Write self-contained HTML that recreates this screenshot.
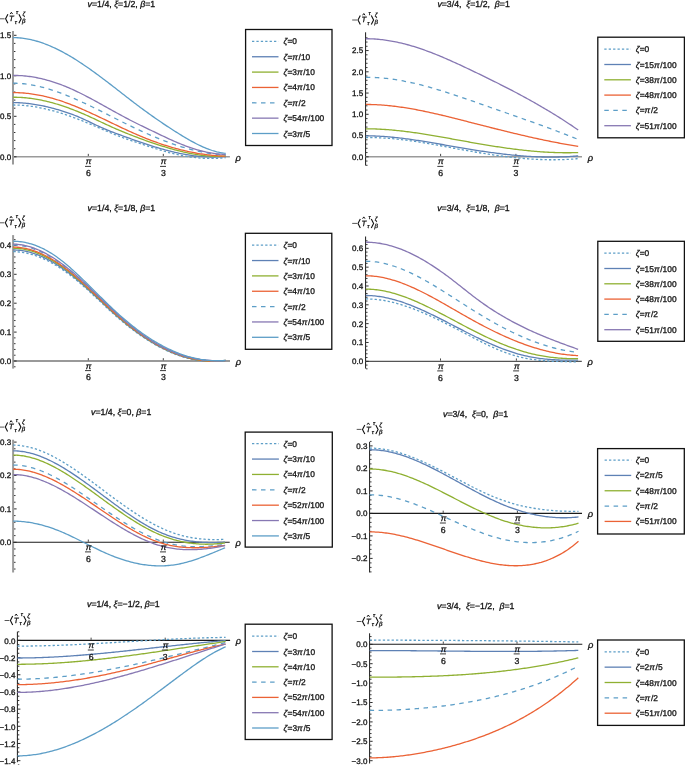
<!DOCTYPE html>
<html><head><meta charset="utf-8"><style>
html,body{margin:0;padding:0;background:#fff;width:685px;height:765px;overflow:hidden}
svg{display:block;will-change:transform;filter:blur(0.3px)}
text{font-family:"Liberation Sans", sans-serif;stroke:#111;stroke-width:0.3px;paint-order:stroke;text-rendering:geometricPrecision}
</style></head><body>
<svg width="685" height="765" viewBox="0 0 685 765">
<rect width="685" height="765" fill="#fff"/>
<line x1="13.00" y1="30.90" x2="13.00" y2="164.60" stroke="#9a9a9a" stroke-width="2.00"/>
<line x1="13.00" y1="156.80" x2="229.90" y2="156.80" stroke="#9a9a9a" stroke-width="1.50"/>
<line x1="14.00" y1="148.70" x2="15.40" y2="148.70" stroke="#222" stroke-width="0.95"/>
<line x1="14.00" y1="140.60" x2="15.40" y2="140.60" stroke="#222" stroke-width="0.95"/>
<line x1="14.00" y1="132.50" x2="15.40" y2="132.50" stroke="#222" stroke-width="0.95"/>
<line x1="14.00" y1="124.40" x2="15.40" y2="124.40" stroke="#222" stroke-width="0.95"/>
<line x1="14.00" y1="108.20" x2="15.40" y2="108.20" stroke="#222" stroke-width="0.95"/>
<line x1="14.00" y1="100.10" x2="15.40" y2="100.10" stroke="#222" stroke-width="0.95"/>
<line x1="14.00" y1="92.00" x2="15.40" y2="92.00" stroke="#222" stroke-width="0.95"/>
<line x1="14.00" y1="83.90" x2="15.40" y2="83.90" stroke="#222" stroke-width="0.95"/>
<line x1="14.00" y1="67.70" x2="15.40" y2="67.70" stroke="#222" stroke-width="0.95"/>
<line x1="14.00" y1="59.60" x2="15.40" y2="59.60" stroke="#222" stroke-width="0.95"/>
<line x1="14.00" y1="51.50" x2="15.40" y2="51.50" stroke="#222" stroke-width="0.95"/>
<line x1="14.00" y1="43.40" x2="15.40" y2="43.40" stroke="#222" stroke-width="0.95"/>
<line x1="14.00" y1="156.80" x2="16.50" y2="156.80" stroke="#222" stroke-width="0.95"/>
<text x="11.20" y="159.70" font-size="8.00" text-anchor="end" fill="#111"><tspan>0.0</tspan></text>
<line x1="14.00" y1="116.30" x2="16.50" y2="116.30" stroke="#222" stroke-width="0.95"/>
<text x="11.20" y="119.20" font-size="8.00" text-anchor="end" fill="#111"><tspan>0.5</tspan></text>
<line x1="14.00" y1="75.80" x2="16.50" y2="75.80" stroke="#222" stroke-width="0.95"/>
<text x="11.20" y="78.70" font-size="8.00" text-anchor="end" fill="#111"><tspan>1.0</tspan></text>
<line x1="14.00" y1="35.30" x2="16.50" y2="35.30" stroke="#222" stroke-width="0.95"/>
<text x="11.20" y="38.20" font-size="8.00" text-anchor="end" fill="#111"><tspan>1.5</tspan></text>
<line x1="88.30" y1="156.05" x2="88.30" y2="153.85" stroke="#333" stroke-width="0.9"/>
<line x1="163.30" y1="156.05" x2="163.30" y2="153.85" stroke="#333" stroke-width="0.9"/>
<text x="235.60" y="160.60" font-size="9.40" text-anchor="start" fill="#111"><tspan font-style="italic">ρ</tspan></text>
<path d="M13.10,105.00 L14.60,105.01 L16.09,105.04 L17.59,105.09 L19.09,105.16 L20.59,105.24 L22.08,105.34 L23.58,105.45 L25.08,105.58 L26.57,105.73 L28.07,105.90 L29.57,106.08 L31.07,106.27 L32.56,106.48 L34.06,106.71 L35.56,106.95 L37.05,107.21 L38.55,107.48 L40.05,107.77 L41.55,108.07 L43.04,108.38 L44.54,108.71 L46.04,109.05 L47.54,109.40 L49.03,109.77 L50.53,110.15 L52.03,110.54 L53.52,110.95 L55.02,111.36 L56.52,111.79 L58.02,112.23 L59.51,112.69 L61.01,113.15 L62.51,113.63 L64.00,114.11 L65.50,114.61 L67.00,115.12 L68.50,115.64 L69.99,116.16 L71.49,116.70 L72.99,117.25 L74.48,117.80 L75.98,118.37 L77.48,118.94 L78.98,119.53 L80.47,120.12 L81.97,120.72 L83.47,121.33 L84.96,121.94 L86.46,122.56 L87.96,123.19 L89.46,123.82 L90.95,124.45 L92.45,125.09 L93.95,125.73 L95.45,126.37 L96.94,127.01 L98.44,127.65 L99.94,128.30 L101.43,128.94 L102.93,129.58 L104.43,130.22 L105.93,130.86 L107.42,131.49 L108.92,132.12 L110.42,132.74 L111.91,133.36 L113.41,133.97 L114.91,134.58 L116.41,135.18 L117.90,135.77 L119.40,136.35 L120.90,136.92 L122.39,137.48 L123.89,138.03 L125.39,138.58 L126.89,139.12 L128.38,139.65 L129.88,140.17 L131.38,140.69 L132.87,141.20 L134.37,141.71 L135.87,142.21 L137.37,142.71 L138.86,143.20 L140.36,143.69 L141.86,144.18 L143.35,144.67 L144.85,145.16 L146.35,145.64 L147.85,146.13 L149.34,146.61 L150.84,147.09 L152.34,147.58 L153.84,148.05 L155.33,148.53 L156.83,149.00 L158.33,149.46 L159.82,149.92 L161.32,150.37 L162.82,150.81 L164.32,151.25 L165.81,151.68 L167.31,152.10 L168.81,152.51 L170.30,152.91 L171.80,153.29 L173.30,153.67 L174.80,154.03 L176.29,154.38 L177.79,154.72 L179.29,155.04 L180.78,155.34 L182.28,155.64 L183.78,155.92 L185.28,156.18 L186.77,156.43 L188.27,156.67 L189.77,156.89 L191.26,157.10 L192.76,157.29 L194.26,157.47 L195.76,157.64 L197.25,157.78 L198.75,157.92 L200.25,158.04 L201.75,158.14 L203.24,158.23 L204.74,158.30 L206.24,158.35 L207.73,158.39 L209.23,158.42 L210.73,158.43 L212.23,158.42 L213.72,158.40 L215.22,158.36 L216.72,158.30 L218.21,158.23 L219.71,158.14 L221.21,158.03 L222.71,157.91 L224.20,157.77 L225.70,157.62" fill="none" stroke="#5D9EC7" stroke-width="1.30" stroke-dasharray="2.3 2.1" stroke-linejoin="round"/>
<path d="M13.10,102.57 L14.60,102.59 L16.09,102.62 L17.59,102.67 L19.09,102.74 L20.59,102.82 L22.08,102.92 L23.58,103.04 L25.08,103.17 L26.57,103.32 L28.07,103.49 L29.57,103.66 L31.07,103.86 L32.56,104.07 L34.06,104.29 L35.56,104.53 L37.05,104.78 L38.55,105.05 L40.05,105.33 L41.55,105.62 L43.04,105.93 L44.54,106.25 L46.04,106.58 L47.54,106.93 L49.03,107.29 L50.53,107.66 L52.03,108.04 L53.52,108.43 L55.02,108.84 L56.52,109.26 L58.02,109.69 L59.51,110.13 L61.01,110.58 L62.51,111.04 L64.00,111.52 L65.50,112.01 L67.00,112.51 L68.50,113.02 L69.99,113.55 L71.49,114.10 L72.99,114.66 L74.48,115.24 L75.98,115.84 L77.48,116.45 L78.98,117.09 L80.47,117.74 L81.97,118.41 L83.47,119.09 L84.96,119.78 L86.46,120.48 L87.96,121.19 L89.46,121.90 L90.95,122.62 L92.45,123.34 L93.95,124.05 L95.45,124.76 L96.94,125.47 L98.44,126.17 L99.94,126.86 L101.43,127.53 L102.93,128.19 L104.43,128.84 L105.93,129.47 L107.42,130.09 L108.92,130.69 L110.42,131.28 L111.91,131.86 L113.41,132.43 L114.91,132.99 L116.41,133.55 L117.90,134.10 L119.40,134.65 L120.90,135.20 L122.39,135.75 L123.89,136.29 L125.39,136.84 L126.89,137.38 L128.38,137.92 L129.88,138.46 L131.38,139.00 L132.87,139.53 L134.37,140.06 L135.87,140.59 L137.37,141.11 L138.86,141.63 L140.36,142.15 L141.86,142.66 L143.35,143.17 L144.85,143.67 L146.35,144.17 L147.85,144.66 L149.34,145.14 L150.84,145.62 L152.34,146.10 L153.84,146.57 L155.33,147.03 L156.83,147.48 L158.33,147.93 L159.82,148.37 L161.32,148.80 L162.82,149.22 L164.32,149.64 L165.81,150.05 L167.31,150.45 L168.81,150.83 L170.30,151.21 L171.80,151.59 L173.30,151.95 L174.80,152.30 L176.29,152.64 L177.79,152.97 L179.29,153.28 L180.78,153.59 L182.28,153.89 L183.78,154.17 L185.28,154.45 L186.77,154.71 L188.27,154.95 L189.77,155.19 L191.26,155.41 L192.76,155.62 L194.26,155.82 L195.76,156.00 L197.25,156.17 L198.75,156.32 L200.25,156.46 L201.75,156.58 L203.24,156.69 L204.74,156.79 L206.24,156.86 L207.73,156.93 L209.23,156.97 L210.73,157.00 L212.23,157.02 L213.72,157.01 L215.22,156.99 L216.72,156.95 L218.21,156.90 L219.71,156.82 L221.21,156.73 L222.71,156.62 L224.20,156.49 L225.70,156.34" fill="none" stroke="#5E81B5" stroke-width="1.30" stroke-linejoin="round"/>
<path d="M13.10,97.24 L14.60,97.24 L16.09,97.26 L17.59,97.30 L19.09,97.35 L20.59,97.43 L22.08,97.52 L23.58,97.63 L25.08,97.75 L26.57,97.90 L28.07,98.05 L29.57,98.23 L31.07,98.42 L32.56,98.63 L34.06,98.85 L35.56,99.09 L37.05,99.35 L38.55,99.62 L40.05,99.91 L41.55,100.21 L43.04,100.52 L44.54,100.85 L46.04,101.20 L47.54,101.56 L49.03,101.93 L50.53,102.32 L52.03,102.72 L53.52,103.13 L55.02,103.56 L56.52,104.00 L58.02,104.45 L59.51,104.92 L61.01,105.40 L62.51,105.89 L64.00,106.39 L65.50,106.91 L67.00,107.44 L68.50,107.97 L69.99,108.52 L71.49,109.09 L72.99,109.66 L74.48,110.24 L75.98,110.83 L77.48,111.44 L78.98,112.05 L80.47,112.68 L81.97,113.31 L83.47,113.95 L84.96,114.61 L86.46,115.27 L87.96,115.94 L89.46,116.62 L90.95,117.31 L92.45,118.00 L93.95,118.70 L95.45,119.40 L96.94,120.10 L98.44,120.81 L99.94,121.51 L101.43,122.22 L102.93,122.92 L104.43,123.63 L105.93,124.33 L107.42,125.02 L108.92,125.71 L110.42,126.39 L111.91,127.07 L113.41,127.73 L114.91,128.39 L116.41,129.04 L117.90,129.68 L119.40,130.32 L120.90,130.94 L122.39,131.56 L123.89,132.18 L125.39,132.79 L126.89,133.39 L128.38,133.99 L129.88,134.58 L131.38,135.17 L132.87,135.75 L134.37,136.33 L135.87,136.91 L137.37,137.48 L138.86,138.04 L140.36,138.60 L141.86,139.15 L143.35,139.70 L144.85,140.24 L146.35,140.78 L147.85,141.31 L149.34,141.84 L150.84,142.36 L152.34,142.87 L153.84,143.38 L155.33,143.88 L156.83,144.37 L158.33,144.86 L159.82,145.34 L161.32,145.81 L162.82,146.28 L164.32,146.74 L165.81,147.19 L167.31,147.64 L168.81,148.08 L170.30,148.51 L171.80,148.93 L173.30,149.35 L174.80,149.76 L176.29,150.16 L177.79,150.55 L179.29,150.93 L180.78,151.31 L182.28,151.67 L183.78,152.03 L185.28,152.37 L186.77,152.70 L188.27,153.02 L189.77,153.33 L191.26,153.63 L192.76,153.92 L194.26,154.19 L195.76,154.44 L197.25,154.69 L198.75,154.92 L200.25,155.13 L201.75,155.33 L203.24,155.51 L204.74,155.68 L206.24,155.83 L207.73,155.96 L209.23,156.07 L210.73,156.17 L212.23,156.24 L213.72,156.30 L215.22,156.34 L216.72,156.36 L218.21,156.35 L219.71,156.33 L221.21,156.28 L222.71,156.22 L224.20,156.13 L225.70,156.02" fill="none" stroke="#8FB032" stroke-width="1.30" stroke-linejoin="round"/>
<path d="M13.10,92.60 L14.60,92.60 L16.09,92.63 L17.59,92.67 L19.09,92.73 L20.59,92.80 L22.08,92.90 L23.58,93.01 L25.08,93.14 L26.57,93.29 L28.07,93.45 L29.57,93.63 L31.07,93.83 L32.56,94.04 L34.06,94.27 L35.56,94.52 L37.05,94.78 L38.55,95.06 L40.05,95.35 L41.55,95.66 L43.04,95.98 L44.54,96.32 L46.04,96.67 L47.54,97.04 L49.03,97.42 L50.53,97.81 L52.03,98.22 L53.52,98.64 L55.02,99.08 L56.52,99.53 L58.02,100.00 L59.51,100.48 L61.01,100.97 L62.51,101.48 L64.00,102.00 L65.50,102.53 L67.00,103.07 L68.50,103.63 L69.99,104.20 L71.49,104.77 L72.99,105.36 L74.48,105.96 L75.98,106.57 L77.48,107.19 L78.98,107.82 L80.47,108.45 L81.97,109.10 L83.47,109.75 L84.96,110.41 L86.46,111.07 L87.96,111.75 L89.46,112.43 L90.95,113.11 L92.45,113.80 L93.95,114.50 L95.45,115.19 L96.94,115.90 L98.44,116.60 L99.94,117.32 L101.43,118.03 L102.93,118.74 L104.43,119.46 L105.93,120.18 L107.42,120.90 L108.92,121.62 L110.42,122.34 L111.91,123.06 L113.41,123.78 L114.91,124.49 L116.41,125.21 L117.90,125.92 L119.40,126.64 L120.90,127.34 L122.39,128.05 L123.89,128.75 L125.39,129.45 L126.89,130.14 L128.38,130.83 L129.88,131.51 L131.38,132.18 L132.87,132.85 L134.37,133.52 L135.87,134.17 L137.37,134.82 L138.86,135.46 L140.36,136.09 L141.86,136.71 L143.35,137.33 L144.85,137.93 L146.35,138.53 L147.85,139.12 L149.34,139.70 L150.84,140.27 L152.34,140.83 L153.84,141.39 L155.33,141.93 L156.83,142.47 L158.33,142.99 L159.82,143.51 L161.32,144.02 L162.82,144.52 L164.32,145.01 L165.81,145.49 L167.31,145.96 L168.81,146.42 L170.30,146.87 L171.80,147.31 L173.30,147.75 L174.80,148.17 L176.29,148.58 L177.79,148.98 L179.29,149.37 L180.78,149.76 L182.28,150.13 L183.78,150.49 L185.28,150.84 L186.77,151.18 L188.27,151.51 L189.77,151.83 L191.26,152.14 L192.76,152.44 L194.26,152.73 L195.76,153.01 L197.25,153.27 L198.75,153.53 L200.25,153.77 L201.75,154.01 L203.24,154.23 L204.74,154.44 L206.24,154.64 L207.73,154.83 L209.23,155.01 L210.73,155.17 L212.23,155.32 L213.72,155.47 L215.22,155.60 L216.72,155.72 L218.21,155.82 L219.71,155.92 L221.21,156.00 L222.71,156.07 L224.20,156.13 L225.70,156.18" fill="none" stroke="#EB6235" stroke-width="1.30" stroke-linejoin="round"/>
<path d="M13.10,83.20 L14.60,83.21 L16.09,83.25 L17.59,83.31 L19.09,83.40 L20.59,83.50 L22.08,83.63 L23.58,83.77 L25.08,83.94 L26.57,84.13 L28.07,84.33 L29.57,84.56 L31.07,84.80 L32.56,85.07 L34.06,85.35 L35.56,85.65 L37.05,85.97 L38.55,86.31 L40.05,86.66 L41.55,87.03 L43.04,87.42 L44.54,87.82 L46.04,88.24 L47.54,88.67 L49.03,89.12 L50.53,89.58 L52.03,90.06 L53.52,90.55 L55.02,91.05 L56.52,91.57 L58.02,92.10 L59.51,92.64 L61.01,93.19 L62.51,93.76 L64.00,94.34 L65.50,94.93 L67.00,95.53 L68.50,96.14 L69.99,96.76 L71.49,97.38 L72.99,98.02 L74.48,98.67 L75.98,99.33 L77.48,99.99 L78.98,100.66 L80.47,101.34 L81.97,102.03 L83.47,102.72 L84.96,103.42 L86.46,104.13 L87.96,104.84 L89.46,105.56 L90.95,106.28 L92.45,107.00 L93.95,107.74 L95.45,108.47 L96.94,109.21 L98.44,109.95 L99.94,110.70 L101.43,111.44 L102.93,112.19 L104.43,112.94 L105.93,113.70 L107.42,114.45 L108.92,115.21 L110.42,115.96 L111.91,116.72 L113.41,117.47 L114.91,118.22 L116.41,118.98 L117.90,119.73 L119.40,120.48 L120.90,121.23 L122.39,121.97 L123.89,122.72 L125.39,123.46 L126.89,124.19 L128.38,124.93 L129.88,125.66 L131.38,126.38 L132.87,127.10 L134.37,127.82 L135.87,128.53 L137.37,129.23 L138.86,129.93 L140.36,130.62 L141.86,131.31 L143.35,131.99 L144.85,132.67 L146.35,133.34 L147.85,134.00 L149.34,134.66 L150.84,135.31 L152.34,135.95 L153.84,136.59 L155.33,137.22 L156.83,137.84 L158.33,138.45 L159.82,139.05 L161.32,139.65 L162.82,140.24 L164.32,140.82 L165.81,141.39 L167.31,141.95 L168.81,142.50 L170.30,143.05 L171.80,143.58 L173.30,144.11 L174.80,144.62 L176.29,145.12 L177.79,145.62 L179.29,146.10 L180.78,146.57 L182.28,147.04 L183.78,147.49 L185.28,147.93 L186.77,148.36 L188.27,148.77 L189.77,149.18 L191.26,149.57 L192.76,149.95 L194.26,150.32 L195.76,150.67 L197.25,151.02 L198.75,151.35 L200.25,151.66 L201.75,151.97 L203.24,152.26 L204.74,152.53 L206.24,152.80 L207.73,153.04 L209.23,153.28 L210.73,153.50 L212.23,153.70 L213.72,153.89 L215.22,154.07 L216.72,154.23 L218.21,154.37 L219.71,154.50 L221.21,154.61 L222.71,154.71 L224.20,154.79 L225.70,154.86" fill="none" stroke="#5D9EC7" stroke-width="1.30" stroke-dasharray="4.5 4.5" stroke-linejoin="round"/>
<path d="M13.10,75.41 L14.60,75.41 L16.09,75.44 L17.59,75.48 L19.09,75.54 L20.59,75.62 L22.08,75.72 L23.58,75.85 L25.08,75.98 L26.57,76.14 L28.07,76.32 L29.57,76.51 L31.07,76.73 L32.56,76.96 L34.06,77.21 L35.56,77.48 L37.05,77.76 L38.55,78.07 L40.05,78.39 L41.55,78.73 L43.04,79.09 L44.54,79.46 L46.04,79.85 L47.54,80.26 L49.03,80.68 L50.53,81.13 L52.03,81.58 L53.52,82.06 L55.02,82.55 L56.52,83.06 L58.02,83.58 L59.51,84.12 L61.01,84.68 L62.51,85.25 L64.00,85.84 L65.50,86.44 L67.00,87.06 L68.50,87.69 L69.99,88.34 L71.49,89.00 L72.99,89.68 L74.48,90.37 L75.98,91.07 L77.48,91.79 L78.98,92.51 L80.47,93.25 L81.97,94.00 L83.47,94.76 L84.96,95.53 L86.46,96.30 L87.96,97.08 L89.46,97.88 L90.95,98.67 L92.45,99.48 L93.95,100.29 L95.45,101.10 L96.94,101.92 L98.44,102.74 L99.94,103.57 L101.43,104.40 L102.93,105.23 L104.43,106.06 L105.93,106.89 L107.42,107.73 L108.92,108.56 L110.42,109.39 L111.91,110.23 L113.41,111.06 L114.91,111.89 L116.41,112.72 L117.90,113.54 L119.40,114.36 L120.90,115.18 L122.39,115.99 L123.89,116.79 L125.39,117.59 L126.89,118.39 L128.38,119.18 L129.88,119.96 L131.38,120.73 L132.87,121.49 L134.37,122.25 L135.87,123.00 L137.37,123.74 L138.86,124.48 L140.36,125.22 L141.86,125.94 L143.35,126.67 L144.85,127.39 L146.35,128.11 L147.85,128.83 L149.34,129.55 L150.84,130.26 L152.34,130.98 L153.84,131.69 L155.33,132.41 L156.83,133.13 L158.33,133.85 L159.82,134.57 L161.32,135.29 L162.82,136.00 L164.32,136.71 L165.81,137.42 L167.31,138.12 L168.81,138.81 L170.30,139.50 L171.80,140.18 L173.30,140.85 L174.80,141.51 L176.29,142.15 L177.79,142.79 L179.29,143.41 L180.78,144.02 L182.28,144.62 L183.78,145.20 L185.28,145.77 L186.77,146.33 L188.27,146.87 L189.77,147.40 L191.26,147.90 L192.76,148.40 L194.26,148.88 L195.76,149.34 L197.25,149.78 L198.75,150.20 L200.25,150.61 L201.75,151.00 L203.24,151.37 L204.74,151.72 L206.24,152.05 L207.73,152.36 L209.23,152.65 L210.73,152.92 L212.23,153.17 L213.72,153.39 L215.22,153.60 L216.72,153.78 L218.21,153.94 L219.71,154.07 L221.21,154.18 L222.71,154.27 L224.20,154.33 L225.70,154.37" fill="none" stroke="#8778B3" stroke-width="1.30" stroke-linejoin="round"/>
<path d="M13.10,37.60 L14.60,37.61 L16.09,37.66 L17.59,37.74 L19.09,37.84 L20.59,37.98 L22.08,38.14 L23.58,38.33 L25.08,38.55 L26.57,38.79 L28.07,39.07 L29.57,39.37 L31.07,39.69 L32.56,40.05 L34.06,40.42 L35.56,40.83 L37.05,41.25 L38.55,41.70 L40.05,42.18 L41.55,42.68 L43.04,43.20 L44.54,43.75 L46.04,44.31 L47.54,44.90 L49.03,45.51 L50.53,46.15 L52.03,46.80 L53.52,47.47 L55.02,48.17 L56.52,48.88 L58.02,49.61 L59.51,50.37 L61.01,51.14 L62.51,51.93 L64.00,52.73 L65.50,53.56 L67.00,54.40 L68.50,55.26 L69.99,56.13 L71.49,57.02 L72.99,57.93 L74.48,58.85 L75.98,59.78 L77.48,60.73 L78.98,61.69 L80.47,62.67 L81.97,63.66 L83.47,64.67 L84.96,65.68 L86.46,66.71 L87.96,67.75 L89.46,68.80 L90.95,69.86 L92.45,70.93 L93.95,72.01 L95.45,73.11 L96.94,74.20 L98.44,75.31 L99.94,76.42 L101.43,77.55 L102.93,78.67 L104.43,79.81 L105.93,80.95 L107.42,82.09 L108.92,83.24 L110.42,84.39 L111.91,85.54 L113.41,86.70 L114.91,87.86 L116.41,89.02 L117.90,90.18 L119.40,91.35 L120.90,92.51 L122.39,93.67 L123.89,94.84 L125.39,96.00 L126.89,97.15 L128.38,98.31 L129.88,99.46 L131.38,100.61 L132.87,101.76 L134.37,102.90 L135.87,104.03 L137.37,105.16 L138.86,106.28 L140.36,107.40 L141.86,108.51 L143.35,109.61 L144.85,110.71 L146.35,111.80 L147.85,112.89 L149.34,113.96 L150.84,115.03 L152.34,116.10 L153.84,117.15 L155.33,118.20 L156.83,119.25 L158.33,120.28 L159.82,121.31 L161.32,122.33 L162.82,123.35 L164.32,124.35 L165.81,125.35 L167.31,126.34 L168.81,127.33 L170.30,128.30 L171.80,129.27 L173.30,130.24 L174.80,131.19 L176.29,132.13 L177.79,133.07 L179.29,134.00 L180.78,134.92 L182.28,135.84 L183.78,136.74 L185.28,137.63 L186.77,138.51 L188.27,139.38 L189.77,140.23 L191.26,141.07 L192.76,141.89 L194.26,142.69 L195.76,143.48 L197.25,144.24 L198.75,144.98 L200.25,145.70 L201.75,146.40 L203.24,147.07 L204.74,147.71 L206.24,148.33 L207.73,148.92 L209.23,149.48 L210.73,150.00 L212.23,150.50 L213.72,150.96 L215.22,151.39 L216.72,151.79 L218.21,152.14 L219.71,152.46 L221.21,152.74 L222.71,152.98 L224.20,153.18 L225.70,153.34" fill="none" stroke="#5D9EC7" stroke-width="1.30" stroke-linejoin="round"/>
<text x="88.60" y="164.30" font-size="8.40" text-anchor="middle" fill="#111"><tspan font-style="italic">π</tspan></text>
<line x1="85.00" y1="166.40" x2="91.00" y2="166.40" stroke="#222" stroke-width="0.9"/>
<text x="88.30" y="176.00" font-size="8.70" text-anchor="middle" fill="#111"><tspan>6</tspan></text>
<text x="163.60" y="164.30" font-size="8.40" text-anchor="middle" fill="#111"><tspan font-style="italic">π</tspan></text>
<line x1="160.00" y1="166.40" x2="166.00" y2="166.40" stroke="#222" stroke-width="0.9"/>
<text x="163.30" y="176.00" font-size="8.70" text-anchor="middle" fill="#111"><tspan>3</tspan></text>
<text x="121.40" y="6.60" font-size="8.75" text-anchor="middle" fill="#111"><tspan font-style="italic">v</tspan><tspan>=1/4, </tspan><tspan font-style="italic">ξ</tspan><tspan>=1/2, </tspan><tspan font-style="italic">β</tspan><tspan>=1</tspan></text>
<g transform="translate(-0.40,18.80)" fill="#1a1a1a">
<line x1="0.2" y1="0" x2="5.0" y2="0" stroke="#444" stroke-width="0.9"/>
<polyline points="8.3,-4.5 6.0,0 8.3,4.5" fill="none" stroke="#111" stroke-width="1.1"/>
<polyline points="19.3,-4.5 21.6,0 19.3,4.5" fill="none" stroke="#111" stroke-width="1.1"/>
<text fill="#111" x="9.4" y="2.1" font-size="7.8" font-style="italic">T</text>
<polyline points="10.6,-4.7 11.8,-6.5 13.0,-4.7" fill="none" stroke="#111" stroke-width="1.0"/>
<text x="16.4" y="-4.7" font-size="5.6" font-style="italic">τ</text>
<text x="15.2" y="4.8" font-size="5.6" font-style="italic">τ</text>
<text x="22.8" y="-2.9" font-size="6" font-style="italic">ζ</text>
<text x="22.5" y="4.3" font-size="6" font-style="italic">β</text>
</g>
<rect x="245.60" y="29.50" width="86.40" height="116.00" fill="none" stroke="#111" stroke-width="1.3"/>
<line x1="252.00" y1="41.40" x2="278.50" y2="41.40" stroke="#5D9EC7" stroke-width="1.3" stroke-dasharray="2.3 2.1"/>
<text x="283.50" y="44.40" font-size="8.40" text-anchor="start" fill="#111"><tspan font-style="italic">ζ</tspan><tspan>=</tspan><tspan>0</tspan></text>
<line x1="252.00" y1="56.75" x2="278.50" y2="56.75" stroke="#5E81B5" stroke-width="1.3"/>
<text x="283.50" y="59.75" font-size="8.40" text-anchor="start" fill="#111"><tspan font-style="italic">ζ</tspan><tspan>=</tspan><tspan font-style="italic">π</tspan><tspan dx="0.7">/10</tspan></text>
<line x1="252.00" y1="72.10" x2="278.50" y2="72.10" stroke="#8FB032" stroke-width="1.3"/>
<text x="283.50" y="75.10" font-size="8.40" text-anchor="start" fill="#111"><tspan font-style="italic">ζ</tspan><tspan>=</tspan><tspan>3</tspan><tspan font-style="italic">π</tspan><tspan dx="0.7">/10</tspan></text>
<line x1="252.00" y1="87.45" x2="278.50" y2="87.45" stroke="#EB6235" stroke-width="1.3"/>
<text x="283.50" y="90.45" font-size="8.40" text-anchor="start" fill="#111"><tspan font-style="italic">ζ</tspan><tspan>=</tspan><tspan>4</tspan><tspan font-style="italic">π</tspan><tspan dx="0.7">/10</tspan></text>
<line x1="252.00" y1="102.80" x2="278.50" y2="102.80" stroke="#5D9EC7" stroke-width="1.3" stroke-dasharray="4.5 4.5"/>
<text x="283.50" y="105.80" font-size="8.40" text-anchor="start" fill="#111"><tspan font-style="italic">ζ</tspan><tspan>=</tspan><tspan font-style="italic">π</tspan><tspan dx="0.7">/2</tspan></text>
<line x1="252.00" y1="118.15" x2="278.50" y2="118.15" stroke="#8778B3" stroke-width="1.3"/>
<text x="283.50" y="121.15" font-size="8.40" text-anchor="start" fill="#111"><tspan font-style="italic">ζ</tspan><tspan>=</tspan><tspan>54</tspan><tspan font-style="italic">π</tspan><tspan dx="0.7">/100</tspan></text>
<line x1="252.00" y1="133.50" x2="278.50" y2="133.50" stroke="#5D9EC7" stroke-width="1.3"/>
<text x="283.50" y="136.50" font-size="8.40" text-anchor="start" fill="#111"><tspan font-style="italic">ζ</tspan><tspan>=</tspan><tspan>3</tspan><tspan font-style="italic">π</tspan><tspan dx="0.7">/5</tspan></text>
<line x1="365.60" y1="32.30" x2="365.60" y2="165.60" stroke="#1a1a1a" stroke-width="1.00"/>
<line x1="365.60" y1="156.80" x2="582.00" y2="156.80" stroke="#9a9a9a" stroke-width="1.50"/>
<line x1="366.10" y1="165.30" x2="367.50" y2="165.30" stroke="#222" stroke-width="0.95"/>
<line x1="366.10" y1="161.05" x2="367.50" y2="161.05" stroke="#222" stroke-width="0.95"/>
<line x1="366.10" y1="152.55" x2="367.50" y2="152.55" stroke="#222" stroke-width="0.95"/>
<line x1="366.10" y1="148.30" x2="367.50" y2="148.30" stroke="#222" stroke-width="0.95"/>
<line x1="366.10" y1="144.05" x2="367.50" y2="144.05" stroke="#222" stroke-width="0.95"/>
<line x1="366.10" y1="139.80" x2="367.50" y2="139.80" stroke="#222" stroke-width="0.95"/>
<line x1="366.10" y1="131.30" x2="367.50" y2="131.30" stroke="#222" stroke-width="0.95"/>
<line x1="366.10" y1="127.05" x2="367.50" y2="127.05" stroke="#222" stroke-width="0.95"/>
<line x1="366.10" y1="122.80" x2="367.50" y2="122.80" stroke="#222" stroke-width="0.95"/>
<line x1="366.10" y1="118.55" x2="367.50" y2="118.55" stroke="#222" stroke-width="0.95"/>
<line x1="366.10" y1="110.05" x2="367.50" y2="110.05" stroke="#222" stroke-width="0.95"/>
<line x1="366.10" y1="105.80" x2="367.50" y2="105.80" stroke="#222" stroke-width="0.95"/>
<line x1="366.10" y1="101.55" x2="367.50" y2="101.55" stroke="#222" stroke-width="0.95"/>
<line x1="366.10" y1="97.30" x2="367.50" y2="97.30" stroke="#222" stroke-width="0.95"/>
<line x1="366.10" y1="88.80" x2="367.50" y2="88.80" stroke="#222" stroke-width="0.95"/>
<line x1="366.10" y1="84.55" x2="367.50" y2="84.55" stroke="#222" stroke-width="0.95"/>
<line x1="366.10" y1="80.30" x2="367.50" y2="80.30" stroke="#222" stroke-width="0.95"/>
<line x1="366.10" y1="76.05" x2="367.50" y2="76.05" stroke="#222" stroke-width="0.95"/>
<line x1="366.10" y1="67.55" x2="367.50" y2="67.55" stroke="#222" stroke-width="0.95"/>
<line x1="366.10" y1="63.30" x2="367.50" y2="63.30" stroke="#222" stroke-width="0.95"/>
<line x1="366.10" y1="59.05" x2="367.50" y2="59.05" stroke="#222" stroke-width="0.95"/>
<line x1="366.10" y1="54.80" x2="367.50" y2="54.80" stroke="#222" stroke-width="0.95"/>
<line x1="366.10" y1="46.30" x2="367.50" y2="46.30" stroke="#222" stroke-width="0.95"/>
<line x1="366.10" y1="42.05" x2="367.50" y2="42.05" stroke="#222" stroke-width="0.95"/>
<line x1="366.10" y1="37.80" x2="367.50" y2="37.80" stroke="#222" stroke-width="0.95"/>
<line x1="366.10" y1="156.80" x2="368.60" y2="156.80" stroke="#222" stroke-width="0.95"/>
<text x="363.20" y="159.70" font-size="8.00" text-anchor="end" fill="#111"><tspan>0.0</tspan></text>
<line x1="366.10" y1="135.55" x2="368.60" y2="135.55" stroke="#222" stroke-width="0.95"/>
<text x="363.20" y="138.45" font-size="8.00" text-anchor="end" fill="#111"><tspan>0.5</tspan></text>
<line x1="366.10" y1="114.30" x2="368.60" y2="114.30" stroke="#222" stroke-width="0.95"/>
<text x="363.20" y="117.20" font-size="8.00" text-anchor="end" fill="#111"><tspan>1.0</tspan></text>
<line x1="366.10" y1="93.05" x2="368.60" y2="93.05" stroke="#222" stroke-width="0.95"/>
<text x="363.20" y="95.95" font-size="8.00" text-anchor="end" fill="#111"><tspan>1.5</tspan></text>
<line x1="366.10" y1="71.80" x2="368.60" y2="71.80" stroke="#222" stroke-width="0.95"/>
<text x="363.20" y="74.70" font-size="8.00" text-anchor="end" fill="#111"><tspan>2.0</tspan></text>
<line x1="366.10" y1="50.55" x2="368.60" y2="50.55" stroke="#222" stroke-width="0.95"/>
<text x="363.20" y="53.45" font-size="8.00" text-anchor="end" fill="#111"><tspan>2.5</tspan></text>
<line x1="440.60" y1="156.05" x2="440.60" y2="153.85" stroke="#333" stroke-width="0.9"/>
<line x1="515.90" y1="156.05" x2="515.90" y2="153.85" stroke="#333" stroke-width="0.9"/>
<text x="587.70" y="160.60" font-size="9.40" text-anchor="start" fill="#111"><tspan font-style="italic">ρ</tspan></text>
<path d="M365.80,137.48 L367.30,137.48 L368.79,137.49 L370.29,137.50 L371.78,137.53 L373.28,137.56 L374.77,137.60 L376.27,137.66 L377.77,137.71 L379.26,137.78 L380.76,137.85 L382.25,137.94 L383.75,138.03 L385.25,138.12 L386.74,138.23 L388.24,138.34 L389.73,138.46 L391.23,138.59 L392.72,138.72 L394.22,138.86 L395.72,139.01 L397.21,139.16 L398.71,139.32 L400.20,139.48 L401.70,139.66 L403.19,139.83 L404.69,140.02 L406.19,140.21 L407.68,140.40 L409.18,140.60 L410.67,140.80 L412.17,141.01 L413.66,141.23 L415.16,141.45 L416.66,141.68 L418.15,141.90 L419.65,142.14 L421.14,142.38 L422.64,142.62 L424.14,142.86 L425.63,143.11 L427.13,143.37 L428.62,143.62 L430.12,143.88 L431.61,144.14 L433.11,144.41 L434.61,144.67 L436.10,144.94 L437.60,145.21 L439.09,145.48 L440.59,145.76 L442.08,146.03 L443.58,146.31 L445.08,146.58 L446.57,146.86 L448.07,147.14 L449.56,147.42 L451.06,147.70 L452.55,147.97 L454.05,148.25 L455.55,148.53 L457.04,148.80 L458.54,149.08 L460.03,149.35 L461.53,149.62 L463.03,149.89 L464.52,150.16 L466.02,150.43 L467.51,150.69 L469.01,150.96 L470.50,151.22 L472.00,151.48 L473.50,151.74 L474.99,151.99 L476.49,152.25 L477.98,152.50 L479.48,152.74 L480.97,152.99 L482.47,153.23 L483.97,153.47 L485.46,153.71 L486.96,153.94 L488.45,154.17 L489.95,154.40 L491.45,154.62 L492.94,154.84 L494.44,155.06 L495.93,155.28 L497.43,155.49 L498.92,155.69 L500.42,155.89 L501.92,156.09 L503.41,156.29 L504.91,156.48 L506.40,156.66 L507.90,156.84 L509.39,157.02 L510.89,157.19 L512.39,157.36 L513.88,157.52 L515.38,157.68 L516.87,157.83 L518.37,157.98 L519.86,158.12 L521.36,158.26 L522.86,158.39 L524.35,158.52 L525.85,158.64 L527.34,158.75 L528.84,158.86 L530.34,158.97 L531.83,159.06 L533.33,159.16 L534.82,159.24 L536.32,159.32 L537.81,159.39 L539.31,159.46 L540.81,159.52 L542.30,159.58 L543.80,159.62 L545.29,159.66 L546.79,159.70 L548.28,159.72 L549.78,159.74 L551.28,159.75 L552.77,159.76 L554.27,159.75 L555.76,159.74 L557.26,159.73 L558.75,159.70 L560.25,159.67 L561.75,159.63 L563.24,159.58 L564.74,159.52 L566.23,159.45 L567.73,159.38 L569.23,159.30 L570.72,159.21 L572.22,159.11 L573.71,159.00 L575.21,158.88 L576.70,158.76 L578.20,158.62" fill="none" stroke="#5D9EC7" stroke-width="1.30" stroke-dasharray="2.3 2.1" stroke-linejoin="round"/>
<path d="M365.80,135.83 L367.30,135.83 L368.79,135.84 L370.29,135.87 L371.78,135.90 L373.28,135.94 L374.77,135.99 L376.27,136.05 L377.77,136.12 L379.26,136.20 L380.76,136.28 L382.25,136.37 L383.75,136.47 L385.25,136.58 L386.74,136.70 L388.24,136.82 L389.73,136.95 L391.23,137.08 L392.72,137.23 L394.22,137.38 L395.72,137.53 L397.21,137.69 L398.71,137.86 L400.20,138.03 L401.70,138.21 L403.19,138.40 L404.69,138.59 L406.19,138.78 L407.68,138.98 L409.18,139.19 L410.67,139.40 L412.17,139.61 L413.66,139.83 L415.16,140.05 L416.66,140.27 L418.15,140.50 L419.65,140.73 L421.14,140.97 L422.64,141.21 L424.14,141.45 L425.63,141.69 L427.13,141.94 L428.62,142.19 L430.12,142.44 L431.61,142.69 L433.11,142.95 L434.61,143.20 L436.10,143.46 L437.60,143.72 L439.09,143.98 L440.59,144.24 L442.08,144.50 L443.58,144.76 L445.08,145.03 L446.57,145.29 L448.07,145.55 L449.56,145.81 L451.06,146.08 L452.55,146.34 L454.05,146.60 L455.55,146.86 L457.04,147.12 L458.54,147.37 L460.03,147.63 L461.53,147.88 L463.03,148.14 L464.52,148.39 L466.02,148.64 L467.51,148.88 L469.01,149.13 L470.50,149.37 L472.00,149.62 L473.50,149.86 L474.99,150.09 L476.49,150.33 L477.98,150.56 L479.48,150.79 L480.97,151.02 L482.47,151.24 L483.97,151.46 L485.46,151.68 L486.96,151.90 L488.45,152.11 L489.95,152.32 L491.45,152.53 L492.94,152.73 L494.44,152.93 L495.93,153.13 L497.43,153.32 L498.92,153.51 L500.42,153.69 L501.92,153.87 L503.41,154.05 L504.91,154.23 L506.40,154.39 L507.90,154.56 L509.39,154.72 L510.89,154.88 L512.39,155.03 L513.88,155.17 L515.38,155.32 L516.87,155.45 L518.37,155.59 L519.86,155.72 L521.36,155.84 L522.86,155.96 L524.35,156.07 L525.85,156.18 L527.34,156.28 L528.84,156.37 L530.34,156.46 L531.83,156.55 L533.33,156.63 L534.82,156.70 L536.32,156.77 L537.81,156.83 L539.31,156.89 L540.81,156.93 L542.30,156.98 L543.80,157.01 L545.29,157.04 L546.79,157.07 L548.28,157.08 L549.78,157.09 L551.28,157.10 L552.77,157.09 L554.27,157.08 L555.76,157.06 L557.26,157.04 L558.75,157.01 L560.25,156.97 L561.75,156.92 L563.24,156.86 L564.74,156.80 L566.23,156.73 L567.73,156.65 L569.23,156.57 L570.72,156.47 L572.22,156.37 L573.71,156.26 L575.21,156.14 L576.70,156.02 L578.20,155.88" fill="none" stroke="#5E81B5" stroke-width="1.30" stroke-linejoin="round"/>
<path d="M365.80,128.82 L367.30,128.83 L368.79,128.84 L370.29,128.86 L371.78,128.89 L373.28,128.92 L374.77,128.97 L376.27,129.02 L377.77,129.08 L379.26,129.15 L380.76,129.23 L382.25,129.31 L383.75,129.41 L385.25,129.50 L386.74,129.61 L388.24,129.72 L389.73,129.84 L391.23,129.97 L392.72,130.10 L394.22,130.24 L395.72,130.38 L397.21,130.54 L398.71,130.69 L400.20,130.85 L401.70,131.02 L403.19,131.20 L404.69,131.38 L406.19,131.56 L407.68,131.75 L409.18,131.94 L410.67,132.14 L412.17,132.34 L413.66,132.55 L415.16,132.76 L416.66,132.98 L418.15,133.20 L419.65,133.42 L421.14,133.65 L422.64,133.88 L424.14,134.12 L425.63,134.35 L427.13,134.59 L428.62,134.84 L430.12,135.08 L431.61,135.33 L433.11,135.58 L434.61,135.84 L436.10,136.09 L437.60,136.35 L439.09,136.61 L440.59,136.87 L442.08,137.14 L443.58,137.40 L445.08,137.67 L446.57,137.94 L448.07,138.21 L449.56,138.48 L451.06,138.75 L452.55,139.02 L454.05,139.29 L455.55,139.56 L457.04,139.83 L458.54,140.10 L460.03,140.38 L461.53,140.65 L463.03,140.92 L464.52,141.19 L466.02,141.46 L467.51,141.73 L469.01,142.00 L470.50,142.27 L472.00,142.53 L473.50,142.80 L474.99,143.06 L476.49,143.32 L477.98,143.58 L479.48,143.84 L480.97,144.09 L482.47,144.35 L483.97,144.60 L485.46,144.85 L486.96,145.09 L488.45,145.34 L489.95,145.58 L491.45,145.82 L492.94,146.06 L494.44,146.29 L495.93,146.53 L497.43,146.76 L498.92,146.98 L500.42,147.20 L501.92,147.42 L503.41,147.64 L504.91,147.85 L506.40,148.07 L507.90,148.27 L509.39,148.48 L510.89,148.67 L512.39,148.87 L513.88,149.06 L515.38,149.25 L516.87,149.44 L518.37,149.62 L519.86,149.79 L521.36,149.96 L522.86,150.13 L524.35,150.30 L525.85,150.45 L527.34,150.61 L528.84,150.76 L530.34,150.90 L531.83,151.04 L533.33,151.18 L534.82,151.31 L536.32,151.43 L537.81,151.55 L539.31,151.67 L540.81,151.78 L542.30,151.88 L543.80,151.98 L545.29,152.08 L546.79,152.16 L548.28,152.25 L549.78,152.32 L551.28,152.39 L552.77,152.46 L554.27,152.51 L555.76,152.57 L557.26,152.61 L558.75,152.65 L560.25,152.68 L561.75,152.71 L563.24,152.73 L564.74,152.74 L566.23,152.75 L567.73,152.75 L569.23,152.74 L570.72,152.73 L572.22,152.71 L573.71,152.68 L575.21,152.64 L576.70,152.60 L578.20,152.55" fill="none" stroke="#8FB032" stroke-width="1.30" stroke-linejoin="round"/>
<path d="M365.80,104.47 L367.30,104.47 L368.79,104.49 L370.29,104.51 L371.78,104.55 L373.28,104.59 L374.77,104.65 L376.27,104.72 L377.77,104.79 L379.26,104.88 L380.76,104.97 L382.25,105.08 L383.75,105.19 L385.25,105.32 L386.74,105.45 L388.24,105.59 L389.73,105.74 L391.23,105.90 L392.72,106.07 L394.22,106.24 L395.72,106.43 L397.21,106.62 L398.71,106.82 L400.20,107.03 L401.70,107.24 L403.19,107.46 L404.69,107.69 L406.19,107.92 L407.68,108.17 L409.18,108.42 L410.67,108.67 L412.17,108.93 L413.66,109.20 L415.16,109.47 L416.66,109.75 L418.15,110.04 L419.65,110.33 L421.14,110.63 L422.64,110.93 L424.14,111.24 L425.63,111.55 L427.13,111.86 L428.62,112.18 L430.12,112.51 L431.61,112.84 L433.11,113.17 L434.61,113.51 L436.10,113.85 L437.60,114.20 L439.09,114.54 L440.59,114.90 L442.08,115.25 L443.58,115.61 L445.08,115.97 L446.57,116.33 L448.07,116.70 L449.56,117.07 L451.06,117.44 L452.55,117.81 L454.05,118.19 L455.55,118.56 L457.04,118.94 L458.54,119.32 L460.03,119.70 L461.53,120.08 L463.03,120.47 L464.52,120.85 L466.02,121.24 L467.51,121.62 L469.01,122.01 L470.50,122.39 L472.00,122.78 L473.50,123.16 L474.99,123.55 L476.49,123.93 L477.98,124.32 L479.48,124.70 L480.97,125.08 L482.47,125.46 L483.97,125.85 L485.46,126.23 L486.96,126.61 L488.45,126.99 L489.95,127.37 L491.45,127.75 L492.94,128.12 L494.44,128.50 L495.93,128.87 L497.43,129.25 L498.92,129.62 L500.42,129.99 L501.92,130.36 L503.41,130.73 L504.91,131.10 L506.40,131.47 L507.90,131.83 L509.39,132.20 L510.89,132.56 L512.39,132.92 L513.88,133.28 L515.38,133.63 L516.87,133.99 L518.37,134.34 L519.86,134.69 L521.36,135.04 L522.86,135.39 L524.35,135.74 L525.85,136.08 L527.34,136.42 L528.84,136.76 L530.34,137.10 L531.83,137.43 L533.33,137.77 L534.82,138.10 L536.32,138.42 L537.81,138.75 L539.31,139.07 L540.81,139.39 L542.30,139.71 L543.80,140.02 L545.29,140.34 L546.79,140.65 L548.28,140.95 L549.78,141.26 L551.28,141.56 L552.77,141.85 L554.27,142.15 L555.76,142.44 L557.26,142.73 L558.75,143.01 L560.25,143.29 L561.75,143.57 L563.24,143.85 L564.74,144.12 L566.23,144.39 L567.73,144.65 L569.23,144.91 L570.72,145.17 L572.22,145.42 L573.71,145.67 L575.21,145.92 L576.70,146.16 L578.20,146.40" fill="none" stroke="#EB6235" stroke-width="1.30" stroke-linejoin="round"/>
<path d="M365.80,77.27 L367.30,77.28 L368.79,77.29 L370.29,77.32 L371.78,77.36 L373.28,77.42 L374.77,77.49 L376.27,77.57 L377.77,77.66 L379.26,77.76 L380.76,77.88 L382.25,78.01 L383.75,78.15 L385.25,78.31 L386.74,78.47 L388.24,78.65 L389.73,78.83 L391.23,79.03 L392.72,79.24 L394.22,79.46 L395.72,79.68 L397.21,79.92 L398.71,80.17 L400.20,80.43 L401.70,80.70 L403.19,80.98 L404.69,81.27 L406.19,81.56 L407.68,81.87 L409.18,82.18 L410.67,82.50 L412.17,82.83 L413.66,83.17 L415.16,83.52 L416.66,83.88 L418.15,84.24 L419.65,84.61 L421.14,84.99 L422.64,85.37 L424.14,85.76 L425.63,86.16 L427.13,86.57 L428.62,86.98 L430.12,87.40 L431.61,87.82 L433.11,88.25 L434.61,88.69 L436.10,89.13 L437.60,89.58 L439.09,90.03 L440.59,90.48 L442.08,90.95 L443.58,91.41 L445.08,91.88 L446.57,92.36 L448.07,92.84 L449.56,93.32 L451.06,93.81 L452.55,94.30 L454.05,94.80 L455.55,95.29 L457.04,95.79 L458.54,96.30 L460.03,96.81 L461.53,97.31 L463.03,97.83 L464.52,98.34 L466.02,98.86 L467.51,99.37 L469.01,99.89 L470.50,100.41 L472.00,100.94 L473.50,101.46 L474.99,101.98 L476.49,102.51 L477.98,103.03 L479.48,103.56 L480.97,104.09 L482.47,104.61 L483.97,105.14 L485.46,105.67 L486.96,106.19 L488.45,106.72 L489.95,107.24 L491.45,107.77 L492.94,108.29 L494.44,108.81 L495.93,109.34 L497.43,109.86 L498.92,110.38 L500.42,110.90 L501.92,111.42 L503.41,111.94 L504.91,112.47 L506.40,112.99 L507.90,113.51 L509.39,114.03 L510.89,114.55 L512.39,115.08 L513.88,115.60 L515.38,116.12 L516.87,116.65 L518.37,117.17 L519.86,117.70 L521.36,118.22 L522.86,118.75 L524.35,119.28 L525.85,119.80 L527.34,120.33 L528.84,120.86 L530.34,121.40 L531.83,121.93 L533.33,122.46 L534.82,123.00 L536.32,123.54 L537.81,124.08 L539.31,124.62 L540.81,125.16 L542.30,125.70 L543.80,126.25 L545.29,126.80 L546.79,127.35 L548.28,127.90 L549.78,128.45 L551.28,129.01 L552.77,129.56 L554.27,130.12 L555.76,130.69 L557.26,131.25 L558.75,131.82 L560.25,132.39 L561.75,132.96 L563.24,133.54 L564.74,134.12 L566.23,134.70 L567.73,135.28 L569.23,135.87 L570.72,136.46 L572.22,137.05 L573.71,137.65 L575.21,138.25 L576.70,138.85 L578.20,139.46" fill="none" stroke="#5D9EC7" stroke-width="1.30" stroke-dasharray="4.5 4.5" stroke-linejoin="round"/>
<path d="M365.80,38.73 L367.30,38.74 L368.79,38.76 L370.29,38.80 L371.78,38.85 L373.28,38.92 L374.77,39.01 L376.27,39.12 L377.77,39.24 L379.26,39.38 L380.76,39.53 L382.25,39.70 L383.75,39.88 L385.25,40.08 L386.74,40.29 L388.24,40.52 L389.73,40.77 L391.23,41.02 L392.72,41.30 L394.22,41.58 L395.72,41.88 L397.21,42.19 L398.71,42.52 L400.20,42.86 L401.70,43.21 L403.19,43.58 L404.69,43.96 L406.19,44.35 L407.68,44.75 L409.18,45.17 L410.67,45.60 L412.17,46.04 L413.66,46.49 L415.16,46.95 L416.66,47.42 L418.15,47.91 L419.65,48.40 L421.14,48.91 L422.64,49.42 L424.14,49.95 L425.63,50.49 L427.13,51.03 L428.62,51.59 L430.12,52.15 L431.61,52.73 L433.11,53.31 L434.61,53.90 L436.10,54.50 L437.60,55.10 L439.09,55.72 L440.59,56.34 L442.08,56.97 L443.58,57.60 L445.08,58.24 L446.57,58.89 L448.07,59.55 L449.56,60.20 L451.06,60.87 L452.55,61.54 L454.05,62.22 L455.55,62.90 L457.04,63.58 L458.54,64.27 L460.03,64.96 L461.53,65.66 L463.03,66.36 L464.52,67.06 L466.02,67.77 L467.51,68.48 L469.01,69.19 L470.50,69.90 L472.00,70.62 L473.50,71.33 L474.99,72.05 L476.49,72.77 L477.98,73.49 L479.48,74.21 L480.97,74.94 L482.47,75.66 L483.97,76.39 L485.46,77.12 L486.96,77.85 L488.45,78.59 L489.95,79.32 L491.45,80.06 L492.94,80.80 L494.44,81.55 L495.93,82.29 L497.43,83.04 L498.92,83.79 L500.42,84.55 L501.92,85.30 L503.41,86.06 L504.91,86.83 L506.40,87.59 L507.90,88.36 L509.39,89.13 L510.89,89.91 L512.39,90.69 L513.88,91.48 L515.38,92.26 L516.87,93.05 L518.37,93.85 L519.86,94.65 L521.36,95.45 L522.86,96.26 L524.35,97.07 L525.85,97.89 L527.34,98.71 L528.84,99.54 L530.34,100.37 L531.83,101.20 L533.33,102.04 L534.82,102.89 L536.32,103.74 L537.81,104.59 L539.31,105.46 L540.81,106.32 L542.30,107.19 L543.80,108.07 L545.29,108.95 L546.79,109.84 L548.28,110.74 L549.78,111.64 L551.28,112.54 L552.77,113.45 L554.27,114.37 L555.76,115.30 L557.26,116.23 L558.75,117.17 L560.25,118.11 L561.75,119.06 L563.24,120.02 L564.74,120.98 L566.23,121.95 L567.73,122.93 L569.23,123.92 L570.72,124.91 L572.22,125.91 L573.71,126.92 L575.21,127.93 L576.70,128.95 L578.20,129.98" fill="none" stroke="#8778B3" stroke-width="1.30" stroke-linejoin="round"/>
<text x="440.90" y="164.30" font-size="8.40" text-anchor="middle" fill="#111"><tspan font-style="italic">π</tspan></text>
<line x1="437.30" y1="166.40" x2="443.30" y2="166.40" stroke="#222" stroke-width="0.9"/>
<text x="440.60" y="176.00" font-size="8.70" text-anchor="middle" fill="#111"><tspan>6</tspan></text>
<text x="516.20" y="164.30" font-size="8.40" text-anchor="middle" fill="#111"><tspan font-style="italic">π</tspan></text>
<line x1="512.60" y1="166.40" x2="518.60" y2="166.40" stroke="#222" stroke-width="0.9"/>
<text x="515.90" y="176.00" font-size="8.70" text-anchor="middle" fill="#111"><tspan>3</tspan></text>
<text x="473.60" y="7.20" font-size="8.75" text-anchor="middle" fill="#111"><tspan font-style="italic">v</tspan><tspan>=3/4,&#160; </tspan><tspan font-style="italic">ξ</tspan><tspan>=1/2,&#160; </tspan><tspan font-style="italic">β</tspan><tspan>=1</tspan></text>
<g transform="translate(352.00,20.00)" fill="#1a1a1a">
<line x1="0.2" y1="0" x2="5.0" y2="0" stroke="#444" stroke-width="0.9"/>
<polyline points="8.3,-4.5 6.0,0 8.3,4.5" fill="none" stroke="#111" stroke-width="1.1"/>
<polyline points="19.3,-4.5 21.6,0 19.3,4.5" fill="none" stroke="#111" stroke-width="1.1"/>
<text fill="#111" x="9.4" y="2.1" font-size="7.8" font-style="italic">T</text>
<polyline points="10.6,-4.7 11.8,-6.5 13.0,-4.7" fill="none" stroke="#111" stroke-width="1.0"/>
<text x="16.4" y="-4.7" font-size="5.6" font-style="italic">τ</text>
<text x="15.2" y="4.8" font-size="5.6" font-style="italic">τ</text>
<text x="22.8" y="-2.9" font-size="6" font-style="italic">ζ</text>
<text x="22.5" y="4.3" font-size="6" font-style="italic">β</text>
</g>
<rect x="597.80" y="37.20" width="86.60" height="100.60" fill="none" stroke="#111" stroke-width="1.3"/>
<line x1="604.30" y1="49.20" x2="630.90" y2="49.20" stroke="#5D9EC7" stroke-width="1.3" stroke-dasharray="2.3 2.1"/>
<text x="635.80" y="52.20" font-size="8.40" text-anchor="start" fill="#111"><tspan font-style="italic">ζ</tspan><tspan>=</tspan><tspan>0</tspan></text>
<line x1="604.30" y1="64.50" x2="630.90" y2="64.50" stroke="#5E81B5" stroke-width="1.3"/>
<text x="635.80" y="67.50" font-size="8.40" text-anchor="start" fill="#111"><tspan font-style="italic">ζ</tspan><tspan>=</tspan><tspan>15</tspan><tspan font-style="italic">π</tspan><tspan dx="0.7">/100</tspan></text>
<line x1="604.30" y1="79.80" x2="630.90" y2="79.80" stroke="#8FB032" stroke-width="1.3"/>
<text x="635.80" y="82.80" font-size="8.40" text-anchor="start" fill="#111"><tspan font-style="italic">ζ</tspan><tspan>=</tspan><tspan>38</tspan><tspan font-style="italic">π</tspan><tspan dx="0.7">/100</tspan></text>
<line x1="604.30" y1="95.10" x2="630.90" y2="95.10" stroke="#EB6235" stroke-width="1.3"/>
<text x="635.80" y="98.10" font-size="8.40" text-anchor="start" fill="#111"><tspan font-style="italic">ζ</tspan><tspan>=</tspan><tspan>48</tspan><tspan font-style="italic">π</tspan><tspan dx="0.7">/100</tspan></text>
<line x1="604.30" y1="110.40" x2="630.90" y2="110.40" stroke="#5D9EC7" stroke-width="1.3" stroke-dasharray="4.5 4.5"/>
<text x="635.80" y="113.40" font-size="8.40" text-anchor="start" fill="#111"><tspan font-style="italic">ζ</tspan><tspan>=</tspan><tspan font-style="italic">π</tspan><tspan dx="0.7">/2</tspan></text>
<line x1="604.30" y1="125.70" x2="630.90" y2="125.70" stroke="#8778B3" stroke-width="1.3"/>
<text x="635.80" y="128.70" font-size="8.40" text-anchor="start" fill="#111"><tspan font-style="italic">ζ</tspan><tspan>=</tspan><tspan>51</tspan><tspan font-style="italic">π</tspan><tspan dx="0.7">/100</tspan></text>
<line x1="13.10" y1="235.10" x2="13.10" y2="368.60" stroke="#9a9a9a" stroke-width="2.00"/>
<line x1="13.10" y1="361.00" x2="230.00" y2="361.00" stroke="#777" stroke-width="1.30"/>
<line x1="14.10" y1="366.78" x2="15.50" y2="366.78" stroke="#222" stroke-width="0.95"/>
<line x1="14.10" y1="355.22" x2="15.50" y2="355.22" stroke="#222" stroke-width="0.95"/>
<line x1="14.10" y1="349.44" x2="15.50" y2="349.44" stroke="#222" stroke-width="0.95"/>
<line x1="14.10" y1="343.66" x2="15.50" y2="343.66" stroke="#222" stroke-width="0.95"/>
<line x1="14.10" y1="337.88" x2="15.50" y2="337.88" stroke="#222" stroke-width="0.95"/>
<line x1="14.10" y1="326.32" x2="15.50" y2="326.32" stroke="#222" stroke-width="0.95"/>
<line x1="14.10" y1="320.54" x2="15.50" y2="320.54" stroke="#222" stroke-width="0.95"/>
<line x1="14.10" y1="314.76" x2="15.50" y2="314.76" stroke="#222" stroke-width="0.95"/>
<line x1="14.10" y1="308.98" x2="15.50" y2="308.98" stroke="#222" stroke-width="0.95"/>
<line x1="14.10" y1="297.42" x2="15.50" y2="297.42" stroke="#222" stroke-width="0.95"/>
<line x1="14.10" y1="291.64" x2="15.50" y2="291.64" stroke="#222" stroke-width="0.95"/>
<line x1="14.10" y1="285.86" x2="15.50" y2="285.86" stroke="#222" stroke-width="0.95"/>
<line x1="14.10" y1="280.08" x2="15.50" y2="280.08" stroke="#222" stroke-width="0.95"/>
<line x1="14.10" y1="268.52" x2="15.50" y2="268.52" stroke="#222" stroke-width="0.95"/>
<line x1="14.10" y1="262.74" x2="15.50" y2="262.74" stroke="#222" stroke-width="0.95"/>
<line x1="14.10" y1="256.96" x2="15.50" y2="256.96" stroke="#222" stroke-width="0.95"/>
<line x1="14.10" y1="251.18" x2="15.50" y2="251.18" stroke="#222" stroke-width="0.95"/>
<line x1="14.10" y1="239.62" x2="15.50" y2="239.62" stroke="#222" stroke-width="0.95"/>
<line x1="14.10" y1="361.00" x2="16.60" y2="361.00" stroke="#222" stroke-width="0.95"/>
<text x="11.20" y="363.90" font-size="8.00" text-anchor="end" fill="#111"><tspan>0.0</tspan></text>
<line x1="14.10" y1="332.10" x2="16.60" y2="332.10" stroke="#222" stroke-width="0.95"/>
<text x="11.20" y="335.00" font-size="8.00" text-anchor="end" fill="#111"><tspan>0.1</tspan></text>
<line x1="14.10" y1="303.20" x2="16.60" y2="303.20" stroke="#222" stroke-width="0.95"/>
<text x="11.20" y="306.10" font-size="8.00" text-anchor="end" fill="#111"><tspan>0.2</tspan></text>
<line x1="14.10" y1="274.30" x2="16.60" y2="274.30" stroke="#222" stroke-width="0.95"/>
<text x="11.20" y="277.20" font-size="8.00" text-anchor="end" fill="#111"><tspan>0.3</tspan></text>
<line x1="14.10" y1="245.40" x2="16.60" y2="245.40" stroke="#222" stroke-width="0.95"/>
<text x="11.20" y="248.30" font-size="8.00" text-anchor="end" fill="#111"><tspan>0.4</tspan></text>
<line x1="88.30" y1="360.35" x2="88.30" y2="358.15" stroke="#333" stroke-width="0.9"/>
<line x1="163.30" y1="360.35" x2="163.30" y2="358.15" stroke="#333" stroke-width="0.9"/>
<text x="235.70" y="364.80" font-size="9.40" text-anchor="start" fill="#111"><tspan font-style="italic">ρ</tspan></text>
<path d="M13.20,251.68 L14.70,251.71 L16.19,251.77 L17.69,251.87 L19.18,252.01 L20.68,252.18 L22.17,252.38 L23.67,252.62 L25.17,252.89 L26.66,253.20 L28.16,253.53 L29.65,253.91 L31.15,254.31 L32.65,254.74 L34.14,255.21 L35.64,255.71 L37.13,256.24 L38.63,256.80 L40.12,257.39 L41.62,258.01 L43.12,258.67 L44.61,259.35 L46.11,260.06 L47.60,260.79 L49.10,261.56 L50.59,262.36 L52.09,263.18 L53.59,264.03 L55.08,264.90 L56.58,265.81 L58.07,266.74 L59.57,267.69 L61.06,268.67 L62.56,269.68 L64.06,270.71 L65.55,271.77 L67.05,272.85 L68.54,273.95 L70.04,275.08 L71.54,276.23 L73.03,277.40 L74.53,278.60 L76.02,279.82 L77.52,281.06 L79.01,282.32 L80.51,283.60 L82.01,284.90 L83.50,286.21 L85.00,287.54 L86.49,288.88 L87.99,290.23 L89.48,291.59 L90.98,292.97 L92.48,294.35 L93.97,295.73 L95.47,297.13 L96.96,298.52 L98.46,299.92 L99.95,301.32 L101.45,302.72 L102.95,304.11 L104.44,305.51 L105.94,306.90 L107.43,308.28 L108.93,309.66 L110.43,311.03 L111.92,312.38 L113.42,313.73 L114.91,315.07 L116.41,316.39 L117.90,317.69 L119.40,318.98 L120.90,320.25 L122.39,321.51 L123.89,322.75 L125.38,323.97 L126.88,325.17 L128.37,326.36 L129.87,327.53 L131.37,328.69 L132.86,329.82 L134.36,330.94 L135.85,332.04 L137.35,333.13 L138.85,334.19 L140.34,335.24 L141.84,336.27 L143.33,337.28 L144.83,338.27 L146.32,339.24 L147.82,340.20 L149.32,341.13 L150.81,342.05 L152.31,342.95 L153.80,343.82 L155.30,344.68 L156.79,345.52 L158.29,346.34 L159.79,347.14 L161.28,347.91 L162.78,348.67 L164.27,349.41 L165.77,350.13 L167.26,350.82 L168.76,351.50 L170.26,352.16 L171.75,352.79 L173.25,353.40 L174.74,353.99 L176.24,354.57 L177.74,355.11 L179.23,355.64 L180.73,356.15 L182.22,356.63 L183.72,357.09 L185.21,357.53 L186.71,357.95 L188.21,358.34 L189.70,358.71 L191.20,359.06 L192.69,359.38 L194.19,359.69 L195.68,359.97 L197.18,360.22 L198.68,360.45 L200.17,360.66 L201.67,360.85 L203.16,361.01 L204.66,361.15 L206.15,361.26 L207.65,361.35 L209.15,361.41 L210.64,361.45 L212.14,361.47 L213.63,361.46 L215.13,361.42 L216.63,361.36 L218.12,361.28 L219.62,361.17 L221.11,361.03 L222.61,360.87 L224.10,360.68 L225.60,360.47" fill="none" stroke="#5D9EC7" stroke-width="1.30" stroke-dasharray="2.3 2.1" stroke-linejoin="round"/>
<path d="M13.20,249.94 L14.70,249.97 L16.19,250.03 L17.69,250.13 L19.18,250.27 L20.68,250.45 L22.17,250.66 L23.67,250.90 L25.17,251.18 L26.66,251.50 L28.16,251.85 L29.65,252.23 L31.15,252.65 L32.65,253.10 L34.14,253.58 L35.64,254.09 L37.13,254.64 L38.63,255.22 L40.12,255.83 L41.62,256.47 L43.12,257.13 L44.61,257.83 L46.11,258.56 L47.60,259.32 L49.10,260.11 L50.59,260.92 L52.09,261.77 L53.59,262.64 L55.08,263.53 L56.58,264.46 L58.07,265.41 L59.57,266.39 L61.06,267.39 L62.56,268.42 L64.06,269.47 L65.55,270.55 L67.05,271.65 L68.54,272.77 L70.04,273.92 L71.54,275.09 L73.03,276.29 L74.53,277.50 L76.02,278.74 L77.52,280.00 L79.01,281.28 L80.51,282.57 L82.01,283.89 L83.50,285.22 L85.00,286.56 L86.49,287.92 L87.99,289.29 L89.48,290.66 L90.98,292.05 L92.48,293.45 L93.97,294.85 L95.47,296.25 L96.96,297.66 L98.46,299.07 L99.95,300.49 L101.45,301.90 L102.95,303.31 L104.44,304.71 L105.94,306.11 L107.43,307.51 L108.93,308.90 L110.43,310.28 L111.92,311.65 L113.42,313.00 L114.91,314.35 L116.41,315.68 L117.90,316.99 L119.40,318.29 L120.90,319.58 L122.39,320.84 L123.89,322.09 L125.38,323.32 L126.88,324.54 L128.37,325.74 L129.87,326.92 L131.37,328.08 L132.86,329.23 L134.36,330.36 L135.85,331.47 L137.35,332.56 L138.85,333.63 L140.34,334.69 L141.84,335.73 L143.33,336.75 L144.83,337.75 L146.32,338.73 L147.82,339.69 L149.32,340.64 L150.81,341.56 L152.31,342.47 L153.80,343.36 L155.30,344.22 L156.79,345.07 L158.29,345.90 L159.79,346.70 L161.28,347.49 L162.78,348.26 L164.27,349.00 L165.77,349.73 L167.26,350.44 L168.76,351.12 L170.26,351.78 L171.75,352.43 L173.25,353.05 L174.74,353.65 L176.24,354.23 L177.74,354.78 L179.23,355.32 L180.73,355.83 L182.22,356.32 L183.72,356.79 L185.21,357.24 L186.71,357.67 L188.21,358.07 L189.70,358.45 L191.20,358.81 L192.69,359.14 L194.19,359.45 L195.68,359.74 L197.18,360.00 L198.68,360.24 L200.17,360.46 L201.67,360.66 L203.16,360.83 L204.66,360.97 L206.15,361.09 L207.65,361.19 L209.15,361.27 L210.64,361.31 L212.14,361.34 L213.63,361.34 L215.13,361.31 L216.63,361.26 L218.12,361.19 L219.62,361.08 L221.11,360.96 L222.61,360.81 L224.10,360.63 L225.60,360.42" fill="none" stroke="#5E81B5" stroke-width="1.30" stroke-linejoin="round"/>
<path d="M13.20,248.21 L14.70,248.23 L16.19,248.30 L17.69,248.41 L19.18,248.55 L20.68,248.73 L22.17,248.95 L23.67,249.20 L25.17,249.49 L26.66,249.81 L28.16,250.17 L29.65,250.56 L31.15,250.99 L32.65,251.46 L34.14,251.95 L35.64,252.48 L37.13,253.04 L38.63,253.63 L40.12,254.26 L41.62,254.91 L43.12,255.60 L44.61,256.32 L46.11,257.07 L47.60,257.84 L49.10,258.65 L50.59,259.48 L52.09,260.35 L53.59,261.24 L55.08,262.15 L56.58,263.10 L58.07,264.07 L59.57,265.07 L61.06,266.09 L62.56,267.14 L64.06,268.21 L65.55,269.31 L67.05,270.43 L68.54,271.58 L70.04,272.75 L71.54,273.94 L73.03,275.15 L74.53,276.39 L76.02,277.65 L77.52,278.92 L79.01,280.22 L80.51,281.54 L82.01,282.87 L83.50,284.21 L85.00,285.57 L86.49,286.95 L87.99,288.33 L89.48,289.73 L90.98,291.13 L92.48,292.54 L93.97,293.96 L95.47,295.38 L96.96,296.80 L98.46,298.23 L99.95,299.65 L101.45,301.08 L102.95,302.50 L104.44,303.92 L105.94,305.34 L107.43,306.74 L108.93,308.15 L110.43,309.54 L111.92,310.92 L113.42,312.29 L114.91,313.65 L116.41,314.99 L117.90,316.31 L119.40,317.62 L120.90,318.92 L122.39,320.19 L123.89,321.45 L125.38,322.70 L126.88,323.92 L128.37,325.13 L129.87,326.32 L131.37,327.49 L132.86,328.65 L134.36,329.79 L135.85,330.91 L137.35,332.01 L138.85,333.09 L140.34,334.16 L141.84,335.20 L143.33,336.23 L144.83,337.24 L146.32,338.23 L147.82,339.20 L149.32,340.15 L150.81,341.09 L152.31,342.00 L153.80,342.89 L155.30,343.77 L156.79,344.62 L158.29,345.46 L159.79,346.27 L161.28,347.07 L162.78,347.84 L164.27,348.60 L165.77,349.33 L167.26,350.04 L168.76,350.73 L170.26,351.41 L171.75,352.06 L173.25,352.68 L174.74,353.29 L176.24,353.88 L177.74,354.44 L179.23,354.99 L180.73,355.51 L182.22,356.01 L183.72,356.49 L185.21,356.94 L186.71,357.37 L188.21,357.79 L189.70,358.17 L191.20,358.54 L192.69,358.88 L194.19,359.20 L195.68,359.50 L197.18,359.77 L198.68,360.02 L200.17,360.25 L201.67,360.45 L203.16,360.63 L204.66,360.79 L206.15,360.92 L207.65,361.03 L209.15,361.11 L210.64,361.17 L212.14,361.20 L213.63,361.21 L215.13,361.20 L216.63,361.16 L218.12,361.10 L219.62,361.01 L221.11,360.89 L222.61,360.75 L224.10,360.59 L225.60,360.40" fill="none" stroke="#8FB032" stroke-width="1.30" stroke-linejoin="round"/>
<path d="M13.20,247.02 L14.70,247.05 L16.19,247.12 L17.69,247.23 L19.18,247.37 L20.68,247.55 L22.17,247.77 L23.67,248.03 L25.17,248.33 L26.66,248.66 L28.16,249.02 L29.65,249.42 L31.15,249.86 L32.65,250.33 L34.14,250.83 L35.64,251.37 L37.13,251.94 L38.63,252.54 L40.12,253.18 L41.62,253.85 L43.12,254.54 L44.61,255.27 L46.11,256.03 L47.60,256.82 L49.10,257.64 L50.59,258.49 L52.09,259.36 L53.59,260.27 L55.08,261.20 L56.58,262.16 L58.07,263.14 L59.57,264.15 L61.06,265.19 L62.56,266.25 L64.06,267.34 L65.55,268.45 L67.05,269.59 L68.54,270.75 L70.04,271.93 L71.54,273.13 L73.03,274.36 L74.53,275.61 L76.02,276.88 L77.52,278.17 L79.01,279.48 L80.51,280.81 L82.01,282.16 L83.50,283.52 L85.00,284.89 L86.49,286.27 L87.99,287.67 L89.48,289.08 L90.98,290.49 L92.48,291.92 L93.97,293.34 L95.47,294.78 L96.96,296.21 L98.46,297.65 L99.95,299.08 L101.45,300.52 L102.95,301.95 L104.44,303.38 L105.94,304.81 L107.43,306.23 L108.93,307.64 L110.43,309.04 L111.92,310.43 L113.42,311.81 L114.91,313.17 L116.41,314.52 L117.90,315.86 L119.40,317.18 L120.90,318.48 L122.39,319.76 L123.89,321.03 L125.38,322.28 L126.88,323.51 L128.37,324.72 L129.87,325.92 L131.37,327.10 L132.86,328.26 L134.36,329.41 L135.85,330.53 L137.35,331.64 L138.85,332.73 L140.34,333.80 L141.84,334.85 L143.33,335.88 L144.83,336.90 L146.32,337.89 L147.82,338.87 L149.32,339.82 L150.81,340.76 L152.31,341.68 L153.80,342.58 L155.30,343.46 L156.79,344.32 L158.29,345.16 L159.79,345.98 L161.28,346.78 L162.78,347.55 L164.27,348.31 L165.77,349.05 L167.26,349.77 L168.76,350.46 L170.26,351.14 L171.75,351.80 L173.25,352.43 L174.74,353.04 L176.24,353.63 L177.74,354.20 L179.23,354.75 L180.73,355.28 L182.22,355.78 L183.72,356.26 L185.21,356.72 L186.71,357.16 L188.21,357.58 L189.70,357.97 L191.20,358.34 L192.69,358.69 L194.19,359.02 L195.68,359.32 L197.18,359.60 L198.68,359.86 L200.17,360.09 L201.67,360.30 L203.16,360.49 L204.66,360.65 L206.15,360.79 L207.65,360.91 L209.15,361.00 L210.64,361.06 L212.14,361.11 L213.63,361.13 L215.13,361.12 L216.63,361.09 L218.12,361.04 L219.62,360.96 L221.11,360.85 L222.61,360.72 L224.10,360.57 L225.60,360.39" fill="none" stroke="#EB6235" stroke-width="1.30" stroke-linejoin="round"/>
<path d="M13.20,245.02 L14.70,245.05 L16.19,245.12 L17.69,245.23 L19.18,245.39 L20.68,245.58 L22.17,245.81 L23.67,246.08 L25.17,246.39 L26.66,246.74 L28.16,247.12 L29.65,247.54 L31.15,248.00 L32.65,248.49 L34.14,249.02 L35.64,249.58 L37.13,250.17 L38.63,250.80 L40.12,251.46 L41.62,252.15 L43.12,252.88 L44.61,253.63 L46.11,254.42 L47.60,255.24 L49.10,256.08 L50.59,256.96 L52.09,257.86 L53.59,258.79 L55.08,259.75 L56.58,260.73 L58.07,261.75 L59.57,262.78 L61.06,263.85 L62.56,264.93 L64.06,266.04 L65.55,267.18 L67.05,268.33 L68.54,269.51 L70.04,270.72 L71.54,271.94 L73.03,273.18 L74.53,274.45 L76.02,275.73 L77.52,277.03 L79.01,278.35 L80.51,279.69 L82.01,281.04 L83.50,282.41 L85.00,283.79 L86.49,285.18 L87.99,286.58 L89.48,287.99 L90.98,289.41 L92.48,290.83 L93.97,292.27 L95.47,293.70 L96.96,295.14 L98.46,296.58 L99.95,298.02 L101.45,299.46 L102.95,300.90 L104.44,302.33 L105.94,303.76 L107.43,305.19 L108.93,306.60 L110.43,308.02 L111.92,309.42 L113.42,310.81 L114.91,312.19 L116.41,313.55 L117.90,314.91 L119.40,316.24 L120.90,317.57 L122.39,318.87 L123.89,320.16 L125.38,321.44 L126.88,322.70 L128.37,323.94 L129.87,325.17 L131.37,326.38 L132.86,327.57 L134.36,328.74 L135.85,329.90 L137.35,331.04 L138.85,332.16 L140.34,333.26 L141.84,334.35 L143.33,335.41 L144.83,336.45 L146.32,337.48 L147.82,338.48 L149.32,339.47 L150.81,340.43 L152.31,341.37 L153.80,342.30 L155.30,343.20 L156.79,344.08 L158.29,344.94 L159.79,345.77 L161.28,346.59 L162.78,347.38 L164.27,348.14 L165.77,348.89 L167.26,349.61 L168.76,350.31 L170.26,350.98 L171.75,351.63 L173.25,352.26 L174.74,352.86 L176.24,353.43 L177.74,353.99 L179.23,354.51 L180.73,355.02 L182.22,355.50 L183.72,355.96 L185.21,356.39 L186.71,356.80 L188.21,357.19 L189.70,357.56 L191.20,357.91 L192.69,358.23 L194.19,358.54 L195.68,358.82 L197.18,359.08 L198.68,359.33 L200.17,359.55 L201.67,359.75 L203.16,359.94 L204.66,360.10 L206.15,360.25 L207.65,360.38 L209.15,360.49 L210.64,360.58 L212.14,360.66 L213.63,360.72 L215.13,360.76 L216.63,360.79 L218.12,360.80 L219.62,360.79 L221.11,360.77 L222.61,360.73 L224.10,360.68 L225.60,360.61" fill="none" stroke="#5D9EC7" stroke-width="1.30" stroke-dasharray="4.5 4.5" stroke-linejoin="round"/>
<path d="M13.20,244.17 L14.70,244.20 L16.19,244.27 L17.69,244.39 L19.18,244.54 L20.68,244.74 L22.17,244.97 L23.67,245.24 L25.17,245.56 L26.66,245.91 L28.16,246.29 L29.65,246.72 L31.15,247.18 L32.65,247.67 L34.14,248.20 L35.64,248.77 L37.13,249.37 L38.63,250.00 L40.12,250.67 L41.62,251.37 L43.12,252.10 L44.61,252.87 L46.11,253.66 L47.60,254.48 L49.10,255.34 L50.59,256.22 L52.09,257.13 L53.59,258.07 L55.08,259.04 L56.58,260.03 L58.07,261.05 L59.57,262.10 L61.06,263.17 L62.56,264.27 L64.06,265.39 L65.55,266.53 L67.05,267.70 L68.54,268.89 L70.04,270.10 L71.54,271.33 L73.03,272.59 L74.53,273.86 L76.02,275.16 L77.52,276.47 L79.01,277.80 L80.51,279.15 L82.01,280.51 L83.50,281.89 L85.00,283.28 L86.49,284.68 L87.99,286.09 L89.48,287.51 L90.98,288.94 L92.48,290.38 L93.97,291.82 L95.47,293.26 L96.96,294.71 L98.46,296.16 L99.95,297.61 L101.45,299.06 L102.95,300.51 L104.44,301.95 L105.94,303.39 L107.43,304.82 L108.93,306.25 L110.43,307.67 L111.92,309.08 L113.42,310.48 L114.91,311.87 L116.41,313.24 L117.90,314.60 L119.40,315.94 L120.90,317.27 L122.39,318.58 L123.89,319.88 L125.38,321.16 L126.88,322.43 L128.37,323.67 L129.87,324.90 L131.37,326.12 L132.86,327.31 L134.36,328.49 L135.85,329.65 L137.35,330.79 L138.85,331.92 L140.34,333.02 L141.84,334.11 L143.33,335.17 L144.83,336.22 L146.32,337.25 L147.82,338.25 L149.32,339.24 L150.81,340.21 L152.31,341.15 L153.80,342.08 L155.30,342.98 L156.79,343.86 L158.29,344.72 L159.79,345.56 L161.28,346.37 L162.78,347.16 L164.27,347.93 L165.77,348.68 L167.26,349.40 L168.76,350.10 L170.26,350.78 L171.75,351.43 L173.25,352.06 L174.74,352.66 L176.24,353.24 L177.74,353.79 L179.23,354.32 L180.73,354.83 L182.22,355.31 L183.72,355.77 L185.21,356.21 L186.71,356.63 L188.21,357.02 L189.70,357.39 L191.20,357.74 L192.69,358.07 L194.19,358.38 L195.68,358.67 L197.18,358.94 L198.68,359.18 L200.17,359.41 L201.67,359.62 L203.16,359.81 L204.66,359.98 L206.15,360.14 L207.65,360.27 L209.15,360.39 L210.64,360.49 L212.14,360.58 L213.63,360.65 L215.13,360.70 L216.63,360.73 L218.12,360.75 L219.62,360.76 L221.11,360.75 L222.61,360.72 L224.10,360.68 L225.60,360.63" fill="none" stroke="#8778B3" stroke-width="1.30" stroke-linejoin="round"/>
<path d="M13.20,241.22 L14.70,241.25 L16.19,241.32 L17.69,241.42 L19.18,241.56 L20.68,241.73 L22.17,241.94 L23.67,242.19 L25.17,242.47 L26.66,242.79 L28.16,243.14 L29.65,243.53 L31.15,243.96 L32.65,244.43 L34.14,244.93 L35.64,245.46 L37.13,246.04 L38.63,246.65 L40.12,247.29 L41.62,247.98 L43.12,248.70 L44.61,249.45 L46.11,250.25 L47.60,251.08 L49.10,251.95 L50.59,252.85 L52.09,253.79 L53.59,254.77 L55.08,255.79 L56.58,256.84 L58.07,257.92 L59.57,259.04 L61.06,260.18 L62.56,261.35 L64.06,262.56 L65.55,263.78 L67.05,265.04 L68.54,266.31 L70.04,267.61 L71.54,268.93 L73.03,270.27 L74.53,271.63 L76.02,273.01 L77.52,274.40 L79.01,275.80 L80.51,277.22 L82.01,278.65 L83.50,280.10 L85.00,281.55 L86.49,283.01 L87.99,284.48 L89.48,285.95 L90.98,287.43 L92.48,288.91 L93.97,290.40 L95.47,291.88 L96.96,293.37 L98.46,294.86 L99.95,296.34 L101.45,297.82 L102.95,299.30 L104.44,300.77 L105.94,302.23 L107.43,303.68 L108.93,305.13 L110.43,306.56 L111.92,307.99 L113.42,309.40 L114.91,310.79 L116.41,312.17 L117.90,313.54 L119.40,314.89 L120.90,316.22 L122.39,317.53 L123.89,318.82 L125.38,320.10 L126.88,321.36 L128.37,322.60 L129.87,323.82 L131.37,325.03 L132.86,326.21 L134.36,327.38 L135.85,328.53 L137.35,329.67 L138.85,330.78 L140.34,331.87 L141.84,332.95 L143.33,334.01 L144.83,335.05 L146.32,336.07 L147.82,337.07 L149.32,338.05 L150.81,339.01 L152.31,339.95 L153.80,340.87 L155.30,341.78 L156.79,342.66 L158.29,343.53 L159.79,344.37 L161.28,345.19 L162.78,346.00 L164.27,346.78 L165.77,347.54 L167.26,348.29 L168.76,349.01 L170.26,349.71 L171.75,350.39 L173.25,351.05 L174.74,351.69 L176.24,352.31 L177.74,352.91 L179.23,353.49 L180.73,354.04 L182.22,354.58 L183.72,355.09 L185.21,355.58 L186.71,356.05 L188.21,356.50 L189.70,356.92 L191.20,357.33 L192.69,357.71 L194.19,358.07 L195.68,358.41 L197.18,358.72 L198.68,359.01 L200.17,359.29 L201.67,359.53 L203.16,359.76 L204.66,359.96 L206.15,360.14 L207.65,360.30 L209.15,360.43 L210.64,360.54 L212.14,360.63 L213.63,360.69 L215.13,360.73 L216.63,360.75 L218.12,360.74 L219.62,360.71 L221.11,360.66 L222.61,360.58 L224.10,360.48 L225.60,360.35" fill="none" stroke="#5D9EC7" stroke-width="1.30" stroke-linejoin="round"/>
<text x="88.60" y="368.50" font-size="8.40" text-anchor="middle" fill="#111"><tspan font-style="italic">π</tspan></text>
<line x1="85.00" y1="370.60" x2="91.00" y2="370.60" stroke="#222" stroke-width="0.9"/>
<text x="88.30" y="380.20" font-size="8.70" text-anchor="middle" fill="#111"><tspan>6</tspan></text>
<text x="163.60" y="368.50" font-size="8.40" text-anchor="middle" fill="#111"><tspan font-style="italic">π</tspan></text>
<line x1="160.00" y1="370.60" x2="166.00" y2="370.60" stroke="#222" stroke-width="0.9"/>
<text x="163.30" y="380.20" font-size="8.70" text-anchor="middle" fill="#111"><tspan>3</tspan></text>
<text x="121.40" y="211.20" font-size="8.75" text-anchor="middle" fill="#111"><tspan font-style="italic">v</tspan><tspan>=1/4, </tspan><tspan font-style="italic">ξ</tspan><tspan>=1/8, </tspan><tspan font-style="italic">β</tspan><tspan>=1</tspan></text>
<g transform="translate(-0.70,222.80)" fill="#1a1a1a">
<line x1="0.2" y1="0" x2="5.0" y2="0" stroke="#444" stroke-width="0.9"/>
<polyline points="8.3,-4.5 6.0,0 8.3,4.5" fill="none" stroke="#111" stroke-width="1.1"/>
<polyline points="19.3,-4.5 21.6,0 19.3,4.5" fill="none" stroke="#111" stroke-width="1.1"/>
<text fill="#111" x="9.4" y="2.1" font-size="7.8" font-style="italic">T</text>
<polyline points="10.6,-4.7 11.8,-6.5 13.0,-4.7" fill="none" stroke="#111" stroke-width="1.0"/>
<text x="16.4" y="-4.7" font-size="5.6" font-style="italic">τ</text>
<text x="15.2" y="4.8" font-size="5.6" font-style="italic">τ</text>
<text x="22.8" y="-2.9" font-size="6" font-style="italic">ζ</text>
<text x="22.5" y="4.3" font-size="6" font-style="italic">β</text>
</g>
<rect x="245.40" y="233.30" width="86.40" height="116.00" fill="none" stroke="#111" stroke-width="1.3"/>
<line x1="252.00" y1="245.20" x2="278.50" y2="245.20" stroke="#5D9EC7" stroke-width="1.3" stroke-dasharray="2.3 2.1"/>
<text x="283.50" y="248.20" font-size="8.40" text-anchor="start" fill="#111"><tspan font-style="italic">ζ</tspan><tspan>=</tspan><tspan>0</tspan></text>
<line x1="252.00" y1="260.55" x2="278.50" y2="260.55" stroke="#5E81B5" stroke-width="1.3"/>
<text x="283.50" y="263.55" font-size="8.40" text-anchor="start" fill="#111"><tspan font-style="italic">ζ</tspan><tspan>=</tspan><tspan font-style="italic">π</tspan><tspan dx="0.7">/10</tspan></text>
<line x1="252.00" y1="275.90" x2="278.50" y2="275.90" stroke="#8FB032" stroke-width="1.3"/>
<text x="283.50" y="278.90" font-size="8.40" text-anchor="start" fill="#111"><tspan font-style="italic">ζ</tspan><tspan>=</tspan><tspan>3</tspan><tspan font-style="italic">π</tspan><tspan dx="0.7">/10</tspan></text>
<line x1="252.00" y1="291.25" x2="278.50" y2="291.25" stroke="#EB6235" stroke-width="1.3"/>
<text x="283.50" y="294.25" font-size="8.40" text-anchor="start" fill="#111"><tspan font-style="italic">ζ</tspan><tspan>=</tspan><tspan>4</tspan><tspan font-style="italic">π</tspan><tspan dx="0.7">/10</tspan></text>
<line x1="252.00" y1="306.60" x2="278.50" y2="306.60" stroke="#5D9EC7" stroke-width="1.3" stroke-dasharray="4.5 4.5"/>
<text x="283.50" y="309.60" font-size="8.40" text-anchor="start" fill="#111"><tspan font-style="italic">ζ</tspan><tspan>=</tspan><tspan font-style="italic">π</tspan><tspan dx="0.7">/2</tspan></text>
<line x1="252.00" y1="321.95" x2="278.50" y2="321.95" stroke="#8778B3" stroke-width="1.3"/>
<text x="283.50" y="324.95" font-size="8.40" text-anchor="start" fill="#111"><tspan font-style="italic">ζ</tspan><tspan>=</tspan><tspan>54</tspan><tspan font-style="italic">π</tspan><tspan dx="0.7">/100</tspan></text>
<line x1="252.00" y1="337.30" x2="278.50" y2="337.30" stroke="#5D9EC7" stroke-width="1.3"/>
<text x="283.50" y="340.30" font-size="8.40" text-anchor="start" fill="#111"><tspan font-style="italic">ζ</tspan><tspan>=</tspan><tspan>3</tspan><tspan font-style="italic">π</tspan><tspan dx="0.7">/5</tspan></text>
<line x1="365.60" y1="236.50" x2="365.60" y2="368.60" stroke="#1a1a1a" stroke-width="1.00"/>
<line x1="365.60" y1="361.30" x2="581.80" y2="361.30" stroke="#555" stroke-width="1.30"/>
<line x1="366.10" y1="368.83" x2="367.50" y2="368.83" stroke="#222" stroke-width="0.95"/>
<line x1="366.10" y1="365.07" x2="367.50" y2="365.07" stroke="#222" stroke-width="0.95"/>
<line x1="366.10" y1="357.53" x2="367.50" y2="357.53" stroke="#222" stroke-width="0.95"/>
<line x1="366.10" y1="353.77" x2="367.50" y2="353.77" stroke="#222" stroke-width="0.95"/>
<line x1="366.10" y1="350.00" x2="367.50" y2="350.00" stroke="#222" stroke-width="0.95"/>
<line x1="366.10" y1="346.24" x2="367.50" y2="346.24" stroke="#222" stroke-width="0.95"/>
<line x1="366.10" y1="338.70" x2="367.50" y2="338.70" stroke="#222" stroke-width="0.95"/>
<line x1="366.10" y1="334.94" x2="367.50" y2="334.94" stroke="#222" stroke-width="0.95"/>
<line x1="366.10" y1="331.17" x2="367.50" y2="331.17" stroke="#222" stroke-width="0.95"/>
<line x1="366.10" y1="327.41" x2="367.50" y2="327.41" stroke="#222" stroke-width="0.95"/>
<line x1="366.10" y1="319.87" x2="367.50" y2="319.87" stroke="#222" stroke-width="0.95"/>
<line x1="366.10" y1="316.11" x2="367.50" y2="316.11" stroke="#222" stroke-width="0.95"/>
<line x1="366.10" y1="312.34" x2="367.50" y2="312.34" stroke="#222" stroke-width="0.95"/>
<line x1="366.10" y1="308.58" x2="367.50" y2="308.58" stroke="#222" stroke-width="0.95"/>
<line x1="366.10" y1="301.04" x2="367.50" y2="301.04" stroke="#222" stroke-width="0.95"/>
<line x1="366.10" y1="297.28" x2="367.50" y2="297.28" stroke="#222" stroke-width="0.95"/>
<line x1="366.10" y1="293.51" x2="367.50" y2="293.51" stroke="#222" stroke-width="0.95"/>
<line x1="366.10" y1="289.75" x2="367.50" y2="289.75" stroke="#222" stroke-width="0.95"/>
<line x1="366.10" y1="282.21" x2="367.50" y2="282.21" stroke="#222" stroke-width="0.95"/>
<line x1="366.10" y1="278.45" x2="367.50" y2="278.45" stroke="#222" stroke-width="0.95"/>
<line x1="366.10" y1="274.68" x2="367.50" y2="274.68" stroke="#222" stroke-width="0.95"/>
<line x1="366.10" y1="270.92" x2="367.50" y2="270.92" stroke="#222" stroke-width="0.95"/>
<line x1="366.10" y1="263.38" x2="367.50" y2="263.38" stroke="#222" stroke-width="0.95"/>
<line x1="366.10" y1="259.62" x2="367.50" y2="259.62" stroke="#222" stroke-width="0.95"/>
<line x1="366.10" y1="255.85" x2="367.50" y2="255.85" stroke="#222" stroke-width="0.95"/>
<line x1="366.10" y1="252.09" x2="367.50" y2="252.09" stroke="#222" stroke-width="0.95"/>
<line x1="366.10" y1="244.55" x2="367.50" y2="244.55" stroke="#222" stroke-width="0.95"/>
<line x1="366.10" y1="240.79" x2="367.50" y2="240.79" stroke="#222" stroke-width="0.95"/>
<line x1="366.10" y1="361.30" x2="368.60" y2="361.30" stroke="#222" stroke-width="0.95"/>
<text x="363.20" y="364.20" font-size="8.00" text-anchor="end" fill="#111"><tspan>0.0</tspan></text>
<line x1="366.10" y1="342.47" x2="368.60" y2="342.47" stroke="#222" stroke-width="0.95"/>
<text x="363.20" y="345.37" font-size="8.00" text-anchor="end" fill="#111"><tspan>0.1</tspan></text>
<line x1="366.10" y1="323.64" x2="368.60" y2="323.64" stroke="#222" stroke-width="0.95"/>
<text x="363.20" y="326.54" font-size="8.00" text-anchor="end" fill="#111"><tspan>0.2</tspan></text>
<line x1="366.10" y1="304.81" x2="368.60" y2="304.81" stroke="#222" stroke-width="0.95"/>
<text x="363.20" y="307.71" font-size="8.00" text-anchor="end" fill="#111"><tspan>0.3</tspan></text>
<line x1="366.10" y1="285.98" x2="368.60" y2="285.98" stroke="#222" stroke-width="0.95"/>
<text x="363.20" y="288.88" font-size="8.00" text-anchor="end" fill="#111"><tspan>0.4</tspan></text>
<line x1="366.10" y1="267.15" x2="368.60" y2="267.15" stroke="#222" stroke-width="0.95"/>
<text x="363.20" y="270.05" font-size="8.00" text-anchor="end" fill="#111"><tspan>0.5</tspan></text>
<line x1="366.10" y1="248.32" x2="368.60" y2="248.32" stroke="#222" stroke-width="0.95"/>
<text x="363.20" y="251.22" font-size="8.00" text-anchor="end" fill="#111"><tspan>0.6</tspan></text>
<line x1="440.50" y1="360.65" x2="440.50" y2="358.45" stroke="#333" stroke-width="0.9"/>
<line x1="516.40" y1="360.65" x2="516.40" y2="358.45" stroke="#333" stroke-width="0.9"/>
<text x="587.50" y="365.10" font-size="9.40" text-anchor="start" fill="#111"><tspan font-style="italic">ρ</tspan></text>
<path d="M365.80,298.94 L367.30,298.95 L368.79,298.98 L370.29,299.03 L371.78,299.11 L373.28,299.21 L374.77,299.32 L376.27,299.47 L377.76,299.63 L379.26,299.81 L380.75,300.01 L382.25,300.24 L383.74,300.48 L385.24,300.75 L386.73,301.03 L388.23,301.33 L389.72,301.65 L391.22,301.99 L392.71,302.34 L394.21,302.71 L395.70,303.10 L397.20,303.51 L398.69,303.93 L400.19,304.37 L401.68,304.83 L403.18,305.29 L404.67,305.78 L406.17,306.28 L407.66,306.79 L409.16,307.31 L410.65,307.85 L412.15,308.41 L413.64,308.97 L415.14,309.55 L416.63,310.14 L418.13,310.74 L419.62,311.35 L421.12,311.98 L422.61,312.61 L424.11,313.25 L425.60,313.91 L427.10,314.57 L428.59,315.24 L430.09,315.92 L431.58,316.61 L433.08,317.31 L434.57,318.01 L436.07,318.73 L437.56,319.44 L439.06,320.17 L440.55,320.90 L442.05,321.64 L443.54,322.38 L445.04,323.13 L446.53,323.88 L448.03,324.64 L449.52,325.40 L451.02,326.17 L452.51,326.94 L454.01,327.71 L455.50,328.48 L457.00,329.26 L458.49,330.04 L459.99,330.82 L461.48,331.60 L462.98,332.38 L464.47,333.16 L465.97,333.94 L467.46,334.72 L468.96,335.51 L470.45,336.29 L471.95,337.06 L473.45,337.84 L474.94,338.61 L476.44,339.38 L477.93,340.14 L479.43,340.90 L480.92,341.65 L482.42,342.39 L483.91,343.13 L485.41,343.86 L486.90,344.58 L488.40,345.29 L489.89,346.00 L491.39,346.69 L492.88,347.37 L494.38,348.04 L495.87,348.69 L497.37,349.34 L498.86,349.97 L500.36,350.58 L501.85,351.18 L503.35,351.77 L504.84,352.34 L506.34,352.89 L507.83,353.42 L509.33,353.94 L510.82,354.44 L512.32,354.91 L513.81,355.37 L515.31,355.81 L516.80,356.22 L518.30,356.62 L519.79,356.99 L521.29,357.34 L522.78,357.68 L524.28,357.99 L525.77,358.29 L527.27,358.57 L528.76,358.84 L530.26,359.08 L531.75,359.31 L533.25,359.53 L534.74,359.73 L536.24,359.92 L537.73,360.09 L539.23,360.25 L540.72,360.40 L542.22,360.54 L543.71,360.67 L545.21,360.78 L546.70,360.89 L548.20,360.99 L549.69,361.08 L551.19,361.16 L552.68,361.23 L554.18,361.30 L555.67,361.36 L557.17,361.42 L558.66,361.47 L560.16,361.51 L561.65,361.56 L563.15,361.60 L564.64,361.63 L566.14,361.67 L567.63,361.70 L569.13,361.74 L570.62,361.77 L572.12,361.80 L573.61,361.84 L575.11,361.87 L576.60,361.91 L578.10,361.95" fill="none" stroke="#5D9EC7" stroke-width="1.30" stroke-dasharray="2.3 2.1" stroke-linejoin="round"/>
<path d="M365.80,295.49 L367.30,295.51 L368.79,295.54 L370.29,295.61 L371.78,295.69 L373.28,295.80 L374.77,295.94 L376.27,296.10 L377.76,296.28 L379.26,296.49 L380.75,296.71 L382.25,296.96 L383.74,297.23 L385.24,297.52 L386.73,297.83 L388.23,298.16 L389.72,298.51 L391.22,298.88 L392.71,299.27 L394.21,299.68 L395.70,300.10 L397.20,300.54 L398.69,301.00 L400.19,301.48 L401.68,301.97 L403.18,302.47 L404.67,302.99 L406.17,303.53 L407.66,304.08 L409.16,304.65 L410.65,305.22 L412.15,305.81 L413.64,306.42 L415.14,307.03 L416.63,307.66 L418.13,308.30 L419.62,308.94 L421.12,309.60 L422.61,310.27 L424.11,310.95 L425.60,311.64 L427.10,312.33 L428.59,313.04 L430.09,313.75 L431.58,314.47 L433.08,315.19 L434.57,315.92 L436.07,316.66 L437.56,317.41 L439.06,318.15 L440.55,318.91 L442.05,319.66 L443.54,320.42 L445.04,321.19 L446.53,321.95 L448.03,322.72 L449.52,323.49 L451.02,324.27 L452.51,325.04 L454.01,325.81 L455.50,326.59 L457.00,327.36 L458.49,328.14 L459.99,328.91 L461.48,329.68 L462.98,330.45 L464.47,331.21 L465.97,331.98 L467.46,332.74 L468.96,333.49 L470.45,334.25 L471.95,334.99 L473.45,335.74 L474.94,336.48 L476.44,337.21 L477.93,337.94 L479.43,338.66 L480.92,339.37 L482.42,340.08 L483.91,340.78 L485.41,341.47 L486.90,342.16 L488.40,342.83 L489.89,343.50 L491.39,344.16 L492.88,344.81 L494.38,345.45 L495.87,346.07 L497.37,346.69 L498.86,347.30 L500.36,347.89 L501.85,348.48 L503.35,349.05 L504.84,349.61 L506.34,350.15 L507.83,350.68 L509.33,351.20 L510.82,351.71 L512.32,352.20 L513.81,352.68 L515.31,353.14 L516.80,353.58 L518.30,354.01 L519.79,354.42 L521.29,354.82 L522.78,355.20 L524.28,355.56 L525.77,355.91 L527.27,356.24 L528.76,356.55 L530.26,356.85 L531.75,357.14 L533.25,357.40 L534.74,357.66 L536.24,357.90 L537.73,358.12 L539.23,358.33 L540.72,358.53 L542.22,358.72 L543.71,358.89 L545.21,359.05 L546.70,359.20 L548.20,359.33 L549.69,359.46 L551.19,359.57 L552.68,359.67 L554.18,359.77 L555.67,359.85 L557.17,359.92 L558.66,359.98 L560.16,360.03 L561.65,360.08 L563.15,360.11 L564.64,360.14 L566.14,360.16 L567.63,360.17 L569.13,360.18 L570.62,360.18 L572.12,360.17 L573.61,360.15 L575.11,360.13 L576.60,360.10 L578.10,360.07" fill="none" stroke="#5E81B5" stroke-width="1.30" stroke-linejoin="round"/>
<path d="M365.80,289.13 L367.30,289.14 L368.79,289.17 L370.29,289.24 L371.78,289.33 L373.28,289.44 L374.77,289.58 L376.27,289.75 L377.76,289.93 L379.26,290.15 L380.75,290.38 L382.25,290.64 L383.74,290.92 L385.24,291.22 L386.73,291.54 L388.23,291.88 L389.72,292.24 L391.22,292.63 L392.71,293.03 L394.21,293.45 L395.70,293.89 L397.20,294.34 L398.69,294.82 L400.19,295.31 L401.68,295.82 L403.18,296.34 L404.67,296.88 L406.17,297.44 L407.66,298.01 L409.16,298.59 L410.65,299.19 L412.15,299.80 L413.64,300.42 L415.14,301.06 L416.63,301.71 L418.13,302.36 L419.62,303.04 L421.12,303.72 L422.61,304.41 L424.11,305.11 L425.60,305.82 L427.10,306.54 L428.59,307.26 L430.09,308.00 L431.58,308.74 L433.08,309.49 L434.57,310.25 L436.07,311.01 L437.56,311.77 L439.06,312.55 L440.55,313.32 L442.05,314.10 L443.54,314.89 L445.04,315.68 L446.53,316.47 L448.03,317.26 L449.52,318.05 L451.02,318.85 L452.51,319.65 L454.01,320.44 L455.50,321.24 L457.00,322.04 L458.49,322.83 L459.99,323.63 L461.48,324.42 L462.98,325.21 L464.47,326.00 L465.97,326.78 L467.46,327.56 L468.96,328.34 L470.45,329.12 L471.95,329.88 L473.45,330.65 L474.94,331.41 L476.44,332.16 L477.93,332.91 L479.43,333.65 L480.92,334.39 L482.42,335.12 L483.91,335.85 L485.41,336.56 L486.90,337.27 L488.40,337.97 L489.89,338.67 L491.39,339.36 L492.88,340.03 L494.38,340.70 L495.87,341.36 L497.37,342.01 L498.86,342.65 L500.36,343.29 L501.85,343.91 L503.35,344.52 L504.84,345.12 L506.34,345.71 L507.83,346.29 L509.33,346.85 L510.82,347.41 L512.32,347.95 L513.81,348.48 L515.31,348.99 L516.80,349.50 L518.30,349.99 L519.79,350.46 L521.29,350.93 L522.78,351.38 L524.28,351.81 L525.77,352.23 L527.27,352.63 L528.76,353.03 L530.26,353.40 L531.75,353.77 L533.25,354.12 L534.74,354.45 L536.24,354.78 L537.73,355.09 L539.23,355.38 L540.72,355.66 L542.22,355.93 L543.71,356.19 L545.21,356.43 L546.70,356.66 L548.20,356.88 L549.69,357.08 L551.19,357.27 L552.68,357.45 L554.18,357.62 L555.67,357.77 L557.17,357.91 L558.66,358.04 L560.16,358.16 L561.65,358.26 L563.15,358.35 L564.64,358.43 L566.14,358.50 L567.63,358.56 L569.13,358.60 L570.62,358.63 L572.12,358.66 L573.61,358.67 L575.11,358.66 L576.60,358.65 L578.10,358.63" fill="none" stroke="#8FB032" stroke-width="1.30" stroke-linejoin="round"/>
<path d="M365.80,275.79 L367.30,275.81 L368.79,275.85 L370.29,275.92 L371.78,276.02 L373.28,276.14 L374.77,276.29 L376.27,276.47 L377.76,276.68 L379.26,276.90 L380.75,277.16 L382.25,277.43 L383.74,277.73 L385.24,278.06 L386.73,278.41 L388.23,278.77 L389.72,279.16 L391.22,279.58 L392.71,280.01 L394.21,280.46 L395.70,280.93 L397.20,281.42 L398.69,281.93 L400.19,282.46 L401.68,283.01 L403.18,283.57 L404.67,284.15 L406.17,284.75 L407.66,285.36 L409.16,285.99 L410.65,286.63 L412.15,287.29 L413.64,287.96 L415.14,288.65 L416.63,289.34 L418.13,290.05 L419.62,290.77 L421.12,291.51 L422.61,292.25 L424.11,293.01 L425.60,293.77 L427.10,294.54 L428.59,295.33 L430.09,296.12 L431.58,296.92 L433.08,297.73 L434.57,298.54 L436.07,299.36 L437.56,300.19 L439.06,301.02 L440.55,301.86 L442.05,302.70 L443.54,303.55 L445.04,304.40 L446.53,305.25 L448.03,306.11 L449.52,306.97 L451.02,307.83 L452.51,308.69 L454.01,309.55 L455.50,310.41 L457.00,311.27 L458.49,312.13 L459.99,312.99 L461.48,313.85 L462.98,314.71 L464.47,315.56 L465.97,316.41 L467.46,317.26 L468.96,318.10 L470.45,318.94 L471.95,319.77 L473.45,320.60 L474.94,321.42 L476.44,322.24 L477.93,323.05 L479.43,323.85 L480.92,324.64 L482.42,325.43 L483.91,326.22 L485.41,326.99 L486.90,327.76 L488.40,328.52 L489.89,329.28 L491.39,330.03 L492.88,330.77 L494.38,331.50 L495.87,332.22 L497.37,332.94 L498.86,333.64 L500.36,334.34 L501.85,335.03 L503.35,335.72 L504.84,336.39 L506.34,337.05 L507.83,337.71 L509.33,338.35 L510.82,338.99 L512.32,339.62 L513.81,340.24 L515.31,340.84 L516.80,341.44 L518.30,342.03 L519.79,342.61 L521.29,343.17 L522.78,343.73 L524.28,344.28 L525.77,344.81 L527.27,345.34 L528.76,345.85 L530.26,346.35 L531.75,346.84 L533.25,347.32 L534.74,347.79 L536.24,348.24 L537.73,348.68 L539.23,349.12 L540.72,349.53 L542.22,349.94 L543.71,350.34 L545.21,350.72 L546.70,351.09 L548.20,351.44 L549.69,351.78 L551.19,352.11 L552.68,352.43 L554.18,352.73 L555.67,353.02 L557.17,353.29 L558.66,353.55 L560.16,353.80 L561.65,354.03 L563.15,354.25 L564.64,354.45 L566.14,354.64 L567.63,354.81 L569.13,354.97 L570.62,355.11 L572.12,355.24 L573.61,355.35 L575.11,355.45 L576.60,355.53 L578.10,355.60" fill="none" stroke="#EB6235" stroke-width="1.30" stroke-linejoin="round"/>
<path d="M365.80,261.27 L367.30,261.28 L368.79,261.33 L370.29,261.40 L371.78,261.50 L373.28,261.63 L374.77,261.79 L376.27,261.98 L377.76,262.20 L379.26,262.44 L380.75,262.71 L382.25,263.00 L383.74,263.33 L385.24,263.67 L386.73,264.04 L388.23,264.44 L389.72,264.86 L391.22,265.30 L392.71,265.77 L394.21,266.25 L395.70,266.76 L397.20,267.29 L398.69,267.84 L400.19,268.41 L401.68,269.00 L403.18,269.61 L404.67,270.24 L406.17,270.88 L407.66,271.55 L409.16,272.23 L410.65,272.93 L412.15,273.64 L413.64,274.37 L415.14,275.11 L416.63,275.87 L418.13,276.64 L419.62,277.43 L421.12,278.23 L422.61,279.04 L424.11,279.86 L425.60,280.70 L427.10,281.54 L428.59,282.40 L430.09,283.26 L431.58,284.14 L433.08,285.03 L434.57,285.92 L436.07,286.82 L437.56,287.73 L439.06,288.64 L440.55,289.57 L442.05,290.49 L443.54,291.43 L445.04,292.37 L446.53,293.31 L448.03,294.26 L449.52,295.21 L451.02,296.16 L452.51,297.12 L454.01,298.07 L455.50,299.03 L457.00,299.99 L458.49,300.95 L459.99,301.91 L461.48,302.87 L462.98,303.83 L464.47,304.79 L465.97,305.74 L467.46,306.69 L468.96,307.64 L470.45,308.59 L471.95,309.53 L473.45,310.46 L474.94,311.39 L476.44,312.32 L477.93,313.24 L479.43,314.15 L480.92,315.06 L482.42,315.96 L483.91,316.85 L485.41,317.73 L486.90,318.61 L488.40,319.48 L489.89,320.34 L491.39,321.19 L492.88,322.04 L494.38,322.87 L495.87,323.70 L497.37,324.52 L498.86,325.33 L500.36,326.14 L501.85,326.93 L503.35,327.71 L504.84,328.49 L506.34,329.25 L507.83,330.01 L509.33,330.76 L510.82,331.50 L512.32,332.22 L513.81,332.94 L515.31,333.65 L516.80,334.34 L518.30,335.03 L519.79,335.71 L521.29,336.37 L522.78,337.03 L524.28,337.67 L525.77,338.30 L527.27,338.92 L528.76,339.53 L530.26,340.13 L531.75,340.71 L533.25,341.29 L534.74,341.85 L536.24,342.40 L537.73,342.94 L539.23,343.46 L540.72,343.97 L542.22,344.47 L543.71,344.96 L545.21,345.43 L546.70,345.89 L548.20,346.34 L549.69,346.78 L551.19,347.20 L552.68,347.60 L554.18,348.00 L555.67,348.38 L557.17,348.74 L558.66,349.09 L560.16,349.43 L561.65,349.75 L563.15,350.06 L564.64,350.35 L566.14,350.62 L567.63,350.89 L569.13,351.13 L570.62,351.36 L572.12,351.58 L573.61,351.78 L575.11,351.97 L576.60,352.13 L578.10,352.29" fill="none" stroke="#5D9EC7" stroke-width="1.30" stroke-dasharray="4.5 4.5" stroke-linejoin="round"/>
<path d="M365.80,242.22 L367.30,242.23 L368.79,242.26 L370.29,242.33 L371.78,242.42 L373.28,242.54 L374.77,242.68 L376.27,242.85 L377.76,243.04 L379.26,243.26 L380.75,243.51 L382.25,243.78 L383.74,244.08 L385.24,244.40 L386.73,244.74 L388.23,245.11 L389.72,245.51 L391.22,245.92 L392.71,246.36 L394.21,246.83 L395.70,247.31 L397.20,247.82 L398.69,248.35 L400.19,248.90 L401.68,249.48 L403.18,250.08 L404.67,250.69 L406.17,251.33 L407.66,251.99 L409.16,252.67 L410.65,253.37 L412.15,254.09 L413.64,254.83 L415.14,255.59 L416.63,256.36 L418.13,257.16 L419.62,257.98 L421.12,258.81 L422.61,259.66 L424.11,260.53 L425.60,261.42 L427.10,262.33 L428.59,263.25 L430.09,264.19 L431.58,265.14 L433.08,266.11 L434.57,267.10 L436.07,268.10 L437.56,269.11 L439.06,270.14 L440.55,271.19 L442.05,272.25 L443.54,273.32 L445.04,274.40 L446.53,275.50 L448.03,276.60 L449.52,277.72 L451.02,278.85 L452.51,280.00 L454.01,281.15 L455.50,282.31 L457.00,283.48 L458.49,284.65 L459.99,285.83 L461.48,287.02 L462.98,288.20 L464.47,289.38 L465.97,290.57 L467.46,291.75 L468.96,292.92 L470.45,294.09 L471.95,295.25 L473.45,296.40 L474.94,297.54 L476.44,298.67 L477.93,299.79 L479.43,300.89 L480.92,301.97 L482.42,303.04 L483.91,304.10 L485.41,305.14 L486.90,306.16 L488.40,307.17 L489.89,308.17 L491.39,309.15 L492.88,310.12 L494.38,311.08 L495.87,312.02 L497.37,312.95 L498.86,313.87 L500.36,314.77 L501.85,315.66 L503.35,316.54 L504.84,317.41 L506.34,318.27 L507.83,319.11 L509.33,319.94 L510.82,320.76 L512.32,321.57 L513.81,322.37 L515.31,323.16 L516.80,323.93 L518.30,324.70 L519.79,325.45 L521.29,326.20 L522.78,326.94 L524.28,327.66 L525.77,328.38 L527.27,329.09 L528.76,329.79 L530.26,330.47 L531.75,331.16 L533.25,331.83 L534.74,332.49 L536.24,333.15 L537.73,333.80 L539.23,334.44 L540.72,335.07 L542.22,335.70 L543.71,336.32 L545.21,336.93 L546.70,337.54 L548.20,338.14 L549.69,338.73 L551.19,339.33 L552.68,339.91 L554.18,340.49 L555.67,341.07 L557.17,341.64 L558.66,342.21 L560.16,342.77 L561.65,343.33 L563.15,343.88 L564.64,344.44 L566.14,344.99 L567.63,345.54 L569.13,346.08 L570.62,346.63 L572.12,347.17 L573.61,347.71 L575.11,348.25 L576.60,348.78 L578.10,349.32" fill="none" stroke="#8778B3" stroke-width="1.30" stroke-linejoin="round"/>
<text x="440.80" y="368.80" font-size="8.40" text-anchor="middle" fill="#111"><tspan font-style="italic">π</tspan></text>
<line x1="437.20" y1="370.90" x2="443.20" y2="370.90" stroke="#222" stroke-width="0.9"/>
<text x="440.50" y="380.50" font-size="8.70" text-anchor="middle" fill="#111"><tspan>6</tspan></text>
<text x="516.70" y="368.80" font-size="8.40" text-anchor="middle" fill="#111"><tspan font-style="italic">π</tspan></text>
<line x1="513.10" y1="370.90" x2="519.10" y2="370.90" stroke="#222" stroke-width="0.9"/>
<text x="516.40" y="380.50" font-size="8.70" text-anchor="middle" fill="#111"><tspan>3</tspan></text>
<text x="473.40" y="211.20" font-size="8.75" text-anchor="middle" fill="#111"><tspan font-style="italic">v</tspan><tspan>=3/4,&#160; </tspan><tspan font-style="italic">ξ</tspan><tspan>=1/8,&#160; </tspan><tspan font-style="italic">β</tspan><tspan>=1</tspan></text>
<g transform="translate(352.00,223.40)" fill="#1a1a1a">
<line x1="0.2" y1="0" x2="5.0" y2="0" stroke="#444" stroke-width="0.9"/>
<polyline points="8.3,-4.5 6.0,0 8.3,4.5" fill="none" stroke="#111" stroke-width="1.1"/>
<polyline points="19.3,-4.5 21.6,0 19.3,4.5" fill="none" stroke="#111" stroke-width="1.1"/>
<text fill="#111" x="9.4" y="2.1" font-size="7.8" font-style="italic">T</text>
<polyline points="10.6,-4.7 11.8,-6.5 13.0,-4.7" fill="none" stroke="#111" stroke-width="1.0"/>
<text x="16.4" y="-4.7" font-size="5.6" font-style="italic">τ</text>
<text x="15.2" y="4.8" font-size="5.6" font-style="italic">τ</text>
<text x="22.8" y="-2.9" font-size="6" font-style="italic">ζ</text>
<text x="22.5" y="4.3" font-size="6" font-style="italic">β</text>
</g>
<rect x="597.80" y="241.30" width="86.60" height="100.00" fill="none" stroke="#111" stroke-width="1.3"/>
<line x1="604.30" y1="253.20" x2="630.90" y2="253.20" stroke="#5D9EC7" stroke-width="1.3" stroke-dasharray="2.3 2.1"/>
<text x="635.80" y="256.20" font-size="8.40" text-anchor="start" fill="#111"><tspan font-style="italic">ζ</tspan><tspan>=</tspan><tspan>0</tspan></text>
<line x1="604.30" y1="268.50" x2="630.90" y2="268.50" stroke="#5E81B5" stroke-width="1.3"/>
<text x="635.80" y="271.50" font-size="8.40" text-anchor="start" fill="#111"><tspan font-style="italic">ζ</tspan><tspan>=</tspan><tspan>15</tspan><tspan font-style="italic">π</tspan><tspan dx="0.7">/100</tspan></text>
<line x1="604.30" y1="283.80" x2="630.90" y2="283.80" stroke="#8FB032" stroke-width="1.3"/>
<text x="635.80" y="286.80" font-size="8.40" text-anchor="start" fill="#111"><tspan font-style="italic">ζ</tspan><tspan>=</tspan><tspan>38</tspan><tspan font-style="italic">π</tspan><tspan dx="0.7">/100</tspan></text>
<line x1="604.30" y1="299.10" x2="630.90" y2="299.10" stroke="#EB6235" stroke-width="1.3"/>
<text x="635.80" y="302.10" font-size="8.40" text-anchor="start" fill="#111"><tspan font-style="italic">ζ</tspan><tspan>=</tspan><tspan>48</tspan><tspan font-style="italic">π</tspan><tspan dx="0.7">/100</tspan></text>
<line x1="604.30" y1="314.40" x2="630.90" y2="314.40" stroke="#5D9EC7" stroke-width="1.3" stroke-dasharray="4.5 4.5"/>
<text x="635.80" y="317.40" font-size="8.40" text-anchor="start" fill="#111"><tspan font-style="italic">ζ</tspan><tspan>=</tspan><tspan font-style="italic">π</tspan><tspan dx="0.7">/2</tspan></text>
<line x1="604.30" y1="329.70" x2="630.90" y2="329.70" stroke="#8778B3" stroke-width="1.3"/>
<text x="635.80" y="332.70" font-size="8.40" text-anchor="start" fill="#111"><tspan font-style="italic">ζ</tspan><tspan>=</tspan><tspan>51</tspan><tspan font-style="italic">π</tspan><tspan dx="0.7">/100</tspan></text>
<line x1="13.10" y1="439.70" x2="13.10" y2="572.50" stroke="#9a9a9a" stroke-width="2.00"/>
<line x1="13.10" y1="542.30" x2="229.70" y2="542.30" stroke="#1a1a1a" stroke-width="1.10"/>
<line x1="14.10" y1="569.02" x2="15.50" y2="569.02" stroke="#222" stroke-width="0.95"/>
<line x1="14.10" y1="562.34" x2="15.50" y2="562.34" stroke="#222" stroke-width="0.95"/>
<line x1="14.10" y1="555.66" x2="15.50" y2="555.66" stroke="#222" stroke-width="0.95"/>
<line x1="14.10" y1="548.98" x2="15.50" y2="548.98" stroke="#222" stroke-width="0.95"/>
<line x1="14.10" y1="535.62" x2="15.50" y2="535.62" stroke="#222" stroke-width="0.95"/>
<line x1="14.10" y1="528.94" x2="15.50" y2="528.94" stroke="#222" stroke-width="0.95"/>
<line x1="14.10" y1="522.26" x2="15.50" y2="522.26" stroke="#222" stroke-width="0.95"/>
<line x1="14.10" y1="515.58" x2="15.50" y2="515.58" stroke="#222" stroke-width="0.95"/>
<line x1="14.10" y1="502.22" x2="15.50" y2="502.22" stroke="#222" stroke-width="0.95"/>
<line x1="14.10" y1="495.54" x2="15.50" y2="495.54" stroke="#222" stroke-width="0.95"/>
<line x1="14.10" y1="488.86" x2="15.50" y2="488.86" stroke="#222" stroke-width="0.95"/>
<line x1="14.10" y1="482.18" x2="15.50" y2="482.18" stroke="#222" stroke-width="0.95"/>
<line x1="14.10" y1="468.82" x2="15.50" y2="468.82" stroke="#222" stroke-width="0.95"/>
<line x1="14.10" y1="462.14" x2="15.50" y2="462.14" stroke="#222" stroke-width="0.95"/>
<line x1="14.10" y1="455.46" x2="15.50" y2="455.46" stroke="#222" stroke-width="0.95"/>
<line x1="14.10" y1="448.78" x2="15.50" y2="448.78" stroke="#222" stroke-width="0.95"/>
<line x1="14.10" y1="542.30" x2="16.60" y2="542.30" stroke="#222" stroke-width="0.95"/>
<text x="11.20" y="545.20" font-size="8.00" text-anchor="end" fill="#111"><tspan>0.0</tspan></text>
<line x1="14.10" y1="508.90" x2="16.60" y2="508.90" stroke="#222" stroke-width="0.95"/>
<text x="11.20" y="511.80" font-size="8.00" text-anchor="end" fill="#111"><tspan>0.1</tspan></text>
<line x1="14.10" y1="475.50" x2="16.60" y2="475.50" stroke="#222" stroke-width="0.95"/>
<text x="11.20" y="478.40" font-size="8.00" text-anchor="end" fill="#111"><tspan>0.2</tspan></text>
<line x1="14.10" y1="442.10" x2="16.60" y2="442.10" stroke="#222" stroke-width="0.95"/>
<text x="11.20" y="445.00" font-size="8.00" text-anchor="end" fill="#111"><tspan>0.3</tspan></text>
<line x1="88.30" y1="541.75" x2="88.30" y2="539.55" stroke="#333" stroke-width="0.9"/>
<line x1="163.30" y1="541.75" x2="163.30" y2="539.55" stroke="#333" stroke-width="0.9"/>
<text x="235.40" y="546.10" font-size="9.40" text-anchor="start" fill="#111"><tspan font-style="italic">ρ</tspan></text>
<path d="M13.20,445.16 L14.69,445.18 L16.18,445.23 L17.68,445.32 L19.17,445.44 L20.66,445.60 L22.15,445.80 L23.65,446.02 L25.14,446.28 L26.63,446.58 L28.12,446.90 L29.61,447.26 L31.11,447.64 L32.60,448.06 L34.09,448.50 L35.58,448.98 L37.08,449.48 L38.57,450.01 L40.06,450.56 L41.55,451.15 L43.05,451.76 L44.54,452.39 L46.03,453.05 L47.52,453.73 L49.01,454.43 L50.51,455.16 L52.00,455.91 L53.49,456.68 L54.98,457.47 L56.48,458.28 L57.97,459.10 L59.46,459.95 L60.95,460.82 L62.44,461.70 L63.94,462.60 L65.43,463.52 L66.92,464.45 L68.41,465.40 L69.91,466.36 L71.40,467.33 L72.89,468.32 L74.38,469.32 L75.87,470.33 L77.37,471.36 L78.86,472.39 L80.35,473.43 L81.84,474.49 L83.34,475.55 L84.83,476.62 L86.32,477.70 L87.81,478.78 L89.30,479.87 L90.80,480.96 L92.29,482.06 L93.78,483.17 L95.27,484.28 L96.77,485.39 L98.26,486.50 L99.75,487.62 L101.24,488.73 L102.74,489.85 L104.23,490.97 L105.72,492.08 L107.21,493.20 L108.70,494.31 L110.20,495.42 L111.69,496.53 L113.18,497.63 L114.67,498.73 L116.17,499.82 L117.66,500.91 L119.15,501.99 L120.64,503.07 L122.13,504.14 L123.63,505.20 L125.12,506.25 L126.61,507.29 L128.10,508.33 L129.60,509.35 L131.09,510.37 L132.58,511.38 L134.07,512.37 L135.56,513.35 L137.06,514.32 L138.55,515.28 L140.04,516.23 L141.53,517.16 L143.03,518.08 L144.52,518.98 L146.01,519.87 L147.50,520.75 L149.00,521.60 L150.49,522.44 L151.98,523.27 L153.47,524.08 L154.96,524.87 L156.46,525.64 L157.95,526.39 L159.44,527.12 L160.93,527.83 L162.43,528.53 L163.92,529.20 L165.41,529.85 L166.90,530.48 L168.39,531.09 L169.89,531.67 L171.38,532.23 L172.87,532.77 L174.36,533.28 L175.86,533.77 L177.35,534.24 L178.84,534.69 L180.33,535.12 L181.82,535.52 L183.32,535.90 L184.81,536.27 L186.30,536.61 L187.79,536.93 L189.29,537.23 L190.78,537.51 L192.27,537.78 L193.76,538.02 L195.25,538.24 L196.75,538.45 L198.24,538.64 L199.73,538.81 L201.22,538.96 L202.72,539.10 L204.21,539.22 L205.70,539.32 L207.19,539.41 L208.69,539.48 L210.18,539.54 L211.67,539.58 L213.16,539.60 L214.65,539.61 L216.15,539.61 L217.64,539.59 L219.13,539.56 L220.62,539.51 L222.12,539.46 L223.61,539.39 L225.10,539.30" fill="none" stroke="#5D9EC7" stroke-width="1.30" stroke-dasharray="2.3 2.1" stroke-linejoin="round"/>
<path d="M13.20,450.87 L14.69,450.88 L16.18,450.94 L17.68,451.02 L19.17,451.15 L20.66,451.30 L22.15,451.50 L23.65,451.72 L25.14,451.98 L26.63,452.27 L28.12,452.59 L29.61,452.94 L31.11,453.33 L32.60,453.74 L34.09,454.18 L35.58,454.65 L37.08,455.15 L38.57,455.67 L40.06,456.22 L41.55,456.80 L43.05,457.40 L44.54,458.03 L46.03,458.68 L47.52,459.36 L49.01,460.06 L50.51,460.78 L52.00,461.52 L53.49,462.28 L54.98,463.07 L56.48,463.87 L57.97,464.69 L59.46,465.54 L60.95,466.39 L62.44,467.27 L63.94,468.17 L65.43,469.08 L66.92,470.00 L68.41,470.94 L69.91,471.90 L71.40,472.86 L72.89,473.85 L74.38,474.84 L75.87,475.85 L77.37,476.86 L78.86,477.89 L80.35,478.93 L81.84,479.98 L83.34,481.03 L84.83,482.10 L86.32,483.17 L87.81,484.25 L89.30,485.33 L90.80,486.42 L92.29,487.52 L93.78,488.62 L95.27,489.72 L96.77,490.83 L98.26,491.94 L99.75,493.05 L101.24,494.17 L102.74,495.28 L104.23,496.40 L105.72,497.51 L107.21,498.62 L108.70,499.73 L110.20,500.84 L111.69,501.95 L113.18,503.05 L114.67,504.15 L116.17,505.24 L117.66,506.33 L119.15,507.42 L120.64,508.49 L122.13,509.56 L123.63,510.62 L125.12,511.67 L126.61,512.72 L128.10,513.75 L129.60,514.77 L131.09,515.78 L132.58,516.78 L134.07,517.77 L135.56,518.74 L137.06,519.70 L138.55,520.65 L140.04,521.58 L141.53,522.49 L143.03,523.39 L144.52,524.27 L146.01,525.13 L147.50,525.98 L149.00,526.81 L150.49,527.61 L151.98,528.40 L153.47,529.16 L154.96,529.91 L156.46,530.63 L157.95,531.33 L159.44,532.01 L160.93,532.66 L162.43,533.28 L163.92,533.89 L165.41,534.47 L166.90,535.02 L168.39,535.56 L169.89,536.07 L171.38,536.56 L172.87,537.03 L174.36,537.47 L175.86,537.90 L177.35,538.30 L178.84,538.68 L180.33,539.05 L181.82,539.39 L183.32,539.71 L184.81,540.02 L186.30,540.30 L187.79,540.57 L189.29,540.82 L190.78,541.05 L192.27,541.26 L193.76,541.46 L195.25,541.64 L196.75,541.80 L198.24,541.94 L199.73,542.07 L201.22,542.19 L202.72,542.29 L204.21,542.37 L205.70,542.44 L207.19,542.49 L208.69,542.53 L210.18,542.56 L211.67,542.57 L213.16,542.57 L214.65,542.56 L216.15,542.54 L217.64,542.50 L219.13,542.45 L220.62,542.39 L222.12,542.32 L223.61,542.24 L225.10,542.14" fill="none" stroke="#5E81B5" stroke-width="1.30" stroke-linejoin="round"/>
<path d="M13.20,455.12 L14.69,455.13 L16.18,455.18 L17.68,455.27 L19.17,455.40 L20.66,455.55 L22.15,455.75 L23.65,455.97 L25.14,456.24 L26.63,456.53 L28.12,456.85 L29.61,457.21 L31.11,457.59 L32.60,458.01 L34.09,458.46 L35.58,458.93 L37.08,459.43 L38.57,459.96 L40.06,460.52 L41.55,461.10 L43.05,461.71 L44.54,462.34 L46.03,462.99 L47.52,463.67 L49.01,464.38 L50.51,465.10 L52.00,465.85 L53.49,466.61 L54.98,467.40 L56.48,468.21 L57.97,469.03 L59.46,469.87 L60.95,470.73 L62.44,471.61 L63.94,472.51 L65.43,473.42 L66.92,474.34 L68.41,475.28 L69.91,476.23 L71.40,477.20 L72.89,478.18 L74.38,479.17 L75.87,480.17 L77.37,481.18 L78.86,482.20 L80.35,483.23 L81.84,484.27 L83.34,485.32 L84.83,486.37 L86.32,487.43 L87.81,488.50 L89.30,489.57 L90.80,490.64 L92.29,491.72 L93.78,492.81 L95.27,493.89 L96.77,494.98 L98.26,496.07 L99.75,497.16 L101.24,498.25 L102.74,499.34 L104.23,500.43 L105.72,501.52 L107.21,502.60 L108.70,503.68 L110.20,504.76 L111.69,505.83 L113.18,506.90 L114.67,507.96 L116.17,509.01 L117.66,510.06 L119.15,511.10 L120.64,512.14 L122.13,513.16 L123.63,514.18 L125.12,515.18 L126.61,516.18 L128.10,517.17 L129.60,518.14 L131.09,519.11 L132.58,520.06 L134.07,521.00 L135.56,521.92 L137.06,522.83 L138.55,523.73 L140.04,524.62 L141.53,525.48 L143.03,526.34 L144.52,527.17 L146.01,527.99 L147.50,528.80 L149.00,529.58 L150.49,530.35 L151.98,531.09 L153.47,531.82 L154.96,532.53 L156.46,533.22 L157.95,533.89 L159.44,534.53 L160.93,535.16 L162.43,535.76 L163.92,536.34 L165.41,536.90 L166.90,537.44 L168.39,537.95 L169.89,538.45 L171.38,538.92 L172.87,539.37 L174.36,539.80 L175.86,540.21 L177.35,540.60 L178.84,540.97 L180.33,541.32 L181.82,541.65 L183.32,541.95 L184.81,542.24 L186.30,542.51 L187.79,542.76 L189.29,542.99 L190.78,543.19 L192.27,543.38 L193.76,543.55 L195.25,543.70 L196.75,543.83 L198.24,543.95 L199.73,544.04 L201.22,544.11 L202.72,544.17 L204.21,544.21 L205.70,544.23 L207.19,544.23 L208.69,544.21 L210.18,544.18 L211.67,544.12 L213.16,544.05 L214.65,543.97 L216.15,543.86 L217.64,543.74 L219.13,543.60 L220.62,543.44 L222.12,543.27 L223.61,543.08 L225.10,542.87" fill="none" stroke="#8FB032" stroke-width="1.30" stroke-linejoin="round"/>
<path d="M13.20,465.04 L14.69,465.06 L16.18,465.11 L17.68,465.20 L19.17,465.32 L20.66,465.48 L22.15,465.68 L23.65,465.90 L25.14,466.16 L26.63,466.46 L28.12,466.78 L29.61,467.13 L31.11,467.52 L32.60,467.93 L34.09,468.38 L35.58,468.85 L37.08,469.35 L38.57,469.87 L40.06,470.43 L41.55,471.00 L43.05,471.61 L44.54,472.23 L46.03,472.88 L47.52,473.55 L49.01,474.25 L50.51,474.97 L52.00,475.70 L53.49,476.46 L54.98,477.24 L56.48,478.03 L57.97,478.84 L59.46,479.67 L60.95,480.52 L62.44,481.39 L63.94,482.26 L65.43,483.16 L66.92,484.06 L68.41,484.98 L69.91,485.92 L71.40,486.86 L72.89,487.82 L74.38,488.78 L75.87,489.76 L77.37,490.75 L78.86,491.74 L80.35,492.74 L81.84,493.75 L83.34,494.77 L84.83,495.79 L86.32,496.81 L87.81,497.85 L89.30,498.88 L90.80,499.92 L92.29,500.96 L93.78,502.00 L95.27,503.04 L96.77,504.09 L98.26,505.13 L99.75,506.17 L101.24,507.21 L102.74,508.25 L104.23,509.29 L105.72,510.32 L107.21,511.34 L108.70,512.37 L110.20,513.38 L111.69,514.39 L113.18,515.39 L114.67,516.39 L116.17,517.38 L117.66,518.36 L119.15,519.33 L120.64,520.29 L122.13,521.25 L123.63,522.19 L125.12,523.12 L126.61,524.04 L128.10,524.95 L129.60,525.85 L131.09,526.73 L132.58,527.61 L134.07,528.46 L135.56,529.31 L137.06,530.14 L138.55,530.95 L140.04,531.75 L141.53,532.53 L143.03,533.30 L144.52,534.05 L146.01,534.78 L147.50,535.49 L149.00,536.19 L150.49,536.86 L151.98,537.52 L153.47,538.16 L154.96,538.77 L156.46,539.37 L157.95,539.94 L159.44,540.49 L160.93,541.02 L162.43,541.53 L163.92,542.01 L165.41,542.47 L166.90,542.91 L168.39,543.31 L169.89,543.70 L171.38,544.06 L172.87,544.39 L174.36,544.70 L175.86,544.98 L177.35,545.25 L178.84,545.48 L180.33,545.70 L181.82,545.89 L183.32,546.06 L184.81,546.21 L186.30,546.34 L187.79,546.45 L189.29,546.54 L190.78,546.62 L192.27,546.67 L193.76,546.71 L195.25,546.72 L196.75,546.73 L198.24,546.71 L199.73,546.68 L201.22,546.63 L202.72,546.57 L204.21,546.50 L205.70,546.41 L207.19,546.31 L208.69,546.20 L210.18,546.07 L211.67,545.93 L213.16,545.78 L214.65,545.63 L216.15,545.46 L217.64,545.28 L219.13,545.09 L220.62,544.90 L222.12,544.69 L223.61,544.48 L225.10,544.26" fill="none" stroke="#5D9EC7" stroke-width="1.30" stroke-dasharray="4.5 4.5" stroke-linejoin="round"/>
<path d="M13.20,469.23 L14.69,469.25 L16.18,469.30 L17.68,469.39 L19.17,469.51 L20.66,469.66 L22.15,469.84 L23.65,470.06 L25.14,470.31 L26.63,470.59 L28.12,470.90 L29.61,471.24 L31.11,471.61 L32.60,472.00 L34.09,472.43 L35.58,472.88 L37.08,473.36 L38.57,473.86 L40.06,474.39 L41.55,474.94 L43.05,475.52 L44.54,476.12 L46.03,476.74 L47.52,477.39 L49.01,478.05 L50.51,478.74 L52.00,479.45 L53.49,480.17 L54.98,480.92 L56.48,481.68 L57.97,482.46 L59.46,483.26 L60.95,484.08 L62.44,484.91 L63.94,485.75 L65.43,486.61 L66.92,487.49 L68.41,488.37 L69.91,489.27 L71.40,490.19 L72.89,491.11 L74.38,492.04 L75.87,492.99 L77.37,493.94 L78.86,494.90 L80.35,495.87 L81.84,496.85 L83.34,497.83 L84.83,498.83 L86.32,499.82 L87.81,500.83 L89.30,501.83 L90.80,502.84 L92.29,503.86 L93.78,504.87 L95.27,505.89 L96.77,506.91 L98.26,507.93 L99.75,508.95 L101.24,509.97 L102.74,510.99 L104.23,512.00 L105.72,513.02 L107.21,514.03 L108.70,515.04 L110.20,516.04 L111.69,517.04 L113.18,518.03 L114.67,519.01 L116.17,519.99 L117.66,520.96 L119.15,521.93 L120.64,522.88 L122.13,523.83 L123.63,524.76 L125.12,525.69 L126.61,526.60 L128.10,527.50 L129.60,528.39 L131.09,529.26 L132.58,530.12 L134.07,530.97 L135.56,531.80 L137.06,532.62 L138.55,533.41 L140.04,534.20 L141.53,534.96 L143.03,535.71 L144.52,536.43 L146.01,537.14 L147.50,537.83 L149.00,538.49 L150.49,539.14 L151.98,539.76 L153.47,540.36 L154.96,540.93 L156.46,541.48 L157.95,542.01 L159.44,542.51 L160.93,542.99 L162.43,543.44 L163.92,543.86 L165.41,544.26 L166.90,544.63 L168.39,544.98 L169.89,545.31 L171.38,545.61 L172.87,545.90 L174.36,546.16 L175.86,546.39 L177.35,546.61 L178.84,546.81 L180.33,546.98 L181.82,547.14 L183.32,547.28 L184.81,547.40 L186.30,547.50 L187.79,547.58 L189.29,547.65 L190.78,547.70 L192.27,547.74 L193.76,547.76 L195.25,547.76 L196.75,547.75 L198.24,547.73 L199.73,547.69 L201.22,547.64 L202.72,547.57 L204.21,547.50 L205.70,547.41 L207.19,547.31 L208.69,547.20 L210.18,547.08 L211.67,546.96 L213.16,546.82 L214.65,546.67 L216.15,546.52 L217.64,546.36 L219.13,546.19 L220.62,546.01 L222.12,545.83 L223.61,545.65 L225.10,545.45" fill="none" stroke="#EB6235" stroke-width="1.30" stroke-linejoin="round"/>
<path d="M13.20,474.58 L14.69,474.60 L16.18,474.65 L17.68,474.73 L19.17,474.85 L20.66,475.01 L22.15,475.19 L23.65,475.41 L25.14,475.66 L26.63,475.94 L28.12,476.25 L29.61,476.59 L31.11,476.96 L32.60,477.36 L34.09,477.79 L35.58,478.24 L37.08,478.72 L38.57,479.22 L40.06,479.75 L41.55,480.31 L43.05,480.88 L44.54,481.48 L46.03,482.11 L47.52,482.75 L49.01,483.42 L50.51,484.10 L52.00,484.81 L53.49,485.53 L54.98,486.28 L56.48,487.04 L57.97,487.81 L59.46,488.61 L60.95,489.42 L62.44,490.24 L63.94,491.08 L65.43,491.94 L66.92,492.80 L68.41,493.68 L69.91,494.57 L71.40,495.47 L72.89,496.39 L74.38,497.31 L75.87,498.24 L77.37,499.18 L78.86,500.13 L80.35,501.08 L81.84,502.05 L83.34,503.01 L84.83,503.99 L86.32,504.96 L87.81,505.94 L89.30,506.93 L90.80,507.92 L92.29,508.90 L93.78,509.89 L95.27,510.89 L96.77,511.88 L98.26,512.87 L99.75,513.86 L101.24,514.84 L102.74,515.83 L104.23,516.81 L105.72,517.78 L107.21,518.76 L108.70,519.72 L110.20,520.68 L111.69,521.64 L113.18,522.59 L114.67,523.53 L116.17,524.46 L117.66,525.39 L119.15,526.30 L120.64,527.21 L122.13,528.10 L123.63,528.98 L125.12,529.86 L126.61,530.72 L128.10,531.57 L129.60,532.40 L131.09,533.22 L132.58,534.03 L134.07,534.82 L135.56,535.60 L137.06,536.36 L138.55,537.10 L140.04,537.83 L141.53,538.54 L143.03,539.23 L144.52,539.91 L146.01,540.56 L147.50,541.19 L149.00,541.81 L150.49,542.40 L151.98,542.97 L153.47,543.52 L154.96,544.04 L156.46,544.54 L157.95,545.02 L159.44,545.47 L160.93,545.90 L162.43,546.31 L163.92,546.69 L165.41,547.04 L166.90,547.37 L168.39,547.68 L169.89,547.96 L171.38,548.22 L172.87,548.46 L174.36,548.68 L175.86,548.87 L177.35,549.05 L178.84,549.20 L180.33,549.33 L181.82,549.45 L183.32,549.54 L184.81,549.61 L186.30,549.66 L187.79,549.70 L189.29,549.72 L190.78,549.72 L192.27,549.70 L193.76,549.66 L195.25,549.61 L196.75,549.54 L198.24,549.45 L199.73,549.35 L201.22,549.24 L202.72,549.10 L204.21,548.96 L205.70,548.80 L207.19,548.62 L208.69,548.44 L210.18,548.24 L211.67,548.02 L213.16,547.80 L214.65,547.56 L216.15,547.31 L217.64,547.05 L219.13,546.78 L220.62,546.49 L222.12,546.20 L223.61,545.90 L225.10,545.59" fill="none" stroke="#8778B3" stroke-width="1.30" stroke-linejoin="round"/>
<path d="M13.20,521.12 L14.69,521.14 L16.18,521.18 L17.68,521.24 L19.17,521.32 L20.66,521.42 L22.15,521.54 L23.65,521.69 L25.14,521.85 L26.63,522.04 L28.12,522.24 L29.61,522.47 L31.11,522.72 L32.60,522.98 L34.09,523.27 L35.58,523.58 L37.08,523.90 L38.57,524.25 L40.06,524.61 L41.55,524.99 L43.05,525.40 L44.54,525.82 L46.03,526.26 L47.52,526.71 L49.01,527.19 L50.51,527.68 L52.00,528.20 L53.49,528.72 L54.98,529.27 L56.48,529.84 L57.97,530.42 L59.46,531.01 L60.95,531.63 L62.44,532.26 L63.94,532.91 L65.43,533.57 L66.92,534.24 L68.41,534.92 L69.91,535.62 L71.40,536.33 L72.89,537.04 L74.38,537.76 L75.87,538.50 L77.37,539.23 L78.86,539.97 L80.35,540.72 L81.84,541.47 L83.34,542.22 L84.83,542.97 L86.32,543.72 L87.81,544.48 L89.30,545.23 L90.80,545.97 L92.29,546.72 L93.78,547.46 L95.27,548.19 L96.77,548.92 L98.26,549.64 L99.75,550.35 L101.24,551.05 L102.74,551.74 L104.23,552.42 L105.72,553.08 L107.21,553.73 L108.70,554.37 L110.20,555.00 L111.69,555.60 L113.18,556.20 L114.67,556.77 L116.17,557.34 L117.66,557.88 L119.15,558.41 L120.64,558.93 L122.13,559.42 L123.63,559.90 L125.12,560.37 L126.61,560.81 L128.10,561.24 L129.60,561.65 L131.09,562.05 L132.58,562.42 L134.07,562.78 L135.56,563.12 L137.06,563.44 L138.55,563.74 L140.04,564.02 L141.53,564.29 L143.03,564.53 L144.52,564.76 L146.01,564.96 L147.50,565.15 L149.00,565.31 L150.49,565.46 L151.98,565.58 L153.47,565.68 L154.96,565.76 L156.46,565.82 L157.95,565.86 L159.44,565.88 L160.93,565.88 L162.43,565.85 L163.92,565.80 L165.41,565.73 L166.90,565.64 L168.39,565.52 L169.89,565.38 L171.38,565.22 L172.87,565.03 L174.36,564.82 L175.86,564.59 L177.35,564.33 L178.84,564.05 L180.33,563.74 L181.82,563.41 L183.32,563.06 L184.81,562.69 L186.30,562.30 L187.79,561.89 L189.29,561.46 L190.78,561.01 L192.27,560.55 L193.76,560.06 L195.25,559.57 L196.75,559.06 L198.24,558.53 L199.73,558.00 L201.22,557.45 L202.72,556.89 L204.21,556.32 L205.70,555.74 L207.19,555.15 L208.69,554.56 L210.18,553.96 L211.67,553.35 L213.16,552.73 L214.65,552.12 L216.15,551.49 L217.64,550.87 L219.13,550.25 L220.62,549.62 L222.12,548.99 L223.61,548.37 L225.10,547.74" fill="none" stroke="#5D9EC7" stroke-width="1.30" stroke-linejoin="round"/>
<text x="88.60" y="549.80" font-size="8.40" text-anchor="middle" fill="#111"><tspan font-style="italic">π</tspan></text>
<line x1="85.00" y1="551.90" x2="91.00" y2="551.90" stroke="#222" stroke-width="0.9"/>
<text x="88.30" y="561.50" font-size="8.70" text-anchor="middle" fill="#111"><tspan>6</tspan></text>
<text x="163.60" y="549.80" font-size="8.40" text-anchor="middle" fill="#111"><tspan font-style="italic">π</tspan></text>
<line x1="160.00" y1="551.90" x2="166.00" y2="551.90" stroke="#222" stroke-width="0.9"/>
<text x="163.30" y="561.50" font-size="8.70" text-anchor="middle" fill="#111"><tspan>3</tspan></text>
<text x="121.20" y="415.20" font-size="8.75" text-anchor="middle" fill="#111"><tspan font-style="italic">v</tspan><tspan>=1/4, </tspan><tspan font-style="italic">ξ</tspan><tspan>=0, </tspan><tspan font-style="italic">β</tspan><tspan>=1</tspan></text>
<g transform="translate(-0.70,427.10)" fill="#1a1a1a">
<line x1="0.2" y1="0" x2="5.0" y2="0" stroke="#444" stroke-width="0.9"/>
<polyline points="8.3,-4.5 6.0,0 8.3,4.5" fill="none" stroke="#111" stroke-width="1.1"/>
<polyline points="19.3,-4.5 21.6,0 19.3,4.5" fill="none" stroke="#111" stroke-width="1.1"/>
<text fill="#111" x="9.4" y="2.1" font-size="7.8" font-style="italic">T</text>
<polyline points="10.6,-4.7 11.8,-6.5 13.0,-4.7" fill="none" stroke="#111" stroke-width="1.0"/>
<text x="16.4" y="-4.7" font-size="5.6" font-style="italic">τ</text>
<text x="15.2" y="4.8" font-size="5.6" font-style="italic">τ</text>
<text x="22.8" y="-2.9" font-size="6" font-style="italic">ζ</text>
<text x="22.5" y="4.3" font-size="6" font-style="italic">β</text>
</g>
<rect x="245.20" y="432.10" width="87.10" height="115.00" fill="none" stroke="#111" stroke-width="1.3"/>
<line x1="252.00" y1="443.70" x2="278.90" y2="443.70" stroke="#5D9EC7" stroke-width="1.3" stroke-dasharray="2.3 2.1"/>
<text x="283.50" y="446.70" font-size="8.40" text-anchor="start" fill="#111"><tspan font-style="italic">ζ</tspan><tspan>=</tspan><tspan>0</tspan></text>
<line x1="252.00" y1="459.07" x2="278.90" y2="459.07" stroke="#5E81B5" stroke-width="1.3"/>
<text x="283.50" y="462.07" font-size="8.40" text-anchor="start" fill="#111"><tspan font-style="italic">ζ</tspan><tspan>=</tspan><tspan>3</tspan><tspan font-style="italic">π</tspan><tspan dx="0.7">/10</tspan></text>
<line x1="252.00" y1="474.44" x2="278.90" y2="474.44" stroke="#8FB032" stroke-width="1.3"/>
<text x="283.50" y="477.44" font-size="8.40" text-anchor="start" fill="#111"><tspan font-style="italic">ζ</tspan><tspan>=</tspan><tspan>4</tspan><tspan font-style="italic">π</tspan><tspan dx="0.7">/10</tspan></text>
<line x1="252.00" y1="489.81" x2="278.90" y2="489.81" stroke="#5D9EC7" stroke-width="1.3" stroke-dasharray="4.5 4.5"/>
<text x="283.50" y="492.81" font-size="8.40" text-anchor="start" fill="#111"><tspan font-style="italic">ζ</tspan><tspan>=</tspan><tspan font-style="italic">π</tspan><tspan dx="0.7">/2</tspan></text>
<line x1="252.00" y1="505.18" x2="278.90" y2="505.18" stroke="#EB6235" stroke-width="1.3"/>
<text x="283.50" y="508.18" font-size="8.40" text-anchor="start" fill="#111"><tspan font-style="italic">ζ</tspan><tspan>=</tspan><tspan>52</tspan><tspan font-style="italic">π</tspan><tspan dx="0.7">/100</tspan></text>
<line x1="252.00" y1="520.55" x2="278.90" y2="520.55" stroke="#8778B3" stroke-width="1.3"/>
<text x="283.50" y="523.55" font-size="8.40" text-anchor="start" fill="#111"><tspan font-style="italic">ζ</tspan><tspan>=</tspan><tspan>54</tspan><tspan font-style="italic">π</tspan><tspan dx="0.7">/100</tspan></text>
<line x1="252.00" y1="535.92" x2="278.90" y2="535.92" stroke="#5D9EC7" stroke-width="1.3"/>
<text x="283.50" y="538.92" font-size="8.40" text-anchor="start" fill="#111"><tspan font-style="italic">ζ</tspan><tspan>=</tspan><tspan>3</tspan><tspan font-style="italic">π</tspan><tspan dx="0.7">/5</tspan></text>
<line x1="369.60" y1="441.80" x2="369.60" y2="572.50" stroke="#1a1a1a" stroke-width="1.00"/>
<line x1="369.60" y1="513.40" x2="582.00" y2="513.40" stroke="#1a1a1a" stroke-width="1.10"/>
<line x1="370.10" y1="571.90" x2="371.50" y2="571.90" stroke="#222" stroke-width="0.95"/>
<line x1="370.10" y1="567.40" x2="371.50" y2="567.40" stroke="#222" stroke-width="0.95"/>
<line x1="370.10" y1="562.90" x2="371.50" y2="562.90" stroke="#222" stroke-width="0.95"/>
<line x1="370.10" y1="553.90" x2="371.50" y2="553.90" stroke="#222" stroke-width="0.95"/>
<line x1="370.10" y1="549.40" x2="371.50" y2="549.40" stroke="#222" stroke-width="0.95"/>
<line x1="370.10" y1="544.90" x2="371.50" y2="544.90" stroke="#222" stroke-width="0.95"/>
<line x1="370.10" y1="540.40" x2="371.50" y2="540.40" stroke="#222" stroke-width="0.95"/>
<line x1="370.10" y1="531.40" x2="371.50" y2="531.40" stroke="#222" stroke-width="0.95"/>
<line x1="370.10" y1="526.90" x2="371.50" y2="526.90" stroke="#222" stroke-width="0.95"/>
<line x1="370.10" y1="522.40" x2="371.50" y2="522.40" stroke="#222" stroke-width="0.95"/>
<line x1="370.10" y1="517.90" x2="371.50" y2="517.90" stroke="#222" stroke-width="0.95"/>
<line x1="370.10" y1="508.90" x2="371.50" y2="508.90" stroke="#222" stroke-width="0.95"/>
<line x1="370.10" y1="504.40" x2="371.50" y2="504.40" stroke="#222" stroke-width="0.95"/>
<line x1="370.10" y1="499.90" x2="371.50" y2="499.90" stroke="#222" stroke-width="0.95"/>
<line x1="370.10" y1="495.40" x2="371.50" y2="495.40" stroke="#222" stroke-width="0.95"/>
<line x1="370.10" y1="486.40" x2="371.50" y2="486.40" stroke="#222" stroke-width="0.95"/>
<line x1="370.10" y1="481.90" x2="371.50" y2="481.90" stroke="#222" stroke-width="0.95"/>
<line x1="370.10" y1="477.40" x2="371.50" y2="477.40" stroke="#222" stroke-width="0.95"/>
<line x1="370.10" y1="472.90" x2="371.50" y2="472.90" stroke="#222" stroke-width="0.95"/>
<line x1="370.10" y1="463.90" x2="371.50" y2="463.90" stroke="#222" stroke-width="0.95"/>
<line x1="370.10" y1="459.40" x2="371.50" y2="459.40" stroke="#222" stroke-width="0.95"/>
<line x1="370.10" y1="454.90" x2="371.50" y2="454.90" stroke="#222" stroke-width="0.95"/>
<line x1="370.10" y1="450.40" x2="371.50" y2="450.40" stroke="#222" stroke-width="0.95"/>
<line x1="370.10" y1="441.40" x2="371.50" y2="441.40" stroke="#222" stroke-width="0.95"/>
<line x1="370.10" y1="558.40" x2="372.60" y2="558.40" stroke="#222" stroke-width="0.95"/>
<text x="367.40" y="561.30" font-size="8.00" text-anchor="end" fill="#111"><tspan>−0.2</tspan></text>
<line x1="370.10" y1="535.90" x2="372.60" y2="535.90" stroke="#222" stroke-width="0.95"/>
<text x="367.40" y="538.80" font-size="8.00" text-anchor="end" fill="#111"><tspan>−0.1</tspan></text>
<line x1="370.10" y1="513.40" x2="372.60" y2="513.40" stroke="#222" stroke-width="0.95"/>
<text x="367.40" y="516.30" font-size="8.00" text-anchor="end" fill="#111"><tspan>0.0</tspan></text>
<line x1="370.10" y1="490.90" x2="372.60" y2="490.90" stroke="#222" stroke-width="0.95"/>
<text x="367.40" y="493.80" font-size="8.00" text-anchor="end" fill="#111"><tspan>0.1</tspan></text>
<line x1="370.10" y1="468.40" x2="372.60" y2="468.40" stroke="#222" stroke-width="0.95"/>
<text x="367.40" y="471.30" font-size="8.00" text-anchor="end" fill="#111"><tspan>0.2</tspan></text>
<line x1="370.10" y1="445.90" x2="372.60" y2="445.90" stroke="#222" stroke-width="0.95"/>
<text x="367.40" y="448.80" font-size="8.00" text-anchor="end" fill="#111"><tspan>0.3</tspan></text>
<line x1="443.20" y1="512.85" x2="443.20" y2="510.65" stroke="#333" stroke-width="0.9"/>
<line x1="517.40" y1="512.85" x2="517.40" y2="510.65" stroke="#333" stroke-width="0.9"/>
<text x="587.70" y="517.20" font-size="9.40" text-anchor="start" fill="#111"><tspan font-style="italic">ρ</tspan></text>
<path d="M369.60,448.14 L371.09,448.14 L372.58,448.17 L374.08,448.22 L375.57,448.30 L377.06,448.41 L378.55,448.54 L380.05,448.70 L381.54,448.88 L383.03,449.08 L384.52,449.31 L386.01,449.56 L387.51,449.83 L389.00,450.13 L390.49,450.44 L391.98,450.78 L393.47,451.14 L394.97,451.52 L396.46,451.91 L397.95,452.33 L399.44,452.77 L400.94,453.22 L402.43,453.69 L403.92,454.18 L405.41,454.68 L406.90,455.20 L408.40,455.74 L409.89,456.29 L411.38,456.86 L412.87,457.44 L414.36,458.04 L415.86,458.64 L417.35,459.27 L418.84,459.90 L420.33,460.55 L421.83,461.20 L423.32,461.87 L424.81,462.55 L426.30,463.24 L427.79,463.94 L429.29,464.65 L430.78,465.37 L432.27,466.09 L433.76,466.82 L435.25,467.56 L436.75,468.31 L438.24,469.07 L439.73,469.82 L441.22,470.59 L442.72,471.36 L444.21,472.13 L445.70,472.91 L447.19,473.69 L448.68,474.48 L450.18,475.26 L451.67,476.05 L453.16,476.84 L454.65,477.63 L456.14,478.42 L457.64,479.21 L459.13,480.00 L460.62,480.79 L462.11,481.58 L463.61,482.36 L465.10,483.14 L466.59,483.92 L468.08,484.69 L469.57,485.46 L471.07,486.23 L472.56,486.98 L474.05,487.74 L475.54,488.48 L477.03,489.22 L478.53,489.95 L480.02,490.68 L481.51,491.39 L483.00,492.10 L484.50,492.79 L485.99,493.48 L487.48,494.15 L488.97,494.82 L490.46,495.47 L491.96,496.11 L493.45,496.74 L494.94,497.35 L496.43,497.95 L497.92,498.53 L499.42,499.11 L500.91,499.66 L502.40,500.20 L503.89,500.72 L505.38,501.23 L506.88,501.73 L508.37,502.20 L509.86,502.67 L511.35,503.12 L512.85,503.55 L514.34,503.97 L515.83,504.38 L517.32,504.77 L518.81,505.15 L520.31,505.52 L521.80,505.87 L523.29,506.21 L524.78,506.54 L526.27,506.85 L527.77,507.16 L529.26,507.45 L530.75,507.72 L532.24,507.99 L533.74,508.24 L535.23,508.49 L536.72,508.72 L538.21,508.94 L539.70,509.15 L541.20,509.34 L542.69,509.53 L544.18,509.71 L545.67,509.88 L547.16,510.03 L548.66,510.18 L550.15,510.32 L551.64,510.45 L553.13,510.57 L554.63,510.68 L556.12,510.78 L557.61,510.87 L559.10,510.95 L560.59,511.03 L562.09,511.10 L563.58,511.16 L565.07,511.21 L566.56,511.25 L568.06,511.29 L569.55,511.32 L571.04,511.35 L572.53,511.36 L574.02,511.37 L575.52,511.37 L577.01,511.37 L578.50,511.36" fill="none" stroke="#5D9EC7" stroke-width="1.30" stroke-dasharray="2.3 2.1" stroke-linejoin="round"/>
<path d="M369.60,449.74 L371.09,449.75 L372.58,449.78 L374.08,449.83 L375.57,449.92 L377.06,450.02 L378.55,450.16 L380.05,450.32 L381.54,450.50 L383.03,450.71 L384.52,450.94 L386.01,451.20 L387.51,451.48 L389.00,451.78 L390.49,452.10 L391.98,452.45 L393.47,452.81 L394.97,453.20 L396.46,453.60 L397.95,454.03 L399.44,454.47 L400.94,454.93 L402.43,455.42 L403.92,455.91 L405.41,456.43 L406.90,456.96 L408.40,457.51 L409.89,458.08 L411.38,458.66 L412.87,459.25 L414.36,459.86 L415.86,460.48 L417.35,461.12 L418.84,461.77 L420.33,462.43 L421.83,463.10 L423.32,463.79 L424.81,464.49 L426.30,465.19 L427.79,465.91 L429.29,466.64 L430.78,467.38 L432.27,468.12 L433.76,468.87 L435.25,469.64 L436.75,470.40 L438.24,471.18 L439.73,471.96 L441.22,472.75 L442.72,473.54 L444.21,474.34 L445.70,475.15 L447.19,475.95 L448.68,476.76 L450.18,477.58 L451.67,478.39 L453.16,479.21 L454.65,480.03 L456.14,480.86 L457.64,481.68 L459.13,482.50 L460.62,483.33 L462.11,484.15 L463.61,484.97 L465.10,485.79 L466.59,486.61 L468.08,487.42 L469.57,488.23 L471.07,489.04 L472.56,489.85 L474.05,490.65 L475.54,491.45 L477.03,492.24 L478.53,493.02 L480.02,493.80 L481.51,494.57 L483.00,495.34 L484.50,496.09 L485.99,496.84 L487.48,497.58 L488.97,498.32 L490.46,499.04 L491.96,499.75 L493.45,500.45 L494.94,501.14 L496.43,501.82 L497.92,502.49 L499.42,503.15 L500.91,503.79 L502.40,504.42 L503.89,505.04 L505.38,505.64 L506.88,506.23 L508.37,506.81 L509.86,507.37 L511.35,507.92 L512.85,508.45 L514.34,508.97 L515.83,509.48 L517.32,509.98 L518.81,510.45 L520.31,510.92 L521.80,511.37 L523.29,511.81 L524.78,512.23 L526.27,512.64 L527.77,513.03 L529.26,513.40 L530.75,513.77 L532.24,514.12 L533.74,514.45 L535.23,514.76 L536.72,515.07 L538.21,515.35 L539.70,515.62 L541.20,515.88 L542.69,516.12 L544.18,516.34 L545.67,516.55 L547.16,516.74 L548.66,516.92 L550.15,517.08 L551.64,517.22 L553.13,517.35 L554.63,517.46 L556.12,517.55 L557.61,517.63 L559.10,517.69 L560.59,517.74 L562.09,517.76 L563.58,517.77 L565.07,517.77 L566.56,517.74 L568.06,517.70 L569.55,517.64 L571.04,517.56 L572.53,517.47 L574.02,517.36 L575.52,517.23 L577.01,517.08 L578.50,516.91" fill="none" stroke="#5E81B5" stroke-width="1.30" stroke-linejoin="round"/>
<path d="M369.60,469.01 L371.09,469.02 L372.58,469.05 L374.08,469.11 L375.57,469.20 L377.06,469.31 L378.55,469.45 L380.05,469.61 L381.54,469.79 L383.03,470.00 L384.52,470.24 L386.01,470.49 L387.51,470.77 L389.00,471.07 L390.49,471.40 L391.98,471.74 L393.47,472.10 L394.97,472.48 L396.46,472.89 L397.95,473.31 L399.44,473.75 L400.94,474.21 L402.43,474.68 L403.92,475.18 L405.41,475.69 L406.90,476.21 L408.40,476.75 L409.89,477.31 L411.38,477.88 L412.87,478.46 L414.36,479.06 L415.86,479.67 L417.35,480.29 L418.84,480.92 L420.33,481.57 L421.83,482.23 L423.32,482.90 L424.81,483.57 L426.30,484.26 L427.79,484.96 L429.29,485.66 L430.78,486.37 L432.27,487.09 L433.76,487.82 L435.25,488.55 L436.75,489.29 L438.24,490.04 L439.73,490.79 L441.22,491.54 L442.72,492.30 L444.21,493.07 L445.70,493.83 L447.19,494.60 L448.68,495.37 L450.18,496.14 L451.67,496.91 L453.16,497.69 L454.65,498.46 L456.14,499.23 L457.64,500.01 L459.13,500.78 L460.62,501.55 L462.11,502.31 L463.61,503.08 L465.10,503.84 L466.59,504.59 L468.08,505.34 L469.57,506.09 L471.07,506.83 L472.56,507.57 L474.05,508.30 L475.54,509.02 L477.03,509.73 L478.53,510.44 L480.02,511.14 L481.51,511.83 L483.00,512.51 L484.50,513.18 L485.99,513.84 L487.48,514.49 L488.97,515.13 L490.46,515.75 L491.96,516.37 L493.45,516.97 L494.94,517.56 L496.43,518.13 L497.92,518.69 L499.42,519.24 L500.91,519.77 L502.40,520.28 L503.89,520.78 L505.38,521.26 L506.88,521.73 L508.37,522.18 L509.86,522.61 L511.35,523.03 L512.85,523.43 L514.34,523.81 L515.83,524.18 L517.32,524.53 L518.81,524.87 L520.31,525.18 L521.80,525.48 L523.29,525.77 L524.78,526.03 L526.27,526.28 L527.77,526.51 L529.26,526.73 L530.75,526.92 L532.24,527.10 L533.74,527.26 L535.23,527.40 L536.72,527.52 L538.21,527.63 L539.70,527.72 L541.20,527.79 L542.69,527.84 L544.18,527.87 L545.67,527.88 L547.16,527.87 L548.66,527.85 L550.15,527.80 L551.64,527.74 L553.13,527.66 L554.63,527.55 L556.12,527.43 L557.61,527.29 L559.10,527.13 L560.59,526.95 L562.09,526.75 L563.58,526.52 L565.07,526.28 L566.56,526.02 L568.06,525.74 L569.55,525.43 L571.04,525.11 L572.53,524.77 L574.02,524.40 L575.52,524.02 L577.01,523.61 L578.50,523.18" fill="none" stroke="#8FB032" stroke-width="1.30" stroke-linejoin="round"/>
<path d="M369.60,494.77 L371.09,494.78 L372.58,494.82 L374.08,494.88 L375.57,494.96 L377.06,495.06 L378.55,495.19 L380.05,495.34 L381.54,495.51 L383.03,495.70 L384.52,495.92 L386.01,496.15 L387.51,496.41 L389.00,496.68 L390.49,496.97 L391.98,497.29 L393.47,497.62 L394.97,497.97 L396.46,498.33 L397.95,498.72 L399.44,499.12 L400.94,499.54 L402.43,499.97 L403.92,500.42 L405.41,500.89 L406.90,501.37 L408.40,501.86 L409.89,502.37 L411.38,502.89 L412.87,503.43 L414.36,503.98 L415.86,504.54 L417.35,505.11 L418.84,505.70 L420.33,506.29 L421.83,506.90 L423.32,507.52 L424.81,508.14 L426.30,508.77 L427.79,509.42 L429.29,510.07 L430.78,510.72 L432.27,511.38 L433.76,512.05 L435.25,512.72 L436.75,513.39 L438.24,514.07 L439.73,514.74 L441.22,515.43 L442.72,516.11 L444.21,516.79 L445.70,517.47 L447.19,518.15 L448.68,518.83 L450.18,519.51 L451.67,520.19 L453.16,520.87 L454.65,521.54 L456.14,522.21 L457.64,522.88 L459.13,523.54 L460.62,524.20 L462.11,524.85 L463.61,525.50 L465.10,526.15 L466.59,526.78 L468.08,527.41 L469.57,528.04 L471.07,528.65 L472.56,529.26 L474.05,529.86 L475.54,530.45 L477.03,531.04 L478.53,531.61 L480.02,532.17 L481.51,532.73 L483.00,533.27 L484.50,533.80 L485.99,534.32 L487.48,534.82 L488.97,535.32 L490.46,535.80 L491.96,536.26 L493.45,536.72 L494.94,537.16 L496.43,537.58 L497.92,537.99 L499.42,538.38 L500.91,538.76 L502.40,539.12 L503.89,539.46 L505.38,539.79 L506.88,540.10 L508.37,540.39 L509.86,540.66 L511.35,540.92 L512.85,541.16 L514.34,541.38 L515.83,541.58 L517.32,541.77 L518.81,541.93 L520.31,542.08 L521.80,542.21 L523.29,542.32 L524.78,542.41 L526.27,542.48 L527.77,542.53 L529.26,542.56 L530.75,542.57 L532.24,542.56 L533.74,542.53 L535.23,542.48 L536.72,542.41 L538.21,542.32 L539.70,542.20 L541.20,542.07 L542.69,541.91 L544.18,541.74 L545.67,541.54 L547.16,541.31 L548.66,541.07 L550.15,540.81 L551.64,540.52 L553.13,540.21 L554.63,539.87 L556.12,539.51 L557.61,539.13 L559.10,538.73 L560.59,538.30 L562.09,537.85 L563.58,537.37 L565.07,536.87 L566.56,536.35 L568.06,535.80 L569.55,535.23 L571.04,534.63 L572.53,534.01 L574.02,533.36 L575.52,532.68 L577.01,531.98 L578.50,531.26" fill="none" stroke="#5D9EC7" stroke-width="1.30" stroke-dasharray="4.5 4.5" stroke-linejoin="round"/>
<path d="M369.60,531.90 L371.09,531.90 L372.58,531.92 L374.08,531.97 L375.57,532.03 L377.06,532.11 L378.55,532.21 L380.05,532.33 L381.54,532.47 L383.03,532.63 L384.52,532.80 L386.01,532.99 L387.51,533.20 L389.00,533.43 L390.49,533.67 L391.98,533.92 L393.47,534.19 L394.97,534.48 L396.46,534.78 L397.95,535.09 L399.44,535.42 L400.94,535.76 L402.43,536.11 L403.92,536.48 L405.41,536.85 L406.90,537.24 L408.40,537.64 L409.89,538.04 L411.38,538.46 L412.87,538.89 L414.36,539.32 L415.86,539.77 L417.35,540.22 L418.84,540.68 L420.33,541.15 L421.83,541.62 L423.32,542.10 L424.81,542.58 L426.30,543.08 L427.79,543.57 L429.29,544.07 L430.78,544.58 L432.27,545.08 L433.76,545.60 L435.25,546.11 L436.75,546.63 L438.24,547.14 L439.73,547.66 L441.22,548.18 L442.72,548.70 L444.21,549.22 L445.70,549.75 L447.19,550.27 L448.68,550.78 L450.18,551.30 L451.67,551.82 L453.16,552.33 L454.65,552.84 L456.14,553.34 L457.64,553.85 L459.13,554.34 L460.62,554.84 L462.11,555.32 L463.61,555.81 L465.10,556.28 L466.59,556.75 L468.08,557.22 L469.57,557.67 L471.07,558.12 L472.56,558.56 L474.05,558.99 L475.54,559.41 L477.03,559.82 L478.53,560.22 L480.02,560.62 L481.51,561.00 L483.00,561.37 L484.50,561.72 L485.99,562.07 L487.48,562.40 L488.97,562.72 L490.46,563.03 L491.96,563.32 L493.45,563.60 L494.94,563.86 L496.43,564.11 L497.92,564.34 L499.42,564.56 L500.91,564.76 L502.40,564.94 L503.89,565.10 L505.38,565.25 L506.88,565.38 L508.37,565.49 L509.86,565.58 L511.35,565.65 L512.85,565.70 L514.34,565.73 L515.83,565.74 L517.32,565.73 L518.81,565.69 L520.31,565.64 L521.80,565.56 L523.29,565.45 L524.78,565.33 L526.27,565.18 L527.77,565.00 L529.26,564.80 L530.75,564.58 L532.24,564.33 L533.74,564.05 L535.23,563.75 L536.72,563.42 L538.21,563.06 L539.70,562.67 L541.20,562.26 L542.69,561.81 L544.18,561.34 L545.67,560.84 L547.16,560.30 L548.66,559.74 L550.15,559.15 L551.64,558.52 L553.13,557.86 L554.63,557.17 L556.12,556.45 L557.61,555.69 L559.10,554.90 L560.59,554.07 L562.09,553.21 L563.58,552.32 L565.07,551.39 L566.56,550.42 L568.06,549.42 L569.55,548.38 L571.04,547.31 L572.53,546.19 L574.02,545.04 L575.52,543.85 L577.01,542.62 L578.50,541.35" fill="none" stroke="#EB6235" stroke-width="1.30" stroke-linejoin="round"/>
<text x="443.50" y="520.90" font-size="8.40" text-anchor="middle" fill="#111"><tspan font-style="italic">π</tspan></text>
<line x1="439.90" y1="523.00" x2="445.90" y2="523.00" stroke="#222" stroke-width="0.9"/>
<text x="443.20" y="532.60" font-size="8.70" text-anchor="middle" fill="#111"><tspan>6</tspan></text>
<text x="517.70" y="520.90" font-size="8.40" text-anchor="middle" fill="#111"><tspan font-style="italic">π</tspan></text>
<line x1="514.10" y1="523.00" x2="520.10" y2="523.00" stroke="#222" stroke-width="0.9"/>
<text x="517.40" y="532.60" font-size="8.70" text-anchor="middle" fill="#111"><tspan>3</tspan></text>
<text x="475.60" y="417.10" font-size="8.75" text-anchor="middle" fill="#111"><tspan font-style="italic">v</tspan><tspan>=3/4,&#160; </tspan><tspan font-style="italic">ξ</tspan><tspan>=0,&#160; </tspan><tspan font-style="italic">β</tspan><tspan>=1</tspan></text>
<g transform="translate(356.50,429.40)" fill="#1a1a1a">
<line x1="0.2" y1="0" x2="5.0" y2="0" stroke="#444" stroke-width="0.9"/>
<polyline points="8.3,-4.5 6.0,0 8.3,4.5" fill="none" stroke="#111" stroke-width="1.1"/>
<polyline points="19.3,-4.5 21.6,0 19.3,4.5" fill="none" stroke="#111" stroke-width="1.1"/>
<text fill="#111" x="9.4" y="2.1" font-size="7.8" font-style="italic">T</text>
<polyline points="10.6,-4.7 11.8,-6.5 13.0,-4.7" fill="none" stroke="#111" stroke-width="1.0"/>
<text x="16.4" y="-4.7" font-size="5.6" font-style="italic">τ</text>
<text x="15.2" y="4.8" font-size="5.6" font-style="italic">τ</text>
<text x="22.8" y="-2.9" font-size="6" font-style="italic">ζ</text>
<text x="22.5" y="4.3" font-size="6" font-style="italic">β</text>
</g>
<rect x="597.60" y="448.60" width="86.70" height="85.40" fill="none" stroke="#111" stroke-width="1.3"/>
<line x1="604.60" y1="460.10" x2="631.20" y2="460.10" stroke="#5D9EC7" stroke-width="1.3" stroke-dasharray="2.3 2.1"/>
<text x="635.80" y="463.10" font-size="8.40" text-anchor="start" fill="#111"><tspan font-style="italic">ζ</tspan><tspan>=</tspan><tspan>0</tspan></text>
<line x1="604.60" y1="475.43" x2="631.20" y2="475.43" stroke="#5E81B5" stroke-width="1.3"/>
<text x="635.80" y="478.43" font-size="8.40" text-anchor="start" fill="#111"><tspan font-style="italic">ζ</tspan><tspan>=</tspan><tspan>2</tspan><tspan font-style="italic">π</tspan><tspan dx="0.7">/5</tspan></text>
<line x1="604.60" y1="490.76" x2="631.20" y2="490.76" stroke="#8FB032" stroke-width="1.3"/>
<text x="635.80" y="493.76" font-size="8.40" text-anchor="start" fill="#111"><tspan font-style="italic">ζ</tspan><tspan>=</tspan><tspan>48</tspan><tspan font-style="italic">π</tspan><tspan dx="0.7">/100</tspan></text>
<line x1="604.60" y1="506.09" x2="631.20" y2="506.09" stroke="#5D9EC7" stroke-width="1.3" stroke-dasharray="4.5 4.5"/>
<text x="635.80" y="509.09" font-size="8.40" text-anchor="start" fill="#111"><tspan font-style="italic">ζ</tspan><tspan>=</tspan><tspan font-style="italic">π</tspan><tspan dx="0.7">/2</tspan></text>
<line x1="604.60" y1="521.42" x2="631.20" y2="521.42" stroke="#EB6235" stroke-width="1.3"/>
<text x="635.80" y="524.42" font-size="8.40" text-anchor="start" fill="#111"><tspan font-style="italic">ζ</tspan><tspan>=</tspan><tspan>51</tspan><tspan font-style="italic">π</tspan><tspan dx="0.7">/100</tspan></text>
<line x1="17.40" y1="631.60" x2="17.40" y2="762.20" stroke="#1a1a1a" stroke-width="1.00"/>
<line x1="17.40" y1="640.40" x2="230.10" y2="640.40" stroke="#1a1a1a" stroke-width="1.10"/>
<line x1="17.90" y1="764.95" x2="19.30" y2="764.95" stroke="#222" stroke-width="0.95"/>
<line x1="17.90" y1="756.37" x2="19.30" y2="756.37" stroke="#222" stroke-width="0.95"/>
<line x1="17.90" y1="752.07" x2="19.30" y2="752.07" stroke="#222" stroke-width="0.95"/>
<line x1="17.90" y1="747.77" x2="19.30" y2="747.77" stroke="#222" stroke-width="0.95"/>
<line x1="17.90" y1="739.18" x2="19.30" y2="739.18" stroke="#222" stroke-width="0.95"/>
<line x1="17.90" y1="734.89" x2="19.30" y2="734.89" stroke="#222" stroke-width="0.95"/>
<line x1="17.90" y1="730.60" x2="19.30" y2="730.60" stroke="#222" stroke-width="0.95"/>
<line x1="17.90" y1="722.00" x2="19.30" y2="722.00" stroke="#222" stroke-width="0.95"/>
<line x1="17.90" y1="717.71" x2="19.30" y2="717.71" stroke="#222" stroke-width="0.95"/>
<line x1="17.90" y1="713.41" x2="19.30" y2="713.41" stroke="#222" stroke-width="0.95"/>
<line x1="17.90" y1="704.83" x2="19.30" y2="704.83" stroke="#222" stroke-width="0.95"/>
<line x1="17.90" y1="700.53" x2="19.30" y2="700.53" stroke="#222" stroke-width="0.95"/>
<line x1="17.90" y1="696.24" x2="19.30" y2="696.24" stroke="#222" stroke-width="0.95"/>
<line x1="17.90" y1="687.64" x2="19.30" y2="687.64" stroke="#222" stroke-width="0.95"/>
<line x1="17.90" y1="683.35" x2="19.30" y2="683.35" stroke="#222" stroke-width="0.95"/>
<line x1="17.90" y1="679.05" x2="19.30" y2="679.05" stroke="#222" stroke-width="0.95"/>
<line x1="17.90" y1="670.47" x2="19.30" y2="670.47" stroke="#222" stroke-width="0.95"/>
<line x1="17.90" y1="666.17" x2="19.30" y2="666.17" stroke="#222" stroke-width="0.95"/>
<line x1="17.90" y1="661.88" x2="19.30" y2="661.88" stroke="#222" stroke-width="0.95"/>
<line x1="17.90" y1="653.28" x2="19.30" y2="653.28" stroke="#222" stroke-width="0.95"/>
<line x1="17.90" y1="648.99" x2="19.30" y2="648.99" stroke="#222" stroke-width="0.95"/>
<line x1="17.90" y1="644.69" x2="19.30" y2="644.69" stroke="#222" stroke-width="0.95"/>
<line x1="17.90" y1="636.11" x2="19.30" y2="636.11" stroke="#222" stroke-width="0.95"/>
<line x1="17.90" y1="631.81" x2="19.30" y2="631.81" stroke="#222" stroke-width="0.95"/>
<line x1="17.90" y1="640.40" x2="20.40" y2="640.40" stroke="#222" stroke-width="0.95"/>
<text x="15.40" y="643.70" font-size="8.00" text-anchor="end" fill="#111"><tspan>0.0</tspan></text>
<line x1="17.90" y1="657.58" x2="20.40" y2="657.58" stroke="#222" stroke-width="0.95"/>
<text x="15.40" y="660.88" font-size="8.00" text-anchor="end" fill="#111"><tspan>−0.2</tspan></text>
<line x1="17.90" y1="674.76" x2="20.40" y2="674.76" stroke="#222" stroke-width="0.95"/>
<text x="15.40" y="678.06" font-size="8.00" text-anchor="end" fill="#111"><tspan>−0.4</tspan></text>
<line x1="17.90" y1="691.94" x2="20.40" y2="691.94" stroke="#222" stroke-width="0.95"/>
<text x="15.40" y="695.24" font-size="8.00" text-anchor="end" fill="#111"><tspan>−0.6</tspan></text>
<line x1="17.90" y1="709.12" x2="20.40" y2="709.12" stroke="#222" stroke-width="0.95"/>
<text x="15.40" y="712.42" font-size="8.00" text-anchor="end" fill="#111"><tspan>−0.8</tspan></text>
<line x1="17.90" y1="726.30" x2="20.40" y2="726.30" stroke="#222" stroke-width="0.95"/>
<text x="15.40" y="729.60" font-size="8.00" text-anchor="end" fill="#111"><tspan>−1.0</tspan></text>
<line x1="17.90" y1="743.48" x2="20.40" y2="743.48" stroke="#222" stroke-width="0.95"/>
<text x="15.40" y="746.78" font-size="8.00" text-anchor="end" fill="#111"><tspan>−1.2</tspan></text>
<line x1="17.90" y1="760.66" x2="20.40" y2="760.66" stroke="#222" stroke-width="0.95"/>
<text x="15.40" y="763.96" font-size="8.00" text-anchor="end" fill="#111"><tspan>−1.4</tspan></text>
<line x1="91.10" y1="639.85" x2="91.10" y2="637.65" stroke="#333" stroke-width="0.9"/>
<line x1="165.20" y1="639.85" x2="165.20" y2="637.65" stroke="#333" stroke-width="0.9"/>
<text x="235.80" y="644.20" font-size="9.40" text-anchor="start" fill="#111"><tspan font-style="italic">ρ</tspan></text>
<path d="M17.40,646.10 L18.90,646.10 L20.40,646.10 L21.89,646.09 L23.39,646.08 L24.89,646.07 L26.39,646.06 L27.88,646.05 L29.38,646.03 L30.88,646.01 L32.38,645.99 L33.88,645.96 L35.37,645.94 L36.87,645.91 L38.37,645.88 L39.87,645.85 L41.37,645.82 L42.86,645.78 L44.36,645.74 L45.86,645.71 L47.36,645.66 L48.85,645.62 L50.35,645.58 L51.85,645.53 L53.35,645.48 L54.85,645.43 L56.34,645.38 L57.84,645.33 L59.34,645.28 L60.84,645.22 L62.34,645.16 L63.83,645.10 L65.33,645.04 L66.83,644.98 L68.33,644.92 L69.82,644.86 L71.32,644.79 L72.82,644.72 L74.32,644.66 L75.82,644.59 L77.31,644.52 L78.81,644.45 L80.31,644.37 L81.81,644.30 L83.31,644.23 L84.80,644.15 L86.30,644.07 L87.80,644.00 L89.30,643.92 L90.79,643.84 L92.29,643.76 L93.79,643.68 L95.29,643.60 L96.79,643.52 L98.28,643.43 L99.78,643.35 L101.28,643.27 L102.78,643.18 L104.27,643.10 L105.77,643.01 L107.27,642.92 L108.77,642.84 L110.27,642.75 L111.76,642.66 L113.26,642.57 L114.76,642.49 L116.26,642.40 L117.76,642.31 L119.25,642.22 L120.75,642.13 L122.25,642.04 L123.75,641.95 L125.24,641.86 L126.74,641.77 L128.24,641.68 L129.74,641.60 L131.24,641.51 L132.73,641.42 L134.23,641.33 L135.73,641.24 L137.23,641.15 L138.73,641.06 L140.22,640.97 L141.72,640.88 L143.22,640.80 L144.72,640.71 L146.21,640.62 L147.71,640.53 L149.21,640.45 L150.71,640.36 L152.21,640.28 L153.70,640.19 L155.20,640.11 L156.70,640.02 L158.20,639.94 L159.69,639.86 L161.19,639.78 L162.69,639.70 L164.19,639.62 L165.69,639.54 L167.18,639.46 L168.68,639.38 L170.18,639.30 L171.68,639.23 L173.18,639.15 L174.67,639.08 L176.17,639.01 L177.67,638.93 L179.17,638.86 L180.66,638.79 L182.16,638.73 L183.66,638.66 L185.16,638.59 L186.66,638.53 L188.15,638.46 L189.65,638.40 L191.15,638.34 L192.65,638.28 L194.15,638.22 L195.64,638.17 L197.14,638.11 L198.64,638.06 L200.14,638.01 L201.63,637.96 L203.13,637.91 L204.63,637.86 L206.13,637.82 L207.63,637.77 L209.12,637.73 L210.62,637.69 L212.12,637.65 L213.62,637.62 L215.12,637.58 L216.61,637.55 L218.11,637.52 L219.61,637.49 L221.11,637.47 L222.60,637.44 L224.10,637.42 L225.60,637.40" fill="none" stroke="#5D9EC7" stroke-width="1.30" stroke-dasharray="2.3 2.1" stroke-linejoin="round"/>
<path d="M17.40,657.99 L18.90,657.99 L20.40,657.98 L21.89,657.98 L23.39,657.96 L24.89,657.95 L26.39,657.93 L27.88,657.91 L29.38,657.88 L30.88,657.85 L32.38,657.82 L33.88,657.78 L35.37,657.74 L36.87,657.70 L38.37,657.65 L39.87,657.60 L41.37,657.55 L42.86,657.50 L44.36,657.44 L45.86,657.38 L47.36,657.32 L48.85,657.25 L50.35,657.18 L51.85,657.11 L53.35,657.03 L54.85,656.95 L56.34,656.87 L57.84,656.79 L59.34,656.71 L60.84,656.62 L62.34,656.53 L63.83,656.43 L65.33,656.34 L66.83,656.24 L68.33,656.14 L69.82,656.04 L71.32,655.93 L72.82,655.83 L74.32,655.72 L75.82,655.60 L77.31,655.49 L78.81,655.38 L80.31,655.26 L81.81,655.14 L83.31,655.02 L84.80,654.89 L86.30,654.77 L87.80,654.64 L89.30,654.51 L90.79,654.38 L92.29,654.25 L93.79,654.12 L95.29,653.98 L96.79,653.84 L98.28,653.70 L99.78,653.56 L101.28,653.42 L102.78,653.28 L104.27,653.13 L105.77,652.99 L107.27,652.84 L108.77,652.69 L110.27,652.54 L111.76,652.39 L113.26,652.24 L114.76,652.09 L116.26,651.93 L117.76,651.78 L119.25,651.62 L120.75,651.47 L122.25,651.31 L123.75,651.15 L125.24,650.99 L126.74,650.83 L128.24,650.67 L129.74,650.51 L131.24,650.34 L132.73,650.18 L134.23,650.02 L135.73,649.85 L137.23,649.69 L138.73,649.52 L140.22,649.36 L141.72,649.19 L143.22,649.03 L144.72,648.86 L146.21,648.69 L147.71,648.53 L149.21,648.36 L150.71,648.19 L152.21,648.02 L153.70,647.86 L155.20,647.69 L156.70,647.52 L158.20,647.36 L159.69,647.19 L161.19,647.02 L162.69,646.86 L164.19,646.69 L165.69,646.52 L167.18,646.36 L168.68,646.19 L170.18,646.03 L171.68,645.86 L173.18,645.70 L174.67,645.53 L176.17,645.37 L177.67,645.21 L179.17,645.05 L180.66,644.89 L182.16,644.73 L183.66,644.57 L185.16,644.41 L186.66,644.25 L188.15,644.09 L189.65,643.94 L191.15,643.78 L192.65,643.63 L194.15,643.47 L195.64,643.32 L197.14,643.17 L198.64,643.02 L200.14,642.87 L201.63,642.72 L203.13,642.58 L204.63,642.43 L206.13,642.29 L207.63,642.15 L209.12,642.01 L210.62,641.87 L212.12,641.73 L213.62,641.60 L215.12,641.46 L216.61,641.33 L218.11,641.20 L219.61,641.07 L221.11,640.94 L222.60,640.82 L224.10,640.69 L225.60,640.57" fill="none" stroke="#5E81B5" stroke-width="1.30" stroke-linejoin="round"/>
<path d="M17.40,664.29 L18.90,664.29 L20.40,664.28 L21.89,664.27 L23.39,664.26 L24.89,664.24 L26.39,664.22 L27.88,664.20 L29.38,664.17 L30.88,664.14 L32.38,664.10 L33.88,664.06 L35.37,664.02 L36.87,663.97 L38.37,663.92 L39.87,663.87 L41.37,663.81 L42.86,663.75 L44.36,663.69 L45.86,663.62 L47.36,663.55 L48.85,663.47 L50.35,663.40 L51.85,663.32 L53.35,663.23 L54.85,663.15 L56.34,663.06 L57.84,662.96 L59.34,662.87 L60.84,662.77 L62.34,662.67 L63.83,662.56 L65.33,662.46 L66.83,662.35 L68.33,662.23 L69.82,662.12 L71.32,662.00 L72.82,661.88 L74.32,661.75 L75.82,661.63 L77.31,661.50 L78.81,661.36 L80.31,661.23 L81.81,661.09 L83.31,660.95 L84.80,660.81 L86.30,660.67 L87.80,660.52 L89.30,660.37 L90.79,660.22 L92.29,660.07 L93.79,659.91 L95.29,659.75 L96.79,659.59 L98.28,659.43 L99.78,659.26 L101.28,659.10 L102.78,658.93 L104.27,658.76 L105.77,658.59 L107.27,658.41 L108.77,658.24 L110.27,658.06 L111.76,657.88 L113.26,657.70 L114.76,657.51 L116.26,657.33 L117.76,657.14 L119.25,656.95 L120.75,656.76 L122.25,656.57 L123.75,656.38 L125.24,656.18 L126.74,655.98 L128.24,655.79 L129.74,655.59 L131.24,655.39 L132.73,655.19 L134.23,654.98 L135.73,654.78 L137.23,654.57 L138.73,654.37 L140.22,654.16 L141.72,653.95 L143.22,653.74 L144.72,653.53 L146.21,653.31 L147.71,653.10 L149.21,652.89 L150.71,652.67 L152.21,652.46 L153.70,652.24 L155.20,652.02 L156.70,651.80 L158.20,651.58 L159.69,651.36 L161.19,651.14 L162.69,650.92 L164.19,650.70 L165.69,650.48 L167.18,650.25 L168.68,650.03 L170.18,649.81 L171.68,649.58 L173.18,649.36 L174.67,649.13 L176.17,648.91 L177.67,648.68 L179.17,648.46 L180.66,648.23 L182.16,648.00 L183.66,647.78 L185.16,647.55 L186.66,647.32 L188.15,647.10 L189.65,646.87 L191.15,646.64 L192.65,646.42 L194.15,646.19 L195.64,645.96 L197.14,645.74 L198.64,645.51 L200.14,645.28 L201.63,645.06 L203.13,644.83 L204.63,644.61 L206.13,644.38 L207.63,644.16 L209.12,643.93 L210.62,643.71 L212.12,643.49 L213.62,643.27 L215.12,643.04 L216.61,642.82 L218.11,642.60 L219.61,642.38 L221.11,642.16 L222.60,641.95 L224.10,641.73 L225.60,641.51" fill="none" stroke="#8FB032" stroke-width="1.30" stroke-linejoin="round"/>
<path d="M17.40,679.24 L18.90,679.23 L20.40,679.22 L21.89,679.20 L23.39,679.17 L24.89,679.14 L26.39,679.11 L27.88,679.06 L29.38,679.02 L30.88,678.96 L32.38,678.91 L33.88,678.84 L35.37,678.77 L36.87,678.70 L38.37,678.62 L39.87,678.53 L41.37,678.44 L42.86,678.34 L44.36,678.24 L45.86,678.13 L47.36,678.02 L48.85,677.91 L50.35,677.78 L51.85,677.66 L53.35,677.53 L54.85,677.39 L56.34,677.25 L57.84,677.10 L59.34,676.95 L60.84,676.80 L62.34,676.64 L63.83,676.47 L65.33,676.30 L66.83,676.13 L68.33,675.95 L69.82,675.77 L71.32,675.58 L72.82,675.39 L74.32,675.20 L75.82,675.00 L77.31,674.79 L78.81,674.59 L80.31,674.38 L81.81,674.16 L83.31,673.94 L84.80,673.72 L86.30,673.49 L87.80,673.26 L89.30,673.03 L90.79,672.79 L92.29,672.55 L93.79,672.30 L95.29,672.05 L96.79,671.80 L98.28,671.55 L99.78,671.29 L101.28,671.03 L102.78,670.76 L104.27,670.49 L105.77,670.22 L107.27,669.94 L108.77,669.67 L110.27,669.39 L111.76,669.10 L113.26,668.81 L114.76,668.53 L116.26,668.23 L117.76,667.94 L119.25,667.64 L120.75,667.34 L122.25,667.04 L123.75,666.73 L125.24,666.42 L126.74,666.11 L128.24,665.80 L129.74,665.48 L131.24,665.16 L132.73,664.84 L134.23,664.52 L135.73,664.20 L137.23,663.87 L138.73,663.54 L140.22,663.21 L141.72,662.88 L143.22,662.54 L144.72,662.20 L146.21,661.87 L147.71,661.53 L149.21,661.18 L150.71,660.84 L152.21,660.49 L153.70,660.15 L155.20,659.80 L156.70,659.45 L158.20,659.10 L159.69,658.75 L161.19,658.39 L162.69,658.04 L164.19,657.68 L165.69,657.32 L167.18,656.96 L168.68,656.60 L170.18,656.24 L171.68,655.88 L173.18,655.52 L174.67,655.15 L176.17,654.79 L177.67,654.42 L179.17,654.06 L180.66,653.69 L182.16,653.32 L183.66,652.95 L185.16,652.58 L186.66,652.21 L188.15,651.84 L189.65,651.47 L191.15,651.10 L192.65,650.73 L194.15,650.36 L195.64,649.99 L197.14,649.62 L198.64,649.25 L200.14,648.88 L201.63,648.50 L203.13,648.13 L204.63,647.76 L206.13,647.39 L207.63,647.02 L209.12,646.65 L210.62,646.28 L212.12,645.91 L213.62,645.54 L215.12,645.17 L216.61,644.80 L218.11,644.43 L219.61,644.06 L221.11,643.70 L222.60,643.33 L224.10,642.96 L225.60,642.60" fill="none" stroke="#5D9EC7" stroke-width="1.30" stroke-dasharray="4.5 4.5" stroke-linejoin="round"/>
<path d="M17.40,684.61 L18.90,684.61 L20.40,684.60 L21.89,684.58 L23.39,684.56 L24.89,684.53 L26.39,684.49 L27.88,684.45 L29.38,684.40 L30.88,684.34 L32.38,684.28 L33.88,684.21 L35.37,684.14 L36.87,684.06 L38.37,683.97 L39.87,683.88 L41.37,683.78 L42.86,683.67 L44.36,683.56 L45.86,683.45 L47.36,683.33 L48.85,683.20 L50.35,683.06 L51.85,682.93 L53.35,682.78 L54.85,682.63 L56.34,682.47 L57.84,682.31 L59.34,682.15 L60.84,681.97 L62.34,681.80 L63.83,681.61 L65.33,681.43 L66.83,681.23 L68.33,681.03 L69.82,680.83 L71.32,680.62 L72.82,680.41 L74.32,680.19 L75.82,679.97 L77.31,679.74 L78.81,679.50 L80.31,679.27 L81.81,679.02 L83.31,678.78 L84.80,678.52 L86.30,678.27 L87.80,678.01 L89.30,677.74 L90.79,677.47 L92.29,677.19 L93.79,676.92 L95.29,676.63 L96.79,676.34 L98.28,676.05 L99.78,675.76 L101.28,675.46 L102.78,675.15 L104.27,674.84 L105.77,674.53 L107.27,674.21 L108.77,673.89 L110.27,673.57 L111.76,673.24 L113.26,672.91 L114.76,672.58 L116.26,672.24 L117.76,671.89 L119.25,671.55 L120.75,671.20 L122.25,670.84 L123.75,670.49 L125.24,670.13 L126.74,669.76 L128.24,669.40 L129.74,669.03 L131.24,668.65 L132.73,668.28 L134.23,667.90 L135.73,667.51 L137.23,667.13 L138.73,666.74 L140.22,666.35 L141.72,665.96 L143.22,665.56 L144.72,665.16 L146.21,664.76 L147.71,664.36 L149.21,663.95 L150.71,663.55 L152.21,663.14 L153.70,662.73 L155.20,662.32 L156.70,661.91 L158.20,661.49 L159.69,661.08 L161.19,660.67 L162.69,660.25 L164.19,659.83 L165.69,659.42 L167.18,659.00 L168.68,658.59 L170.18,658.17 L171.68,657.75 L173.18,657.34 L174.67,656.92 L176.17,656.51 L177.67,656.09 L179.17,655.68 L180.66,655.27 L182.16,654.85 L183.66,654.44 L185.16,654.04 L186.66,653.63 L188.15,653.22 L189.65,652.82 L191.15,652.42 L192.65,652.02 L194.15,651.62 L195.64,651.23 L197.14,650.83 L198.64,650.44 L200.14,650.06 L201.63,649.67 L203.13,649.29 L204.63,648.92 L206.13,648.54 L207.63,648.17 L209.12,647.80 L210.62,647.44 L212.12,647.08 L213.62,646.72 L215.12,646.37 L216.61,646.03 L218.11,645.68 L219.61,645.34 L221.11,645.01 L222.60,644.68 L224.10,644.36 L225.60,644.04" fill="none" stroke="#EB6235" stroke-width="1.30" stroke-linejoin="round"/>
<path d="M17.40,692.42 L18.90,692.42 L20.40,692.40 L21.89,692.38 L23.39,692.34 L24.89,692.31 L26.39,692.26 L27.88,692.20 L29.38,692.14 L30.88,692.07 L32.38,691.99 L33.88,691.90 L35.37,691.81 L36.87,691.71 L38.37,691.60 L39.87,691.49 L41.37,691.36 L42.86,691.23 L44.36,691.10 L45.86,690.95 L47.36,690.80 L48.85,690.64 L50.35,690.48 L51.85,690.31 L53.35,690.13 L54.85,689.94 L56.34,689.75 L57.84,689.55 L59.34,689.35 L60.84,689.14 L62.34,688.92 L63.83,688.70 L65.33,688.47 L66.83,688.24 L68.33,688.00 L69.82,687.75 L71.32,687.50 L72.82,687.24 L74.32,686.98 L75.82,686.71 L77.31,686.43 L78.81,686.15 L80.31,685.87 L81.81,685.58 L83.31,685.28 L84.80,684.98 L86.30,684.68 L87.80,684.37 L89.30,684.05 L90.79,683.73 L92.29,683.40 L93.79,683.07 L95.29,682.74 L96.79,682.40 L98.28,682.05 L99.78,681.71 L101.28,681.35 L102.78,681.00 L104.27,680.64 L105.77,680.27 L107.27,679.90 L108.77,679.53 L110.27,679.15 L111.76,678.77 L113.26,678.38 L114.76,678.00 L116.26,677.60 L117.76,677.21 L119.25,676.81 L120.75,676.41 L122.25,676.00 L123.75,675.59 L125.24,675.18 L126.74,674.76 L128.24,674.34 L129.74,673.92 L131.24,673.50 L132.73,673.07 L134.23,672.64 L135.73,672.21 L137.23,671.77 L138.73,671.33 L140.22,670.89 L141.72,670.45 L143.22,670.01 L144.72,669.56 L146.21,669.11 L147.71,668.66 L149.21,668.20 L150.71,667.75 L152.21,667.29 L153.70,666.83 L155.20,666.37 L156.70,665.91 L158.20,665.44 L159.69,664.98 L161.19,664.51 L162.69,664.04 L164.19,663.57 L165.69,663.10 L167.18,662.63 L168.68,662.15 L170.18,661.68 L171.68,661.20 L173.18,660.73 L174.67,660.25 L176.17,659.77 L177.67,659.29 L179.17,658.81 L180.66,658.33 L182.16,657.85 L183.66,657.37 L185.16,656.89 L186.66,656.41 L188.15,655.93 L189.65,655.44 L191.15,654.96 L192.65,654.48 L194.15,654.00 L195.64,653.52 L197.14,653.04 L198.64,652.56 L200.14,652.07 L201.63,651.59 L203.13,651.12 L204.63,650.64 L206.13,650.16 L207.63,649.68 L209.12,649.20 L210.62,648.73 L212.12,648.25 L213.62,647.78 L215.12,647.31 L216.61,646.84 L218.11,646.37 L219.61,645.90 L221.11,645.43 L222.60,644.96 L224.10,644.50 L225.60,644.04" fill="none" stroke="#8778B3" stroke-width="1.30" stroke-linejoin="round"/>
<path d="M17.40,755.86 L18.90,755.85 L20.40,755.83 L21.90,755.78 L23.39,755.71 L24.89,755.63 L26.39,755.53 L27.89,755.40 L29.39,755.26 L30.89,755.10 L32.39,754.93 L33.88,754.73 L35.38,754.52 L36.88,754.29 L38.38,754.04 L39.88,753.78 L41.38,753.50 L42.88,753.20 L44.37,752.88 L45.87,752.55 L47.37,752.20 L48.87,751.84 L50.37,751.46 L51.87,751.06 L53.37,750.65 L54.86,750.22 L56.36,749.78 L57.86,749.32 L59.36,748.84 L60.86,748.35 L62.36,747.85 L63.86,747.33 L65.35,746.80 L66.85,746.25 L68.35,745.69 L69.85,745.11 L71.35,744.52 L72.85,743.92 L74.35,743.30 L75.84,742.67 L77.34,742.03 L78.84,741.37 L80.34,740.70 L81.84,740.02 L83.34,739.33 L84.84,738.62 L86.33,737.90 L87.83,737.17 L89.33,736.42 L90.83,735.67 L92.33,734.90 L93.83,734.12 L95.33,733.33 L96.82,732.53 L98.32,731.72 L99.82,730.89 L101.32,730.06 L102.82,729.21 L104.32,728.36 L105.82,727.49 L107.31,726.61 L108.81,725.73 L110.31,724.83 L111.81,723.92 L113.31,723.00 L114.81,722.08 L116.31,721.14 L117.80,720.20 L119.30,719.24 L120.80,718.28 L122.30,717.30 L123.80,716.32 L125.30,715.33 L126.79,714.34 L128.29,713.33 L129.79,712.31 L131.29,711.29 L132.79,710.26 L134.29,709.22 L135.79,708.18 L137.28,707.12 L138.78,706.06 L140.28,705.00 L141.78,703.93 L143.28,702.85 L144.78,701.77 L146.28,700.68 L147.77,699.59 L149.27,698.50 L150.77,697.40 L152.27,696.29 L153.77,695.18 L155.27,694.07 L156.77,692.96 L158.26,691.85 L159.76,690.73 L161.26,689.61 L162.76,688.49 L164.26,687.36 L165.76,686.24 L167.26,685.12 L168.75,683.99 L170.25,682.87 L171.75,681.74 L173.25,680.62 L174.75,679.50 L176.25,678.38 L177.75,677.26 L179.24,676.14 L180.74,675.02 L182.24,673.91 L183.74,672.80 L185.24,671.70 L186.74,670.61 L188.24,669.51 L189.73,668.43 L191.23,667.36 L192.73,666.29 L194.23,665.24 L195.73,664.19 L197.23,663.16 L198.73,662.14 L200.22,661.13 L201.72,660.13 L203.22,659.15 L204.72,658.19 L206.22,657.24 L207.72,656.31 L209.22,655.40 L210.71,654.50 L212.21,653.63 L213.71,652.77 L215.21,651.94 L216.71,651.13 L218.21,650.34 L219.71,649.58 L221.20,648.84 L222.70,648.12 L224.20,647.43 L225.70,646.77" fill="none" stroke="#5D9EC7" stroke-width="1.30" stroke-linejoin="round"/>
<text x="91.40" y="647.90" font-size="8.40" text-anchor="middle" fill="#111"><tspan font-style="italic">π</tspan></text>
<line x1="87.80" y1="650.00" x2="93.80" y2="650.00" stroke="#222" stroke-width="0.9"/>
<text x="91.10" y="659.60" font-size="8.70" text-anchor="middle" fill="#111"><tspan>6</tspan></text>
<text x="165.50" y="647.90" font-size="8.40" text-anchor="middle" fill="#111"><tspan font-style="italic">π</tspan></text>
<line x1="161.90" y1="650.00" x2="167.90" y2="650.00" stroke="#222" stroke-width="0.9"/>
<text x="165.20" y="659.60" font-size="8.70" text-anchor="middle" fill="#111"><tspan>3</tspan></text>
<text x="123.40" y="607.20" font-size="8.75" text-anchor="middle" fill="#111"><tspan font-style="italic">v</tspan><tspan>=1/4, </tspan><tspan font-style="italic">ξ</tspan><tspan>=−1/2, </tspan><tspan font-style="italic">β</tspan><tspan>=1</tspan></text>
<g transform="translate(4.40,620.50)" fill="#1a1a1a">
<line x1="0.2" y1="0" x2="5.0" y2="0" stroke="#444" stroke-width="0.9"/>
<polyline points="8.3,-4.5 6.0,0 8.3,4.5" fill="none" stroke="#111" stroke-width="1.1"/>
<polyline points="19.3,-4.5 21.6,0 19.3,4.5" fill="none" stroke="#111" stroke-width="1.1"/>
<text fill="#111" x="9.4" y="2.1" font-size="7.8" font-style="italic">T</text>
<polyline points="10.6,-4.7 11.8,-6.5 13.0,-4.7" fill="none" stroke="#111" stroke-width="1.0"/>
<text x="16.4" y="-4.7" font-size="5.6" font-style="italic">τ</text>
<text x="15.2" y="4.8" font-size="5.6" font-style="italic">τ</text>
<text x="22.8" y="-2.9" font-size="6" font-style="italic">ζ</text>
<text x="22.5" y="4.3" font-size="6" font-style="italic">β</text>
</g>
<rect x="245.20" y="624.20" width="86.90" height="115.30" fill="none" stroke="#111" stroke-width="1.3"/>
<line x1="252.10" y1="636.20" x2="278.60" y2="636.20" stroke="#5D9EC7" stroke-width="1.3" stroke-dasharray="2.3 2.1"/>
<text x="283.60" y="639.20" font-size="8.40" text-anchor="start" fill="#111"><tspan font-style="italic">ζ</tspan><tspan>=</tspan><tspan>0</tspan></text>
<line x1="252.10" y1="651.50" x2="278.60" y2="651.50" stroke="#5E81B5" stroke-width="1.3"/>
<text x="283.60" y="654.50" font-size="8.40" text-anchor="start" fill="#111"><tspan font-style="italic">ζ</tspan><tspan>=</tspan><tspan>3</tspan><tspan font-style="italic">π</tspan><tspan dx="0.7">/10</tspan></text>
<line x1="252.10" y1="666.80" x2="278.60" y2="666.80" stroke="#8FB032" stroke-width="1.3"/>
<text x="283.60" y="669.80" font-size="8.40" text-anchor="start" fill="#111"><tspan font-style="italic">ζ</tspan><tspan>=</tspan><tspan>4</tspan><tspan font-style="italic">π</tspan><tspan dx="0.7">/10</tspan></text>
<line x1="252.10" y1="682.10" x2="278.60" y2="682.10" stroke="#5D9EC7" stroke-width="1.3" stroke-dasharray="4.5 4.5"/>
<text x="283.60" y="685.10" font-size="8.40" text-anchor="start" fill="#111"><tspan font-style="italic">ζ</tspan><tspan>=</tspan><tspan font-style="italic">π</tspan><tspan dx="0.7">/2</tspan></text>
<line x1="252.10" y1="697.40" x2="278.60" y2="697.40" stroke="#EB6235" stroke-width="1.3"/>
<text x="283.60" y="700.40" font-size="8.40" text-anchor="start" fill="#111"><tspan font-style="italic">ζ</tspan><tspan>=</tspan><tspan>52</tspan><tspan font-style="italic">π</tspan><tspan dx="0.7">/100</tspan></text>
<line x1="252.10" y1="712.70" x2="278.60" y2="712.70" stroke="#8778B3" stroke-width="1.3"/>
<text x="283.60" y="715.70" font-size="8.40" text-anchor="start" fill="#111"><tspan font-style="italic">ζ</tspan><tspan>=</tspan><tspan>54</tspan><tspan font-style="italic">π</tspan><tspan dx="0.7">/100</tspan></text>
<line x1="252.10" y1="728.00" x2="278.60" y2="728.00" stroke="#5D9EC7" stroke-width="1.3"/>
<text x="283.60" y="731.00" font-size="8.40" text-anchor="start" fill="#111"><tspan font-style="italic">ζ</tspan><tspan>=</tspan><tspan>3</tspan><tspan font-style="italic">π</tspan><tspan dx="0.7">/5</tspan></text>
<line x1="369.60" y1="633.30" x2="369.60" y2="763.50" stroke="#1a1a1a" stroke-width="1.00"/>
<line x1="369.60" y1="644.30" x2="582.30" y2="644.30" stroke="#1a1a1a" stroke-width="1.10"/>
<line x1="370.10" y1="756.82" x2="371.50" y2="756.82" stroke="#222" stroke-width="0.95"/>
<line x1="370.10" y1="752.94" x2="371.50" y2="752.94" stroke="#222" stroke-width="0.95"/>
<line x1="370.10" y1="749.06" x2="371.50" y2="749.06" stroke="#222" stroke-width="0.95"/>
<line x1="370.10" y1="745.18" x2="371.50" y2="745.18" stroke="#222" stroke-width="0.95"/>
<line x1="370.10" y1="737.42" x2="371.50" y2="737.42" stroke="#222" stroke-width="0.95"/>
<line x1="370.10" y1="733.54" x2="371.50" y2="733.54" stroke="#222" stroke-width="0.95"/>
<line x1="370.10" y1="729.66" x2="371.50" y2="729.66" stroke="#222" stroke-width="0.95"/>
<line x1="370.10" y1="725.78" x2="371.50" y2="725.78" stroke="#222" stroke-width="0.95"/>
<line x1="370.10" y1="718.02" x2="371.50" y2="718.02" stroke="#222" stroke-width="0.95"/>
<line x1="370.10" y1="714.14" x2="371.50" y2="714.14" stroke="#222" stroke-width="0.95"/>
<line x1="370.10" y1="710.26" x2="371.50" y2="710.26" stroke="#222" stroke-width="0.95"/>
<line x1="370.10" y1="706.38" x2="371.50" y2="706.38" stroke="#222" stroke-width="0.95"/>
<line x1="370.10" y1="698.62" x2="371.50" y2="698.62" stroke="#222" stroke-width="0.95"/>
<line x1="370.10" y1="694.74" x2="371.50" y2="694.74" stroke="#222" stroke-width="0.95"/>
<line x1="370.10" y1="690.86" x2="371.50" y2="690.86" stroke="#222" stroke-width="0.95"/>
<line x1="370.10" y1="686.98" x2="371.50" y2="686.98" stroke="#222" stroke-width="0.95"/>
<line x1="370.10" y1="679.22" x2="371.50" y2="679.22" stroke="#222" stroke-width="0.95"/>
<line x1="370.10" y1="675.34" x2="371.50" y2="675.34" stroke="#222" stroke-width="0.95"/>
<line x1="370.10" y1="671.46" x2="371.50" y2="671.46" stroke="#222" stroke-width="0.95"/>
<line x1="370.10" y1="667.58" x2="371.50" y2="667.58" stroke="#222" stroke-width="0.95"/>
<line x1="370.10" y1="659.82" x2="371.50" y2="659.82" stroke="#222" stroke-width="0.95"/>
<line x1="370.10" y1="655.94" x2="371.50" y2="655.94" stroke="#222" stroke-width="0.95"/>
<line x1="370.10" y1="652.06" x2="371.50" y2="652.06" stroke="#222" stroke-width="0.95"/>
<line x1="370.10" y1="648.18" x2="371.50" y2="648.18" stroke="#222" stroke-width="0.95"/>
<line x1="370.10" y1="640.42" x2="371.50" y2="640.42" stroke="#222" stroke-width="0.95"/>
<line x1="370.10" y1="636.54" x2="371.50" y2="636.54" stroke="#222" stroke-width="0.95"/>
<line x1="370.10" y1="644.30" x2="372.60" y2="644.30" stroke="#222" stroke-width="0.95"/>
<text x="367.40" y="647.20" font-size="8.00" text-anchor="end" fill="#111"><tspan>0.0</tspan></text>
<line x1="370.10" y1="663.70" x2="372.60" y2="663.70" stroke="#222" stroke-width="0.95"/>
<text x="367.40" y="666.60" font-size="8.00" text-anchor="end" fill="#111"><tspan>−0.5</tspan></text>
<line x1="370.10" y1="683.10" x2="372.60" y2="683.10" stroke="#222" stroke-width="0.95"/>
<text x="367.40" y="686.00" font-size="8.00" text-anchor="end" fill="#111"><tspan>−1.0</tspan></text>
<line x1="370.10" y1="702.50" x2="372.60" y2="702.50" stroke="#222" stroke-width="0.95"/>
<text x="367.40" y="705.40" font-size="8.00" text-anchor="end" fill="#111"><tspan>−1.5</tspan></text>
<line x1="370.10" y1="721.90" x2="372.60" y2="721.90" stroke="#222" stroke-width="0.95"/>
<text x="367.40" y="724.80" font-size="8.00" text-anchor="end" fill="#111"><tspan>−2.0</tspan></text>
<line x1="370.10" y1="741.30" x2="372.60" y2="741.30" stroke="#222" stroke-width="0.95"/>
<text x="367.40" y="744.20" font-size="8.00" text-anchor="end" fill="#111"><tspan>−2.5</tspan></text>
<line x1="370.10" y1="760.70" x2="372.60" y2="760.70" stroke="#222" stroke-width="0.95"/>
<text x="367.40" y="763.60" font-size="8.00" text-anchor="end" fill="#111"><tspan>−3.0</tspan></text>
<line x1="443.30" y1="643.75" x2="443.30" y2="641.55" stroke="#333" stroke-width="0.9"/>
<line x1="517.00" y1="643.75" x2="517.00" y2="641.55" stroke="#333" stroke-width="0.9"/>
<text x="588.00" y="648.10" font-size="9.40" text-anchor="start" fill="#111"><tspan font-style="italic">ρ</tspan></text>
<path d="M369.60,640.18 L371.09,640.18 L372.58,640.18 L374.07,640.18 L375.56,640.18 L377.05,640.18 L378.54,640.18 L380.04,640.18 L381.53,640.19 L383.02,640.19 L384.51,640.19 L386.00,640.19 L387.49,640.19 L388.98,640.20 L390.47,640.20 L391.96,640.20 L393.45,640.20 L394.94,640.21 L396.43,640.21 L397.92,640.21 L399.41,640.22 L400.91,640.22 L402.40,640.22 L403.89,640.23 L405.38,640.23 L406.87,640.24 L408.36,640.24 L409.85,640.25 L411.34,640.25 L412.83,640.26 L414.32,640.26 L415.81,640.27 L417.30,640.27 L418.79,640.28 L420.28,640.28 L421.77,640.29 L423.27,640.30 L424.76,640.30 L426.25,640.31 L427.74,640.32 L429.23,640.32 L430.72,640.33 L432.21,640.34 L433.70,640.35 L435.19,640.35 L436.68,640.36 L438.17,640.37 L439.66,640.38 L441.15,640.39 L442.64,640.39 L444.14,640.40 L445.63,640.41 L447.12,640.42 L448.61,640.43 L450.10,640.44 L451.59,640.45 L453.08,640.46 L454.57,640.47 L456.06,640.48 L457.55,640.49 L459.04,640.50 L460.53,640.51 L462.02,640.52 L463.51,640.53 L465.01,640.55 L466.50,640.56 L467.99,640.57 L469.48,640.58 L470.97,640.59 L472.46,640.60 L473.95,640.62 L475.44,640.63 L476.93,640.64 L478.42,640.66 L479.91,640.67 L481.40,640.68 L482.89,640.70 L484.38,640.71 L485.88,640.72 L487.37,640.74 L488.86,640.75 L490.35,640.77 L491.84,640.78 L493.33,640.79 L494.82,640.81 L496.31,640.82 L497.80,640.84 L499.29,640.85 L500.78,640.87 L502.27,640.89 L503.76,640.90 L505.25,640.92 L506.75,640.93 L508.24,640.95 L509.73,640.97 L511.22,640.98 L512.71,641.00 L514.20,641.02 L515.69,641.04 L517.18,641.05 L518.67,641.07 L520.16,641.09 L521.65,641.11 L523.14,641.13 L524.63,641.14 L526.12,641.16 L527.62,641.18 L529.11,641.20 L530.60,641.22 L532.09,641.24 L533.58,641.26 L535.07,641.28 L536.56,641.30 L538.05,641.32 L539.54,641.34 L541.03,641.36 L542.52,641.38 L544.01,641.40 L545.50,641.42 L547.00,641.44 L548.49,641.46 L549.98,641.49 L551.47,641.51 L552.96,641.53 L554.45,641.55 L555.94,641.57 L557.43,641.60 L558.92,641.62 L560.41,641.64 L561.90,641.66 L563.39,641.69 L564.88,641.71 L566.37,641.73 L567.87,641.76 L569.36,641.78 L570.85,641.80 L572.34,641.83 L573.83,641.85 L575.32,641.88 L576.81,641.90 L578.30,641.93" fill="none" stroke="#5D9EC7" stroke-width="1.30" stroke-dasharray="2.3 2.1" stroke-linejoin="round"/>
<path d="M369.60,650.53 L371.09,650.53 L372.58,650.53 L374.07,650.53 L375.56,650.53 L377.05,650.54 L378.54,650.54 L380.04,650.54 L381.53,650.55 L383.02,650.55 L384.51,650.56 L386.00,650.57 L387.49,650.57 L388.98,650.58 L390.47,650.59 L391.96,650.59 L393.45,650.60 L394.94,650.61 L396.43,650.62 L397.92,650.63 L399.41,650.64 L400.91,650.65 L402.40,650.66 L403.89,650.67 L405.38,650.68 L406.87,650.69 L408.36,650.71 L409.85,650.72 L411.34,650.73 L412.83,650.74 L414.32,650.76 L415.81,650.77 L417.30,650.78 L418.79,650.80 L420.28,650.81 L421.77,650.82 L423.27,650.84 L424.76,650.85 L426.25,650.87 L427.74,650.88 L429.23,650.90 L430.72,650.91 L432.21,650.92 L433.70,650.94 L435.19,650.95 L436.68,650.97 L438.17,650.98 L439.66,651.00 L441.15,651.01 L442.64,651.03 L444.14,651.04 L445.63,651.06 L447.12,651.07 L448.61,651.09 L450.10,651.10 L451.59,651.12 L453.08,651.13 L454.57,651.14 L456.06,651.16 L457.55,651.17 L459.04,651.18 L460.53,651.20 L462.02,651.21 L463.51,651.22 L465.01,651.24 L466.50,651.25 L467.99,651.26 L469.48,651.27 L470.97,651.28 L472.46,651.30 L473.95,651.31 L475.44,651.32 L476.93,651.33 L478.42,651.34 L479.91,651.35 L481.40,651.36 L482.89,651.36 L484.38,651.37 L485.88,651.38 L487.37,651.39 L488.86,651.39 L490.35,651.40 L491.84,651.41 L493.33,651.41 L494.82,651.42 L496.31,651.42 L497.80,651.42 L499.29,651.43 L500.78,651.43 L502.27,651.43 L503.76,651.43 L505.25,651.43 L506.75,651.43 L508.24,651.43 L509.73,651.43 L511.22,651.43 L512.71,651.43 L514.20,651.43 L515.69,651.42 L517.18,651.42 L518.67,651.41 L520.16,651.40 L521.65,651.40 L523.14,651.39 L524.63,651.38 L526.12,651.37 L527.62,651.36 L529.11,651.35 L530.60,651.34 L532.09,651.33 L533.58,651.31 L535.07,651.30 L536.56,651.28 L538.05,651.27 L539.54,651.25 L541.03,651.23 L542.52,651.21 L544.01,651.19 L545.50,651.17 L547.00,651.15 L548.49,651.12 L549.98,651.10 L551.47,651.07 L552.96,651.05 L554.45,651.02 L555.94,650.99 L557.43,650.96 L558.92,650.93 L560.41,650.89 L561.90,650.86 L563.39,650.83 L564.88,650.79 L566.37,650.75 L567.87,650.72 L569.36,650.68 L570.85,650.64 L572.34,650.59 L573.83,650.55 L575.32,650.51 L576.81,650.46 L578.30,650.41" fill="none" stroke="#5E81B5" stroke-width="1.30" stroke-linejoin="round"/>
<path d="M369.60,677.19 L371.09,677.19 L372.58,677.19 L374.07,677.18 L375.56,677.18 L377.05,677.18 L378.54,677.17 L380.04,677.17 L381.53,677.16 L383.02,677.15 L384.51,677.14 L386.00,677.14 L387.49,677.13 L388.98,677.11 L390.47,677.10 L391.96,677.09 L393.45,677.07 L394.94,677.06 L396.43,677.04 L397.92,677.02 L399.41,677.00 L400.91,676.98 L402.40,676.96 L403.89,676.94 L405.38,676.91 L406.87,676.89 L408.36,676.86 L409.85,676.83 L411.34,676.80 L412.83,676.77 L414.32,676.74 L415.81,676.70 L417.30,676.67 L418.79,676.63 L420.28,676.59 L421.77,676.55 L423.27,676.51 L424.76,676.46 L426.25,676.42 L427.74,676.37 L429.23,676.32 L430.72,676.27 L432.21,676.21 L433.70,676.16 L435.19,676.10 L436.68,676.04 L438.17,675.98 L439.66,675.92 L441.15,675.85 L442.64,675.79 L444.14,675.72 L445.63,675.65 L447.12,675.58 L448.61,675.50 L450.10,675.42 L451.59,675.34 L453.08,675.26 L454.57,675.18 L456.06,675.09 L457.55,675.01 L459.04,674.92 L460.53,674.82 L462.02,674.73 L463.51,674.63 L465.01,674.53 L466.50,674.43 L467.99,674.32 L469.48,674.22 L470.97,674.11 L472.46,673.99 L473.95,673.88 L475.44,673.76 L476.93,673.64 L478.42,673.52 L479.91,673.39 L481.40,673.26 L482.89,673.13 L484.38,673.00 L485.88,672.86 L487.37,672.72 L488.86,672.58 L490.35,672.44 L491.84,672.29 L493.33,672.14 L494.82,671.98 L496.31,671.83 L497.80,671.67 L499.29,671.51 L500.78,671.34 L502.27,671.17 L503.76,671.00 L505.25,670.82 L506.75,670.65 L508.24,670.46 L509.73,670.28 L511.22,670.09 L512.71,669.90 L514.20,669.71 L515.69,669.51 L517.18,669.31 L518.67,669.10 L520.16,668.90 L521.65,668.68 L523.14,668.47 L524.63,668.25 L526.12,668.03 L527.62,667.80 L529.11,667.58 L530.60,667.34 L532.09,667.11 L533.58,666.87 L535.07,666.62 L536.56,666.38 L538.05,666.13 L539.54,665.87 L541.03,665.61 L542.52,665.35 L544.01,665.09 L545.50,664.82 L547.00,664.54 L548.49,664.27 L549.98,663.98 L551.47,663.70 L552.96,663.41 L554.45,663.12 L555.94,662.82 L557.43,662.52 L558.92,662.21 L560.41,661.90 L561.90,661.59 L563.39,661.27 L564.88,660.95 L566.37,660.62 L567.87,660.29 L569.36,659.95 L570.85,659.62 L572.34,659.27 L573.83,658.92 L575.32,658.57 L576.81,658.21 L578.30,657.85" fill="none" stroke="#8FB032" stroke-width="1.30" stroke-linejoin="round"/>
<path d="M369.60,710.43 L371.10,710.42 L372.59,710.42 L374.09,710.41 L375.59,710.40 L377.09,710.39 L378.58,710.37 L380.08,710.35 L381.58,710.32 L383.07,710.29 L384.57,710.26 L386.07,710.22 L387.57,710.19 L389.06,710.14 L390.56,710.10 L392.06,710.04 L393.55,709.99 L395.05,709.93 L396.55,709.87 L398.05,709.81 L399.54,709.74 L401.04,709.66 L402.54,709.59 L404.03,709.51 L405.53,709.42 L407.03,709.33 L408.53,709.24 L410.02,709.14 L411.52,709.04 L413.02,708.94 L414.51,708.83 L416.01,708.72 L417.51,708.60 L419.01,708.48 L420.50,708.36 L422.00,708.23 L423.50,708.10 L424.99,707.97 L426.49,707.82 L427.99,707.68 L429.48,707.53 L430.98,707.38 L432.48,707.22 L433.98,707.06 L435.47,706.90 L436.97,706.73 L438.47,706.55 L439.96,706.38 L441.46,706.19 L442.96,706.01 L444.46,705.82 L445.95,705.62 L447.45,705.42 L448.95,705.22 L450.44,705.01 L451.94,704.80 L453.44,704.58 L454.94,704.36 L456.43,704.13 L457.93,703.90 L459.43,703.67 L460.92,703.43 L462.42,703.19 L463.92,702.94 L465.42,702.69 L466.91,702.43 L468.41,702.17 L469.91,701.90 L471.40,701.63 L472.90,701.35 L474.40,701.07 L475.90,700.78 L477.39,700.49 L478.89,700.20 L480.39,699.90 L481.88,699.59 L483.38,699.28 L484.88,698.96 L486.38,698.64 L487.87,698.31 L489.37,697.98 L490.87,697.64 L492.36,697.30 L493.86,696.95 L495.36,696.59 L496.86,696.23 L498.35,695.86 L499.85,695.49 L501.35,695.11 L502.84,694.73 L504.34,694.34 L505.84,693.94 L507.34,693.54 L508.83,693.13 L510.33,692.71 L511.83,692.29 L513.32,691.86 L514.82,691.42 L516.32,690.98 L517.82,690.53 L519.31,690.08 L520.81,689.62 L522.31,689.15 L523.80,688.67 L525.30,688.19 L526.80,687.70 L528.29,687.20 L529.79,686.70 L531.29,686.19 L532.79,685.67 L534.28,685.14 L535.78,684.61 L537.28,684.07 L538.77,683.52 L540.27,682.97 L541.77,682.41 L543.27,681.83 L544.76,681.26 L546.26,680.67 L547.76,680.08 L549.25,679.47 L550.75,678.86 L552.25,678.25 L553.75,677.62 L555.24,676.98 L556.74,676.34 L558.24,675.69 L559.73,675.03 L561.23,674.36 L562.73,673.69 L564.23,673.00 L565.72,672.31 L567.22,671.61 L568.72,670.90 L570.21,670.18 L571.71,669.45 L573.21,668.71 L574.71,667.96 L576.20,667.21 L577.70,666.44" fill="none" stroke="#5D9EC7" stroke-width="1.30" stroke-dasharray="4.5 4.5" stroke-linejoin="round"/>
<path d="M369.60,757.87 L371.09,757.86 L372.58,757.85 L374.07,757.83 L375.56,757.80 L377.05,757.76 L378.54,757.71 L380.04,757.65 L381.53,757.58 L383.02,757.51 L384.51,757.42 L386.00,757.33 L387.49,757.23 L388.98,757.12 L390.47,757.01 L391.96,756.88 L393.45,756.75 L394.94,756.61 L396.43,756.46 L397.92,756.30 L399.41,756.14 L400.91,755.97 L402.40,755.79 L403.89,755.60 L405.38,755.41 L406.87,755.21 L408.36,755.00 L409.85,754.79 L411.34,754.57 L412.83,754.34 L414.32,754.10 L415.81,753.86 L417.30,753.61 L418.79,753.35 L420.28,753.09 L421.77,752.82 L423.27,752.55 L424.76,752.27 L426.25,751.98 L427.74,751.69 L429.23,751.39 L430.72,751.08 L432.21,750.77 L433.70,750.45 L435.19,750.13 L436.68,749.79 L438.17,749.46 L439.66,749.11 L441.15,748.76 L442.64,748.40 L444.14,748.04 L445.63,747.67 L447.12,747.29 L448.61,746.91 L450.10,746.52 L451.59,746.12 L453.08,745.71 L454.57,745.30 L456.06,744.88 L457.55,744.46 L459.04,744.02 L460.53,743.58 L462.02,743.14 L463.51,742.68 L465.01,742.22 L466.50,741.75 L467.99,741.27 L469.48,740.79 L470.97,740.30 L472.46,739.80 L473.95,739.29 L475.44,738.78 L476.93,738.25 L478.42,737.72 L479.91,737.19 L481.40,736.64 L482.89,736.09 L484.38,735.52 L485.88,734.95 L487.37,734.37 L488.86,733.78 L490.35,733.19 L491.84,732.58 L493.33,731.96 L494.82,731.34 L496.31,730.71 L497.80,730.06 L499.29,729.41 L500.78,728.75 L502.27,728.07 L503.76,727.39 L505.25,726.70 L506.75,726.00 L508.24,725.28 L509.73,724.56 L511.22,723.83 L512.71,723.08 L514.20,722.33 L515.69,721.56 L517.18,720.78 L518.67,719.99 L520.16,719.19 L521.65,718.38 L523.14,717.56 L524.63,716.72 L526.12,715.88 L527.62,715.02 L529.11,714.15 L530.60,713.27 L532.09,712.37 L533.58,711.46 L535.07,710.54 L536.56,709.61 L538.05,708.67 L539.54,707.71 L541.03,706.74 L542.52,705.75 L544.01,704.75 L545.50,703.74 L547.00,702.72 L548.49,701.68 L549.98,700.63 L551.47,699.56 L552.96,698.48 L554.45,697.39 L555.94,696.28 L557.43,695.16 L558.92,694.02 L560.41,692.87 L561.90,691.70 L563.39,690.52 L564.88,689.32 L566.37,688.11 L567.87,686.88 L569.36,685.64 L570.85,684.38 L572.34,683.11 L573.83,681.82 L575.32,680.51 L576.81,679.19 L578.30,677.85" fill="none" stroke="#EB6235" stroke-width="1.30" stroke-linejoin="round"/>
<text x="443.60" y="651.80" font-size="8.40" text-anchor="middle" fill="#111"><tspan font-style="italic">π</tspan></text>
<line x1="440.00" y1="653.90" x2="446.00" y2="653.90" stroke="#222" stroke-width="0.9"/>
<text x="443.30" y="663.50" font-size="8.70" text-anchor="middle" fill="#111"><tspan>6</tspan></text>
<text x="517.30" y="651.80" font-size="8.40" text-anchor="middle" fill="#111"><tspan font-style="italic">π</tspan></text>
<line x1="513.70" y1="653.90" x2="519.70" y2="653.90" stroke="#222" stroke-width="0.9"/>
<text x="517.00" y="663.50" font-size="8.70" text-anchor="middle" fill="#111"><tspan>3</tspan></text>
<text x="475.70" y="609.10" font-size="8.75" text-anchor="middle" fill="#111"><tspan font-style="italic">v</tspan><tspan>=3/4,  </tspan><tspan font-style="italic">ξ</tspan><tspan>=−1/2,  </tspan><tspan font-style="italic">β</tspan><tspan>=1</tspan></text>
<g transform="translate(356.50,621.50)" fill="#1a1a1a">
<line x1="0.2" y1="0" x2="5.0" y2="0" stroke="#444" stroke-width="0.9"/>
<polyline points="8.3,-4.5 6.0,0 8.3,4.5" fill="none" stroke="#111" stroke-width="1.1"/>
<polyline points="19.3,-4.5 21.6,0 19.3,4.5" fill="none" stroke="#111" stroke-width="1.1"/>
<text fill="#111" x="9.4" y="2.1" font-size="7.8" font-style="italic">T</text>
<polyline points="10.6,-4.7 11.8,-6.5 13.0,-4.7" fill="none" stroke="#111" stroke-width="1.0"/>
<text x="16.4" y="-4.7" font-size="5.6" font-style="italic">τ</text>
<text x="15.2" y="4.8" font-size="5.6" font-style="italic">τ</text>
<text x="22.8" y="-2.9" font-size="6" font-style="italic">ζ</text>
<text x="22.5" y="4.3" font-size="6" font-style="italic">β</text>
</g>
<rect x="597.60" y="640.00" width="86.70" height="85.40" fill="none" stroke="#111" stroke-width="1.3"/>
<line x1="604.60" y1="651.80" x2="631.20" y2="651.80" stroke="#5D9EC7" stroke-width="1.3" stroke-dasharray="2.3 2.1"/>
<text x="635.80" y="654.80" font-size="8.40" text-anchor="start" fill="#111"><tspan font-style="italic">ζ</tspan><tspan>=</tspan><tspan>0</tspan></text>
<line x1="604.60" y1="667.15" x2="631.20" y2="667.15" stroke="#5E81B5" stroke-width="1.3"/>
<text x="635.80" y="670.15" font-size="8.40" text-anchor="start" fill="#111"><tspan font-style="italic">ζ</tspan><tspan>=</tspan><tspan>2</tspan><tspan font-style="italic">π</tspan><tspan dx="0.7">/5</tspan></text>
<line x1="604.60" y1="682.50" x2="631.20" y2="682.50" stroke="#8FB032" stroke-width="1.3"/>
<text x="635.80" y="685.50" font-size="8.40" text-anchor="start" fill="#111"><tspan font-style="italic">ζ</tspan><tspan>=</tspan><tspan>48</tspan><tspan font-style="italic">π</tspan><tspan dx="0.7">/100</tspan></text>
<line x1="604.60" y1="697.85" x2="631.20" y2="697.85" stroke="#5D9EC7" stroke-width="1.3" stroke-dasharray="4.5 4.5"/>
<text x="635.80" y="700.85" font-size="8.40" text-anchor="start" fill="#111"><tspan font-style="italic">ζ</tspan><tspan>=</tspan><tspan font-style="italic">π</tspan><tspan dx="0.7">/2</tspan></text>
<line x1="604.60" y1="713.20" x2="631.20" y2="713.20" stroke="#EB6235" stroke-width="1.3"/>
<text x="635.80" y="716.20" font-size="8.40" text-anchor="start" fill="#111"><tspan font-style="italic">ζ</tspan><tspan>=</tspan><tspan>51</tspan><tspan font-style="italic">π</tspan><tspan dx="0.7">/100</tspan></text>
</svg>
</body></html>
